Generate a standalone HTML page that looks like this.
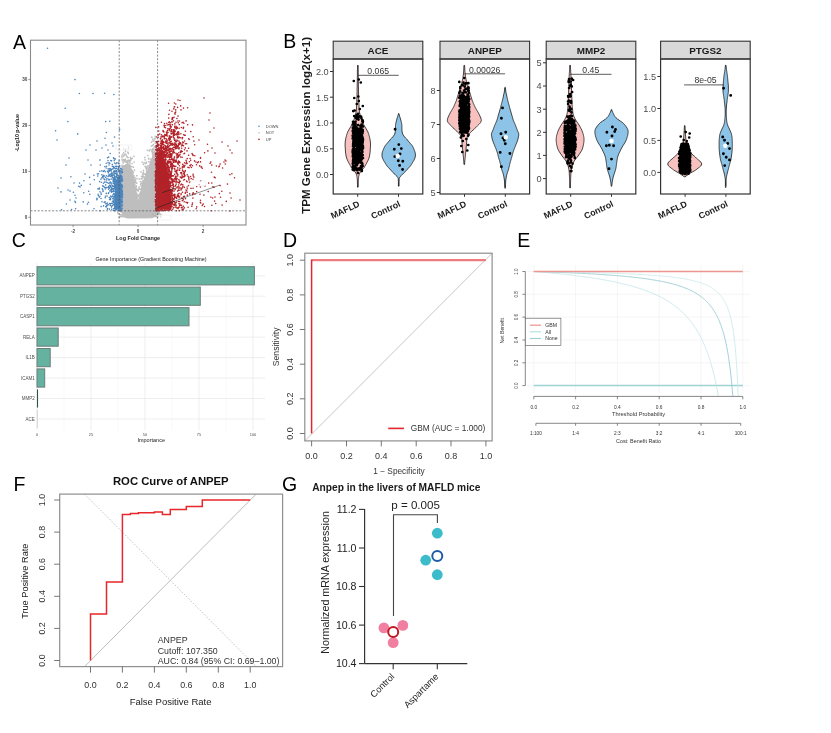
<!DOCTYPE html>
<html><head><meta charset="utf-8"><title>Figure</title>
<style>
html,body{margin:0;padding:0;background:#fff;width:831px;height:733px;overflow:hidden}
svg{display:block}
text{font-family:'Liberation Sans', Arial, sans-serif}
</style></head><body>
<svg width="831" height="733" viewBox="0 0 831 733">
<rect width="831" height="733" fill="#fff"/>
<text x="12.9" y="48.6" font-size="19.5">A</text>
<text x="283.2" y="48.2" font-size="19.5">B</text>
<text x="11.8" y="247" font-size="19.5">C</text>
<text x="283" y="246.5" font-size="19.5">D</text>
<text x="517.3" y="247" font-size="19.5">E</text>
<text x="13.5" y="490.6" font-size="19.5">F</text>
<text x="282" y="490.6" font-size="19.5">G</text>
<path d="M121.5 217.5 L121.5 166 L125 165 L128 165.5 L131 167.5 L133 172 L135 181 L136.5 191 L138 201 L139.5 196 L141 188 L143 181 L146 173 L149 165 L152 157 L155.5 149 L155.5 211 L160 211.8 L159 215.5 L152 218.3 L128 218.6 L120 216.5 L118.5 211.5 Z" fill="#bebebe"/>
<path d="M136.8 175.7h0M137.3 190.3h0M138.8 195h0M138.9 196.4h0M143 181.3h0M131.6 166.5h0M124.2 161.7h0M122.5 154.3h0M155.4 138h0M142.5 181.2h0M126.5 155.8h0M123.1 166h0M127.7 166.8h0M137.2 195.2h0M136.4 186h0M143.4 172.3h0M138.5 195.7h0M130.7 160.3h0M155.9 195.3h0M145.8 174.6h0M132 170.4h0M123.5 159.6h0M147.8 155.5h0M134.5 170.2h0M154.5 152.5h0M128.3 167h0M134.9 177.4h0M123.6 156.2h0M130.4 157.3h0M124.1 155.3h0M147.5 150.3h0M125.1 166.4h0M123.1 162.9h0M148.9 161.7h0M136.7 183.2h0M127.7 166.4h0M143.5 176.3h0M125.1 161h0M130.4 165.7h0M155 149.2h0M152 151.3h0M128.4 153.3h0M143.5 170.4h0M124.5 160.4h0M130 167.9h0M148 165.5h0M123.6 160.3h0M124.2 160.9h0M142 182.5h0M134 156.3h0M137.9 195.4h0M141.1 185.3h0M126.4 162.5h0M152.8 153.9h0M127.6 160.7h0M146.9 166.6h0M154.3 151.2h0M151.9 151.3h0M124.6 160.9h0M122.4 160.8h0M145.7 173.9h0M130 162.9h0M131.3 158.8h0M127.1 166.2h0M129 164.3h0M140.6 184.3h0M130.8 158.9h0M153.1 155.5h0M130.4 167h0M136.6 188h0M133.9 175.5h0M141 183.6h0M152.2 151.8h0M155.3 143.3h0M141.5 176.4h0M125.9 165h0M152.9 156.2h0M145.5 173.9h0M143.3 181.4h0M137.9 200.7h0M156 204.7h0M123.6 152.8h0M152.5 153.1h0M146.8 167.8h0M153 140.8h0M133.3 167.2h0M151.5 142.1h0M135.6 182h0M141 171.9h0M142.9 174.2h0M142.3 176.9h0M123.8 148.6h0M151.8 137.2h0M146.5 162h0M141.3 178.9h0M136.4 190h0M147.3 167.9h0M122 159.1h0M129.1 161.6h0M145.4 163.6h0M153.2 155.5h0M130 160.7h0M144.7 177.3h0M128.1 157.6h0M144.1 162.5h0M136.5 186.1h0M144.3 174h0M127.9 152.2h0M153 149.4h0M151.8 150.1h0M132.1 163.5h0M125.8 149.5h0M150.7 161.6h0M145.9 167.9h0M126.9 164.6h0M136.8 193.3h0M135.5 179.6h0M142.9 175h0M150.4 162.5h0M155.4 147.4h0M122.1 166.3h0M151.5 146h0M141 186h0M131.8 170.4h0M125.8 164.9h0M136.9 178.6h0M129.3 165.3h0M125.9 154.5h0M136.6 189.7h0M143 173.2h0M154.5 139.2h0M145 174.1h0M127.3 157.2h0M121.4 198.5h0M127.3 164.4h0M130.5 160.8h0M139.2 187h0M142.5 183.9h0M148.7 158.3h0M152.7 139h0M146.3 162.9h0M125.5 154.5h0M152.8 152.9h0M134.2 162h0M148.9 159h0M154 141.1h0M128.2 164.2h0M146.3 168.4h0M146.1 162.5h0M128.5 146.9h0M155.2 136.3h0M139.8 193.9h0M152.8 148.9h0M151 159.1h0M136.4 189h0M140.3 192.3h0M122 157h0M149.3 150.8h0M127.1 160.5h0M132.7 171.7h0M126.2 161.9h0M139.1 196.1h0M145.1 159.8h0M124 165.8h0M128.7 160.2h0M146.5 171.9h0M143.4 164.4h0M140.6 189.2h0M131.9 158.3h0M152.5 145.5h0M128.3 153.2h0M139.3 178.9h0M141.1 185.9h0M138.6 189.8h0M142.2 162h0M139.1 194.8h0M135 179h0M138.2 190.9h0M145.2 166.4h0M135.5 181.2h0M154.5 146.5h0M137.6 196.3h0M125.4 151.4h0M152.5 150.6h0M137.7 198h0M142.6 178.5h0M153.4 144.6h0M121.8 156h0M127.8 165h0M132.3 158.3h0M133.4 172.4h0M146.6 170.1h0M125.3 159.7h0M127.9 166.5h0M139.6 189.1h0M135.5 182.2h0M139.5 194.1h0M143.1 177.1h0M143.3 164.3h0M142.4 181.3h0M151 159.6h0M149.4 150.8h0M152.6 154h0M153.3 148.4h0M128.6 148.6h0M125.7 166.4h0M129.4 166.9h0M124.4 159.8h0M150.1 149.5h0M125.4 159.1h0M135.1 182.5h0M128 165.5h0M144.9 157.4h0M125 154h0M138.7 199.6h0M145 166.5h0M127.6 163.1h0M122.3 165.4h0M140.3 181.6h0M126.1 165.6h0M127.5 162h0M155.7 196h0M153.4 152.5h0M154.3 151.4h0M137.2 196.2h0M137.3 190.2h0M139 188h0M121.5 207.3h0M147.8 216.2h0M125 212.9h0M149.5 212.4h0M125.6 210.4h0M139.6 209.1h0M156.3 215.8h0M148 216.3h0M144.7 212.4h0M143.4 213.3h0M160.2 215.8h0M128.4 216.7h0M149.8 215.6h0M152.8 212.4h0M156.4 216.5h0M147.6 215.5h0M150.7 212.4h0M148.8 209.6h0M132 213h0M117.5 212h0M145.1 214.3h0M127.2 217h0M146.3 211.9h0M146 213.8h0M140.5 212.3h0M161 214.5h0M147.9 215.5h0M160.1 209.2h0M144.1 215.3h0M128.3 212.4h0M119.2 210.7h0M133.5 209.8h0M128 216.7h0M141.2 213.3h0M159.6 213.8h0M160.8 214.4h0M152.6 209.6h0M143.3 215.5h0M119 216.9h0M124 213h0M124.4 213.2h0M143.9 209.5h0M158.6 212.6h0M140.2 214.1h0M133.1 211.4h0M145.8 213.8h0M129.5 215.1h0M130 209.1h0M127.8 209.4h0M123.9 215.4h0M134.2 216.6h0M149.9 209.4h0M160.5 217h0M120.2 216.7h0M135.9 213.1h0M159.8 211.1h0M140 217h0M148.8 213h0M160.1 215.9h0M143.6 210h0M144.5 212.9h0M126 209.4h0M140.2 210.1h0M136.5 214.7h0M137 211.2h0M142.6 212.6h0M151.2 213.5h0M160.9 217.1h0M149.3 211h0M122 216.6h0M151.5 214.3h0M132.8 211.3h0M147.1 213.8h0M143 214.4h0M150.1 210.6h0M128 217.3h0M157.3 216.5h0M118.7 209.5h0M128.9 212.6h0M144.4 209.9h0M140.8 209.6h0M120.8 214.7h0M141.2 214.4h0M133.4 213.1h0M126.3 211.9h0M149.8 216.1h0M120.3 210h0M152.6 214.3h0M150.8 210.8h0M135.7 211.2h0M152.6 212.1h0M145.8 217.4h0M131.3 213.7h0M149.8 216.8h0M135.8 212.1h0M121.3 216.4h0M120.5 209.7h0M141.8 213.1h0M147.2 211.5h0M151.1 209.6h0M126.4 214.6h0M120.6 211.6h0M148.9 214.9h0M129.4 210.2h0M132.7 215.2h0M133.1 210h0M148.2 213.8h0M157.4 217h0M157.2 212.7h0M152.3 211.6h0M131 212.4h0M158.1 216.6h0M127.9 212.1h0M133.1 212.1h0M134.4 212.3h0M125.6 213.8h0M152.1 213.6h0M153.8 213.8h0M124.8 215.5h0M155.8 211.4h0M118 213.4h0" stroke="#bebebe" stroke-width="1.7" stroke-linecap="round" fill="none"/>
<path d="M121.5 209.5L121.5 174L118 178L115.5 186L114.5 196L114 209.5Z" fill="#4a84bb"/>
<path d="M111.4 169.4h0M113.1 204.8h0M107.4 209.2h0M109.8 163.2h0M111.6 197h0M122.3 208.2h0M119.8 177.1h0M121.8 201.7h0M109.4 188h0M108.6 179.4h0M114.6 177.5h0M113.8 186.2h0M113.1 180.9h0M115.6 185.3h0M119.6 198.1h0M113.6 157.7h0M118.7 197.6h0M115.9 166.6h0M115.4 202h0M113.3 210.5h0M113.4 179.8h0M120.5 205.9h0M120.1 195.2h0M120.1 208.2h0M119.7 197.2h0M122.2 193.1h0M118.4 204.8h0M107.4 203.1h0M101 193h0M122.1 172h0M119.8 193.7h0M115.4 168.7h0M119 207.9h0M114.1 173.5h0M119.8 210.8h0M118.2 193h0M115.2 187.6h0M115.5 185.9h0M113.6 200.9h0M115 186.3h0M116.4 176.3h0M114.2 183.2h0M111.1 173.7h0M117.4 179.9h0M119.2 177.9h0M119.7 179.9h0M113.3 183.2h0M121.3 194.3h0M108.6 189.3h0M121 195.9h0M99.8 171.2h0M121.8 194.8h0M121 191.2h0M121.3 171.8h0M120.7 188.9h0M120.4 181.4h0M120.2 187.4h0M119.1 205h0M121.7 179.3h0M109.3 197.5h0M120.8 206h0M111.4 171h0M118.7 169.8h0M119.3 201.1h0M120 189.6h0M104.4 182.1h0M109.6 175.1h0M118.8 200.8h0M121.2 192.4h0M114.7 194.1h0M116 204.5h0M118.6 177.3h0M115.7 182.6h0M118.6 195.9h0M114.2 160.6h0M114.6 188.6h0M113.7 158.4h0M108.4 172.7h0M115.5 166.3h0M121.4 196.7h0M110.3 198.4h0M114.9 191.2h0M105.3 189h0M113.3 188.8h0M116 173.5h0M106 182.1h0M110.6 185.6h0M117.3 187.9h0M119.8 190.5h0M120.6 201h0M101.4 182.2h0M117.8 169.7h0M113.7 167.8h0M116.6 188.3h0M117.1 179.7h0M117.6 190.4h0M115.2 183.8h0M109.6 199.5h0M110.8 189.5h0M111.9 172.7h0M121.8 200.3h0M105.4 171.8h0M114.5 179.9h0M113.5 190.2h0M104.8 187.4h0M109 165h0M121.2 188.6h0M118.5 198.4h0M115.6 181.7h0M120.3 180.5h0M116 196.2h0M117.4 203.7h0M102.7 189.6h0M116.3 180.9h0M120 175.8h0M119.2 179.4h0M114.6 163h0M115.9 195.6h0M121.1 173.2h0M119 200.1h0M120.2 209.9h0M116.4 190.9h0M99.9 196.3h0M120.6 168.8h0M117.9 177.9h0M116.4 195.4h0M101.1 206.6h0M118.6 177.4h0M118.5 178.8h0M115.1 158.7h0M121.5 185.5h0M113.6 208.8h0M121.3 176.3h0M120.7 195.6h0M114.5 202.7h0M112.8 195h0M121.6 169.1h0M119 187.7h0M100.9 179.3h0M111.7 209.3h0M116.6 201.2h0M121.3 200h0M122.4 202.6h0M117.1 173.9h0M120.3 190.4h0M122.6 180.8h0M116.9 185.4h0M117.4 186.7h0M120.4 196.2h0M114.9 194.7h0M117.3 178.3h0M116.3 190.5h0M108.2 168.9h0M120.9 194h0M120.5 180.7h0M110.8 174.5h0M106.2 206.9h0M121.6 188.5h0M113.7 193.7h0M121.6 177.3h0M112.4 177.8h0M122.2 193.2h0M115.1 180.4h0M115.6 184.4h0M108.4 193.5h0M122.4 179.1h0M114.9 204.3h0M115.3 195.7h0M120 189.5h0M120.7 200.2h0M108.3 204.7h0M121.5 190.4h0M116.7 187h0M120.5 170.6h0M121.4 209.9h0M122.4 191.6h0M102.3 188.7h0M109.4 163.1h0M113.7 178.5h0M114.9 176.7h0M114.7 178.6h0M113.9 171.1h0M111.1 190h0M119.3 183.3h0M119.5 196.3h0M115 187.8h0M109 170.9h0M120.1 200.7h0M119.5 203.3h0M116.9 197h0M106.6 166.3h0M121.6 197.2h0M114.8 178.7h0M119.3 198.6h0M118.7 200.3h0M116.7 181.1h0M119.6 193h0M122.4 201.5h0M120.7 197.2h0M112.6 198.6h0M120.7 185.6h0M120 203.7h0M119.9 182.4h0M109 188.4h0M120.4 194.5h0M120.7 183.9h0M107.6 171.4h0M118.6 163.5h0M119.7 172.9h0M105.2 201.9h0M120 193.6h0M120.1 191.9h0M117.6 190h0M117.6 183.2h0M115.9 189.5h0M115.7 186.8h0M115.7 171.7h0M109.4 209.1h0M116 202.8h0M120.1 187.8h0M113.9 198.1h0M122.6 194h0M113.6 202.5h0M119.8 193.5h0M105.8 203.8h0M103.5 183.2h0M113.9 197.3h0M116.4 171.9h0M116.2 176.2h0M117.9 186.8h0M119.5 165.7h0M119.1 196h0M119.8 206.9h0M113.9 199.8h0M109.6 183h0M114.4 179.8h0M114.6 194.4h0M116.7 183h0M118 180.4h0M120.2 187.7h0M111 190.9h0M119.3 176.7h0M122 191.4h0M117.9 196.7h0M119.5 204.2h0M121.4 194h0M121.2 209.7h0M110.5 203.8h0M122.3 171.7h0M111.5 189.7h0M120.9 200.9h0M121.6 189.7h0M114 181.2h0M110.4 182.7h0M116.4 176.1h0M121.9 206h0M104.2 176.1h0M113.4 181.7h0M116.5 175.9h0M119.8 181h0M120.7 196.1h0M119.2 197.2h0M121.6 186.5h0M113.9 194h0M117.2 208.8h0M112.9 169.1h0M113.7 179.3h0M107.1 205.8h0M120.7 170.9h0M122.5 197.5h0M121.8 185.9h0M114.8 188.8h0M121.1 187.1h0M122.4 205.2h0M116.6 209.8h0M118.3 163h0M117.2 175.5h0M108.6 183.2h0M112 176.1h0M117.4 175.1h0M103.5 205.9h0M115.3 210.7h0M117.2 203.5h0M115 173.8h0M118.6 202.8h0M117 193.6h0M106.4 175.8h0M121.8 184.9h0M115.4 178.7h0M104.8 179.8h0M120.7 179.1h0M110.9 196.6h0M116 176.8h0M119.4 189.1h0M118.2 168.8h0M120.9 192.9h0M122.3 185.2h0M109.6 203.6h0M118.7 192h0M121.5 188.8h0M116.1 182.3h0M116.8 174.4h0M116.1 194.2h0M113.1 168.3h0M120.9 175.2h0M119.4 177.3h0M115.1 202.7h0M105.7 184.9h0M116.8 186.9h0M119.7 165.9h0M114.8 194.3h0M118.6 177.1h0M119 188.8h0M114.8 195.2h0M113.1 191.1h0M110.2 185.8h0M112.5 174h0M116.8 162.7h0M122 186.4h0M113.5 172.1h0M103.5 171.4h0M120.9 171.6h0M107 178.5h0M94 208.7h0M112.9 205.4h0M119.1 193.8h0M118.7 200.4h0M120.4 188.8h0M120.2 206.3h0M117.1 189.9h0M104 178.9h0M117.6 199.9h0M114.5 170.8h0M120.3 204.4h0M109.2 171.3h0M119.8 172.6h0M119.2 165.9h0M121.8 187.4h0M121.2 194.8h0M117.5 188.3h0M111.5 207.1h0M113 179.7h0M119.5 170.3h0M116.1 204.4h0M108.8 175.9h0M117.6 187.1h0M114.9 182.1h0M118.7 196h0M101.2 194.3h0M120.7 190.5h0M118.6 183.8h0M114.3 196.9h0M114.4 179.7h0M114.7 210.7h0M116.2 187h0M115.4 180.9h0M119.4 196.3h0M109.7 185.3h0M115.4 171.4h0M115.5 192.6h0M107.1 196h0M116.9 174h0M118.6 178.8h0M120.7 184.6h0M114.2 186.8h0M117.2 174.4h0M98.4 173.7h0M109.2 170.7h0M113.1 191.8h0M113.7 178.3h0M117.2 179.9h0M119.2 189.9h0M122.4 205.1h0M115.1 185.1h0M122.2 170h0M121.9 193.7h0M104.9 166.6h0M121 195.7h0M111.8 206h0M120.7 194h0M114.3 196.8h0M113.4 190.8h0M121.4 197.1h0M116.7 187.8h0M113.3 175h0M108.7 192.8h0M111.8 191.6h0M108.9 176h0M121.5 202.5h0M116.5 189.2h0M116.5 202h0M116.7 166.3h0M111.7 203.3h0M119.5 196.8h0M107.2 182.6h0M109.5 168.8h0M111.6 188.9h0M115.2 199.4h0M122.1 199.2h0M113.4 188.9h0M113.7 204.3h0M121 190h0M113.9 200.8h0M115.6 191h0M116.1 177h0M121.4 192.7h0M121.6 186.1h0M114.3 184.2h0M117.4 179.4h0M116 190.5h0M107.6 208.5h0M116.9 194.3h0M119.9 182.2h0M116.6 177.2h0M100.3 165h0M118.9 171.5h0M119.5 205.5h0M122.4 187h0M103.1 186.1h0M101.8 174.8h0M121.8 181.2h0M110.8 160.5h0M119.5 179.5h0M108.6 186.4h0M113.5 201.3h0M116.4 196.4h0M109.9 169.2h0M118.4 205.3h0M114.4 167.9h0M117.1 193.3h0M105.8 206.5h0M115.5 207.7h0M114.6 176.9h0M113.2 182.1h0M110.7 196h0M122.3 190.2h0M120.1 196.8h0M115.5 178.8h0M113.6 166.6h0M115.1 180.5h0M114.6 179.5h0M121.9 176.4h0M116.4 209.3h0M118.6 185.8h0M111.2 179.1h0M103.1 190.7h0M116.1 177h0M116.4 170.6h0M109 180.1h0M114.9 204.2h0M108 176.5h0M109.7 191h0M119.1 176.7h0M111.5 173.8h0M106.1 187.6h0M108.1 162.7h0M118.1 166.8h0M122 204.9h0M115.9 197.1h0M122.5 186.9h0M121.6 192.8h0M104.3 202.4h0M111.4 192.2h0M108.5 187.2h0M111.8 188.2h0M122.4 172.4h0M112.3 188.3h0M114.3 175.4h0M112.6 186.2h0M118.8 168h0M106.1 168h0M105.2 197.7h0M118.4 171.6h0M116 194h0M120.9 210.9h0M99.4 189h0M112.9 195.2h0M112.9 196.3h0M114.3 187.7h0M118 181.5h0M119 188.7h0M100 191.7h0M117.6 190.3h0M116.3 184.6h0M103.1 177.2h0M120.9 190h0M111.1 186.9h0M106.7 205.6h0M100 210.8h0M108.7 157.1h0M120.3 176.8h0M118.5 192.5h0M121.8 199.8h0M108 160.6h0M118 200.5h0M121.7 178.8h0M121.7 180.1h0M115.7 180.1h0M120.8 189h0M118.6 185h0M98.1 194.3h0M117.8 177.4h0M117.9 172h0M116.9 190.1h0M101.9 177.9h0M121.3 187.4h0M118.1 205.1h0M115.2 182.2h0M83.9 180.7h0M97.7 176h0M116 180h0M108.2 171.2h0M112.3 164.5h0M114.9 206h0M83.2 201.9h0M70.9 176.7h0M115.9 163.8h0M76 198h0M120.3 174.7h0M74.9 201.2h0M115.1 206.2h0M121.4 187h0M115.8 209.2h0M120.5 184.2h0M110.2 182h0M75.6 208.8h0M118.6 210.4h0M81.3 185.4h0M119.8 200.2h0M97.4 174h0M112.7 177.2h0M119.2 178.3h0M61.6 209.7h0M121.7 209h0M119.6 179.6h0M118.6 175.9h0M111.5 183.9h0M122.4 196.1h0M121.9 203h0M112.4 185.5h0M116.5 186.6h0M114 191h0M112.7 188.9h0M78.7 186.2h0M88.4 202.3h0M117.2 202.7h0M102 201.8h0M75.5 202.4h0M121 186.9h0M111.6 161h0M111 182.5h0M117.6 184.9h0M106.6 180h0M112.1 175.5h0M66.4 204h0M96.9 198.4h0M94.3 179.7h0M111.4 173.3h0M109.6 175.6h0M117.1 174.2h0M111.4 191h0M93.9 175.3h0M61 191.9h0M102.7 185.9h0M96.7 199.8h0M118.1 177.7h0M122.2 195.1h0M107.5 157.7h0M79.5 183.1h0M120.7 168.3h0M89.8 194.3h0M99.9 160.1h0M107 203.5h0M90.2 184.2h0M98 188.9h0M106.3 193.4h0M114.8 188.9h0M97.2 199h0M105.6 177.4h0M116.5 204.6h0M119.3 189h0M116.2 186h0M83.8 192.7h0M70 191.1h0M116.1 204.4h0M122 177.7h0M110.3 187h0M119 190.3h0M118.2 193.1h0M115.6 185h0M75 195.3h0M118.3 185.7h0M71.5 209.5h0M99.6 181.6h0M106.2 163.3h0M110.1 168.5h0M110.6 199.6h0M120 189h0M117.5 180.3h0M99.3 188.1h0M103 191.4h0M112.3 166.2h0M87.5 204.1h0M103.6 186.6h0M120.4 201.2h0M114.3 185.7h0M104.3 170.5h0M120.4 204.7h0M112.3 203.2h0M112.5 201.2h0M73.4 192.3h0M116.5 168.4h0M120.6 194.3h0M111.2 175.3h0M114.5 172h0M102.9 176.3h0M115.3 195.3h0M107 187.6h0M116.8 184.4h0M88.7 191.3h0M115.1 159.2h0M114.4 181.5h0M101 198.5h0M105.5 196.3h0M113.5 178.2h0M110.2 153.5h0M115.9 171.8h0M99.3 197.1h0M107.4 205h0M119.1 161h0M121.6 181.1h0M114.7 195.1h0M102.7 176.4h0M118 188.9h0M109.4 179.6h0M98.3 195.6h0M101.9 170.9h0M110.6 176.5h0M119.7 176.5h0M117.1 182.2h0M113.9 208.6h0M110.5 170.6h0M109.1 174.3h0M121.3 188.4h0M103.8 175.2h0M117.5 199.3h0M110.3 205.4h0M120 189.5h0M89.6 177.4h0M120.6 202.1h0M47.5 48.2h0M75 79.6h0M79.4 93.5h0M93 93.5h0M104.6 93.2h0M113.9 94.6h0M65.2 108.2h0M67.9 121.6h0M105.7 121.6h0M109.8 121.2h0M55.6 130.7h0M77.7 133.9h0M106.4 132.5h0M105 138.2h0M114.6 137.1h0M119.6 129.4h0M57 140h0M69 158h0M66 165h0M61 178h0M58 188h0M68 190h0M70 200h0M74 183h0M80 187h0M85 174h0M91 165h0M96 150h0M100 160h0M106 145h0M112 143h0M90 145h0M86 150h0M102 148h0M108 150h0M97 141h0M113 146h0M88 160h0" stroke="#4a84bb" stroke-width="1.6" stroke-linecap="round" fill="none"/>
<path d="M156.5 209.5L156.5 153L159 152L162 155L165 161L167.5 170L169.5 182L171 196L171.5 209.5Z" fill="#b22228"/>
<path d="M161.3 207.7h0M176.1 205.8h0M166.5 207.9h0M161.3 201.8h0M162.1 181.8h0M161 145.9h0M172 133.5h0M156.9 163.6h0M175.7 146.3h0M168.6 138.5h0M172.8 203.8h0M168.3 175.4h0M175.6 207h0M161.7 155.6h0M175.2 197h0M164.5 179.1h0M158.7 184.4h0M173.5 135.2h0M161.1 207.1h0M158.1 197.4h0M165.7 200.2h0M166.2 164.5h0M163.2 183h0M158 201.9h0M162 177h0M175.1 147.2h0M166.9 143.2h0M155.8 182.4h0M160.9 192.9h0M167.6 162.3h0M171.7 144.6h0M162.8 208.4h0M156.4 158.2h0M163.4 201.6h0M172.7 168.3h0M163.3 194h0M169 129.1h0M185.4 143.7h0M164.4 137.8h0M170.9 185.9h0M165.8 148.5h0M193.3 192.9h0M163.3 155.8h0M168.6 124.8h0M176.3 144.8h0M162.5 180.2h0M171.7 201.3h0M171.3 173.4h0M172.1 204.1h0M159 180.4h0M175.8 166.4h0M172 204.6h0M162.2 161.3h0M159 198.9h0M178.9 190.1h0M156.3 196.5h0M188.8 178.6h0M156.8 178.8h0M167.6 150.6h0M172 169.7h0M159.9 170.3h0M161.5 134.8h0M156 145.9h0M157.6 200.5h0M156.2 149.7h0M166.8 190.3h0M164.5 166.1h0M160 176.7h0M167.7 195.6h0M193.2 175.8h0M159 166.1h0M162.6 178h0M178.3 157h0M155.9 158.5h0M179.1 193.3h0M160.9 143.5h0M171.6 159.3h0M156.1 162.2h0M160.1 202.7h0M182.5 170.1h0M158.9 154.6h0M179.5 196.7h0M163.7 189.2h0M162.2 161.1h0M159.3 169.1h0M160.8 167.4h0M168.7 170.7h0M173.4 186h0M156.2 154.3h0M166.8 173.6h0M162 184.7h0M158.7 174h0M158.6 192.1h0M161.3 140.7h0M164.9 201.9h0M176 122.2h0M183.9 123.3h0M163.8 174.3h0M183.2 166.9h0M193.9 177.1h0M174.4 196.4h0M169.6 188.1h0M156.2 173.8h0M157.5 162.4h0M160.6 143.4h0M165.8 181.9h0M158.3 162.6h0M160.8 173.5h0M155.9 210.8h0M160.4 138.9h0M158.5 166.9h0M157 153.2h0M174.9 196.1h0M160.9 178.2h0M156.1 178h0M168.9 114.4h0M160.7 184.3h0M168.9 190.6h0M157.4 180.1h0M159.9 203.7h0M169.9 138.3h0M162.2 164.7h0M159.9 164h0M164.9 206.6h0M157.9 172.3h0M168 132.5h0M159.1 162.1h0M159.1 194.5h0M178.7 161.8h0M166.3 153h0M165.5 202.5h0M165.7 162.9h0M171.4 205.3h0M167.8 143h0M179.2 183.1h0M170.7 137.4h0M179.3 144.5h0M167.7 171.6h0M159.5 182.9h0M173.1 184.8h0M163.7 157.2h0M156.6 201h0M174.4 166.5h0M183.4 165.3h0M160.2 148.3h0M155.3 171.5h0M158.6 159.9h0M185.3 171.1h0M169.8 181.7h0M174.4 160.7h0M174.7 204.1h0M172.9 161h0M164.8 169.1h0M158.6 155.1h0M173.1 185.5h0M160.1 180.4h0M170.8 192.6h0M187 150.9h0M155.4 176.7h0M166.2 135.4h0M162.6 152h0M157.4 209.1h0M162.1 150.5h0M174.7 174.3h0M161 141.8h0M160.9 166.5h0M170.5 155.4h0M176.8 141.5h0M171.6 164.6h0M166.2 154.3h0M162.9 143.8h0M161.5 169.1h0M169.9 174.7h0M157.8 155.5h0M165.4 185.2h0M160.8 163.2h0M159.7 194.9h0M155.9 163.2h0M164.5 183.8h0M158.9 180.5h0M155.7 172.3h0M159.2 205.2h0M159.3 156.3h0M157.2 181.5h0M164.9 208.6h0M166.4 132.3h0M174.7 106.7h0M161.6 158.5h0M169.8 191.8h0M166.9 189.8h0M173 132.1h0M177.2 156.4h0M178.4 143.9h0M164.4 167.1h0M176.5 148.4h0M176.9 145.6h0M161.6 203.5h0M173.5 149.8h0M169.3 156.9h0M159.6 169.6h0M169.1 191.9h0M161 153.4h0M165 150.1h0M172.1 183h0M164.3 176.5h0M156.2 187.9h0M161.1 168.2h0M156.2 150.3h0M162 207.2h0M172.3 195.4h0M156.2 170.9h0M157.1 193.8h0M158.7 131h0M162.3 183.6h0M156.4 150.6h0M157.7 190.6h0M168 169.8h0M163.7 201.7h0M162.2 209.3h0M165 200.6h0M167.8 130.6h0M157 191h0M163.2 192.4h0M177.1 187.8h0M158.1 205.3h0M156.2 171.9h0M156.7 201.2h0M164.5 138.8h0M160.1 174.7h0M178.9 179.6h0M166.6 188.5h0M186.1 202.3h0M164.3 153h0M163.6 171h0M166.1 208.4h0M177 178.9h0M165.8 183.5h0M183.5 142.6h0M157.5 196.8h0M156.7 203.6h0M159.3 180.9h0M168.4 167.2h0M155.9 166h0M163.4 171h0M155.9 187.2h0M157.3 203.7h0M158 154.7h0M164.6 161.3h0M161.5 156.7h0M170.1 184.6h0M155.4 172.8h0M170 173h0M162.2 183.3h0M169.8 149.8h0M158.1 164.8h0M168.9 148.8h0M169.9 172.2h0M163 172.1h0M169.2 151.2h0M156.4 164.1h0M164.9 156h0M172.2 200.4h0M173.8 132.9h0M184.6 153.3h0M170.4 176.3h0M177.6 107.4h0M165.7 179h0M158.4 191.8h0M168.2 165.9h0M181.7 148.3h0M176.5 202h0M155.8 158.6h0M165.1 145.6h0M156.3 202h0M160.8 138.3h0M164.9 188.6h0M161.9 208.9h0M183.5 108.1h0M158.5 173.5h0M157.1 203.6h0M174.9 181.6h0M160.2 152.3h0M157.6 143.6h0M184.5 149.8h0M169.8 181.4h0M174.9 123.9h0M157.4 208.5h0M157.2 166.1h0M170 153.7h0M165.9 196.6h0M158.5 156.3h0M159.3 197.2h0M159.4 154.8h0M161.5 209.9h0M163.4 187.7h0M157.8 155.5h0M172.6 202.7h0M167.8 164.7h0M164.8 190.8h0M173.3 195.5h0M167.8 181.6h0M174.6 140.6h0M171 206.9h0M173.9 149.7h0M167.4 192.8h0M180.7 152.6h0M173.3 136.1h0M161.1 210.1h0M166.1 205.1h0M161.1 136.7h0M163.8 155.1h0M164.7 174.2h0M168.2 162.5h0M159.2 157.2h0M160.9 181.6h0M166.7 141.4h0M159.3 163.7h0M157 193.4h0M161.8 148.2h0M157.9 187.1h0M170.1 200.9h0M170.6 122.8h0M178.6 195.6h0M172.5 163.4h0M178.9 133.7h0M159.8 154.8h0M173.5 175.7h0M157.6 162.7h0M163.8 131.9h0M183.6 134.7h0M155.8 185.6h0M160 204.9h0M162 162.9h0M156 161h0M181.4 127.5h0M170 207.4h0M156.5 178.9h0M173.4 207.8h0M159.1 203.1h0M157.7 195.7h0M166 188.3h0M164.9 160.8h0M161.2 205.7h0M177.2 127.3h0M159.4 200.4h0M173 147.7h0M166.2 193.6h0M156.7 203h0M169.4 177.3h0M166.5 150.6h0M161.5 209.2h0M176.6 198.4h0M158.2 173h0M166.1 206.7h0M170.2 209.1h0M175.4 179.8h0M156.4 153h0M158.7 182.6h0M159.4 159h0M158.6 178.7h0M169 139.5h0M157.3 174.9h0M174.1 194.7h0M171.1 153.8h0M175 194.7h0M160.2 179h0M160.8 165.2h0M159 199.9h0M179.4 142.2h0M185.3 170.6h0M160.1 202.3h0M162.3 203.6h0M161.4 190.6h0M169.9 184.7h0M167.4 146.6h0M163.2 202.9h0M157.8 172.6h0M182 145h0M160.9 161.8h0M168.2 166.4h0M157.9 197.2h0M156.7 160.9h0M158.8 144.6h0M177.6 134.8h0M164.8 168.6h0M174 117.2h0M162.9 169.9h0M169.1 196.9h0M176.9 128.6h0M164.3 187h0M177.7 147.8h0M161.6 174.6h0M161.6 202.1h0M161.8 151.8h0M176.2 176.3h0M161.1 147.4h0M172.1 163.8h0M163.9 175.8h0M173.4 184h0M155.5 171.5h0M181.5 172.6h0M156 206.8h0M165 202.5h0M172.9 184.3h0M177.7 162.4h0M158.8 176.5h0M155.9 164.2h0M167.7 204.7h0M172.4 190.5h0M162.3 208.9h0M173.3 181.6h0M174.2 181h0M155.6 194.1h0M178.4 145.5h0M173.5 129.8h0M168.1 194h0M168 177.4h0M172.2 167.9h0M155.8 183.7h0M179.2 147.8h0M173.6 161.1h0M162.8 183.4h0M155.9 176.5h0M180 204.1h0M169.9 177.7h0M165.7 184.2h0M156.8 188.2h0M157.2 172.3h0M164.4 151.6h0M166.2 172.5h0M159.6 154h0M160 154.5h0M173.7 162.3h0M156.6 193.6h0M175.3 134.2h0M168.6 103.3h0M199.7 165.9h0M159.6 206.4h0M173.4 166h0M158.3 173.3h0M170.5 173.7h0M163.9 206.6h0M164.9 193.4h0M170.5 197.2h0M168 196.3h0M161.7 166h0M163.1 130.5h0M178 194.9h0M184.5 175.1h0M165 206.6h0M164.3 138.7h0M168 160.8h0M177.9 162.3h0M170.2 128.7h0M157.6 143.4h0M174 158.3h0M157.2 188.6h0M168.4 155.7h0M157.7 165.2h0M162.2 210.8h0M172.1 181.1h0M155.9 166.2h0M159.5 162.1h0M157.8 160.9h0M169.7 155h0M171.8 133.9h0M155.6 154.5h0M159.7 156.9h0M155.8 195.7h0M181.3 207.6h0M156.4 205.2h0M161.5 134.9h0M171.1 179.5h0M172.4 198h0M166 191h0M169.1 198.8h0M179.7 181.9h0M160.3 195.3h0M161.4 151.9h0M158.2 156.7h0M155.5 201.4h0M170.2 166h0M157.8 164.9h0M158.2 202.6h0M163.9 191.8h0M156.9 210.7h0M174.1 194.6h0M171.1 143.4h0M167.8 207.4h0M156.5 205.8h0M163.9 169.5h0M162.2 153.9h0M168.3 200.1h0M157.1 195.2h0M169.4 121.8h0M159.8 183.2h0M163.6 146.9h0M170.8 164.2h0M168.5 171.3h0M163.7 162.2h0M173.9 160.6h0M158.9 206.8h0M165.6 185.8h0M169.9 152.9h0M165.9 186.2h0M156.6 203.7h0M184.4 196.2h0M177.2 146.5h0M177.4 196h0M157.8 144.2h0M156.9 148.3h0M168.4 203h0M163.2 169.4h0M167.6 167h0M173.2 179.3h0M164.4 159.3h0M180.5 143.4h0M161.6 204.6h0M171.2 174.7h0M168.3 170.8h0M164.3 183.1h0M164.5 208h0M161 169.6h0M170.6 161.5h0M163.2 160.2h0M169.2 151.3h0M165.2 157.6h0M170.6 182.8h0M166.2 172h0M162.3 151h0M178.8 186.8h0M182.9 200h0M164.8 134.5h0M166.7 206.5h0M161.3 183.4h0M180.2 181.3h0M159 197.1h0M171.9 151h0M158.5 161.5h0M158.3 168h0M160.1 165.2h0M182.6 170.7h0M186.4 162.1h0M161.6 149.7h0M165.7 201.2h0M170.2 175.7h0M162 194.4h0M157.6 174.3h0M156.4 164.6h0M170.7 196.1h0M165.3 154.6h0M156.5 142.6h0M164.8 180.7h0M165.2 176.3h0M160.5 177.7h0M175.3 161.3h0M158.7 159.4h0M170.6 153.5h0M182 188.5h0M159.6 187.2h0M164.2 196.2h0M155.4 186.5h0M181.1 150.5h0M167.3 175.4h0M165.6 148.5h0M165.5 182.5h0M167.4 192.4h0M174.9 130.5h0M165.9 150.5h0M176 146.8h0M158.9 195.8h0M158.1 184.5h0M157.6 174.4h0M155.7 209.5h0M156 204.5h0M166.6 149.5h0M171.7 176.1h0M180 168.4h0M158.3 185.6h0M162.9 206h0M184.6 141h0M176.4 160.1h0M163.5 163.3h0M174.4 198.3h0M157.1 157.5h0M166.3 149.7h0M166.4 179.9h0M160.1 207.6h0M182.2 168h0M171 157.1h0M166.7 154.3h0M171.8 167.2h0M160.5 182.6h0M170.1 197.8h0M156.3 183h0M198.3 161.9h0M157.6 167.2h0M165.6 146.2h0M170.3 182.8h0M175.8 140.1h0M176 202.7h0M172 182h0M171.4 171.5h0M159.2 152.9h0M159.1 170.1h0M164.8 210.2h0M163.5 175.3h0M163.2 188.3h0M158.5 201.8h0M167.5 203.2h0M168.8 175.3h0M172.8 175.8h0M155.7 205.8h0M175.1 131.6h0M160.7 163.8h0M166.2 143.1h0M158.8 188.4h0M156 209.5h0M177.9 136.7h0M156 154.4h0M166.8 208.4h0M155.3 199.8h0M169.7 177h0M167 134.3h0M155.9 153.6h0M184.3 166.8h0M174.4 138.2h0M166.5 188.2h0M170.2 172.9h0M170.8 176.8h0M165.3 148.2h0M164.3 206.6h0M170.4 141.4h0M175.5 148.7h0M165.1 161.4h0M157.6 178h0M156.9 201.2h0M177.6 132.1h0M167.5 198.8h0M158.2 178.8h0M159.4 206.2h0M159.4 207.4h0M169.7 174.6h0M171 156.3h0M158.5 192.3h0M168.1 161h0M160.3 176.9h0M156.5 179.8h0M173.6 151.4h0M184.5 135.3h0M158.7 200.9h0M160.3 201.2h0M171.5 163.3h0M176.9 172.1h0M161.7 198.4h0M176.3 161.6h0M193 179.2h0M157.6 161h0M168.7 149.8h0M185.1 175.8h0M157.7 208.3h0M175.7 112.1h0M169.6 209.6h0M158 172.3h0M166.9 207.2h0M158.8 177.8h0M163.4 179.6h0M155.7 208h0M163.7 170.8h0M167 187.5h0M168.5 163h0M175.4 204.1h0M166.5 135.1h0M161.8 182.7h0M171.5 201.7h0M165.7 158h0M159.4 175.3h0M156.6 161h0M163.2 186.1h0M159.5 155.2h0M157.8 194.9h0M188.5 185.6h0M162.7 152.9h0M161.2 163.1h0M155.5 164.4h0M171.9 154.4h0M158 162.8h0M169.4 175.3h0M156.3 197h0M172 195h0M179.7 201.6h0M173.8 207.6h0M164.8 178.7h0M164.5 205.6h0M170 184h0M180.3 177.1h0M159.3 170.5h0M157.5 172.5h0M160.2 176.1h0M171.5 171.9h0M179.9 154.5h0M173.5 159.6h0M156.5 168.7h0M171.7 172.1h0M186.7 190.7h0M161.2 176.3h0M159.6 197h0M160.1 168.9h0M161.8 209.4h0M168.8 188.2h0M169.2 170.7h0M171.3 126.9h0M165.3 159.4h0M167.4 153.2h0M163.7 188.9h0M168.1 205.7h0M183.5 145.8h0M179.7 143.7h0M184.8 165.6h0M172.3 197.4h0M165.5 127.7h0M161.2 168.2h0M157.5 189.1h0M156.5 193.7h0M156.3 175.8h0M158.7 162.3h0M158 181.2h0M168 167.7h0M156.4 158.2h0M158.7 203.2h0M187.3 203.1h0M172.1 118.2h0M160.5 173.1h0M159.5 179.7h0M163.8 165.2h0M156.2 208.2h0M160.8 176.6h0M157.8 165.2h0M173.6 134.4h0M168.3 166.4h0M165.7 176.5h0M184.3 207.9h0M160.6 170.5h0M158.7 170.5h0M183.5 196.6h0M157.2 194.2h0M158.3 204.3h0M160.4 177.9h0M164.4 171.1h0M174.2 133.2h0M161.7 186.1h0M156.3 205.1h0M160.3 145.4h0M178.2 155h0M164.3 183.5h0M156.2 184.7h0M155.5 179.7h0M161 194.2h0M156.1 190h0M165.7 160.2h0M161.1 182.7h0M180.8 137.8h0M156.9 210h0M162.7 200.4h0M159.5 149.8h0M158.2 189.3h0M159.1 184.6h0M157.2 141.6h0M160.2 202h0M189.9 165.6h0M155.9 172.2h0M182.1 122.7h0M159.4 154.7h0M158.2 197.5h0M178.6 148.8h0M156.8 154.2h0M162.2 154.5h0M171.8 129.9h0M162.2 161.8h0M161 178.6h0M168.4 206.9h0M179.7 170.2h0M165.1 150.1h0M156.9 177.8h0M161.5 186h0M176.2 179h0M165.7 154.6h0M181.6 146h0M166.8 123.2h0M174.4 103h0M170 130.8h0M167.5 188.7h0M164.8 161h0M171.3 141.3h0M155.9 153.3h0M159.4 203.1h0M178.2 190.3h0M158.9 194.9h0M173.5 137.4h0M160 179.6h0M177.9 121h0M177.6 137.6h0M157.6 201.9h0M168.4 192.4h0M165.9 196.8h0M169.9 171.9h0M173.4 176h0M157.6 163.6h0M167.3 178.5h0M180.2 188h0M158.1 170.9h0M162.4 178.3h0M155.7 179.1h0M158 172.6h0M166.9 187.8h0M162.4 154.7h0M158.9 173.8h0M162.4 200.9h0M162.4 207.7h0M172.2 124.7h0M157.7 168.7h0M161.5 189.9h0M187.1 163.4h0M163.8 210.4h0M160 161.6h0M166 156.6h0M164.5 202h0M175.7 141.9h0M157.9 192.4h0M158.7 171.2h0M171.3 202.9h0M180.2 142.8h0M164.5 123.5h0M160.4 179.7h0M163.6 182.3h0M158.3 188.5h0M167.2 125h0M159.2 177h0M159.7 197.5h0M158.7 202.2h0M164.3 167.4h0M156.4 197.8h0M192.5 154.6h0M161.2 146.7h0M162.9 163.9h0M185.3 147.9h0M164.3 127.1h0M184.3 166.9h0M160.1 196.8h0M183.2 173.7h0M169.8 135.9h0M159.2 162.2h0M155.7 173.3h0M156.4 153.5h0M179.1 197.7h0M160.2 186.5h0M168.5 176h0M160.9 192.4h0M174.8 127.7h0M182.7 164.4h0M156.9 194.8h0M166.7 168.2h0M157.1 163.3h0M158.8 162.1h0M155.6 205.4h0M165.6 210.6h0M163.2 156.6h0M161.8 164.2h0M183.8 180h0M163.7 146.5h0M168 182.2h0M157.3 165.6h0M166.6 167.2h0M159.5 154.2h0M179.6 205.5h0M160.4 150.3h0M158.1 184.4h0M175.1 114.1h0M156.7 170.1h0M157.3 202.1h0M169.2 168.1h0M174.7 178.9h0M180.4 151.7h0M157.9 186.4h0M168 144.6h0M175.7 179h0M155.8 163.7h0M174.5 147.4h0M161.1 176.1h0M173.7 131h0M158.8 182.9h0M170.5 173.8h0M178.3 137.8h0M162.3 183.3h0M167.1 167.3h0M192.4 165.7h0M159.6 160h0M169.1 169.4h0M172.4 145.2h0M170.4 182.3h0M168.4 155.9h0M177 157.5h0M161.9 160.7h0M159.6 161.8h0M157.8 154.6h0M158.1 179.8h0M163.1 151.4h0M182.2 187.5h0M170.7 145.1h0M158.9 171.5h0M170.3 126.9h0M170.5 176.7h0M166.5 196.8h0M179.2 148.8h0M179.4 162.3h0M167.1 147.7h0M159.5 158.1h0M160.9 169.4h0M173.6 152.7h0M176 153.3h0M168.6 150.4h0M158.3 180.5h0M158.9 183.8h0M158.4 183.5h0M180 162.8h0M169.1 193.7h0M172.9 180.8h0M155.9 178.2h0M182.8 176.9h0M168.1 167.9h0M163.2 157.8h0M171 159.8h0M159 180.5h0M162.4 176.4h0M159.5 176.8h0M159.5 156h0M159.1 167.2h0M163 192.3h0M163.8 192.1h0M175.7 143.8h0M164.2 148.2h0M171.7 190.4h0M167 140h0M179.2 197h0M158.8 155.3h0M165.5 179.4h0M168.3 185.9h0M170.3 190.5h0M172.9 159.8h0M156.2 206.5h0M161.6 190h0M167.4 185.6h0M162.6 178.5h0M160.8 183.7h0M166.6 142.7h0M174.8 196.6h0M174.6 168.5h0M170.1 143.1h0M167.5 149.9h0M163.6 161.3h0M156.2 175.9h0M161.9 150.6h0M171.2 210.3h0M155.9 180.7h0M160.5 171.8h0M169 152.2h0M161.3 202.7h0M156.2 173.6h0M178.3 122.8h0M156.1 168.6h0M174.4 205.4h0M170.2 185.8h0M167 209.6h0M163.1 153.4h0M156.1 165h0M160.4 165.2h0M178.7 185h0M170.9 161.6h0M163.6 172.8h0M157.5 188.5h0M159 153.2h0M159.6 168.5h0M158.9 210.2h0M177.7 175.9h0M169.1 162.9h0M170.8 155.6h0M182.6 137.6h0M166.7 185.8h0M174.4 205.4h0M169.4 161.3h0M161.4 154h0M160.3 159.7h0M171.5 175.4h0M171.5 168.5h0M165.1 179h0M165.2 200.7h0M157.4 166h0M179.5 161.8h0M157.6 177.8h0M157.2 161.5h0M159.7 152.5h0M159.3 175.4h0M165.6 177.2h0M174.2 139.2h0M156 161.1h0M166.2 155.2h0M167.6 182.2h0M172.7 165h0M158.5 189.5h0M161 190.4h0M176.8 133.6h0M158.5 188.7h0M164.6 138.2h0M176.9 118.5h0M160.9 155.6h0M157.2 177.8h0M165.3 147.9h0M168.8 208.6h0M178.7 161h0M187.1 187h0M168.7 181.2h0M162.9 153.8h0M164.7 135.9h0M161.8 162.2h0M169.2 159.5h0M167.3 207h0M169.3 202.8h0M165.8 169.1h0M186.1 120.9h0M158.2 172.3h0M170.3 186.8h0M170.4 136.8h0M155.7 200.1h0M166.2 163h0M176.7 170.4h0M159.4 204.7h0M155.8 180.7h0M175.6 185.2h0M161.3 155.4h0M161.7 161.9h0M156.8 199.6h0M164.6 156.3h0M155.7 170.6h0M166.2 178.4h0M164.1 182.7h0M167.7 153.7h0M167.5 155.7h0M162.9 151.4h0M177.3 128.1h0M159.1 173h0M174.6 126.2h0M173.9 133.9h0M178.4 164.3h0M167.3 141h0M163 142h0M182.1 175.2h0M168.9 146.9h0M157.1 176.8h0M189 179.9h0M162.1 164.3h0M159.3 151.2h0M171.6 171h0M171.8 198h0M169.3 157.5h0M172.7 200.1h0M171.4 163.1h0M158.5 145.3h0M164.7 193.1h0M174.2 107.1h0M180.7 157h0M179.2 170.1h0M156.2 204.9h0M161 158.6h0M163.7 162.7h0M165.8 182.4h0M158.9 168.3h0M160 178.2h0M159.2 155.2h0M172 196.3h0M159.7 170.9h0M175.7 177.5h0M165.6 195.2h0M170.5 165.7h0M176.9 178.3h0M176.3 144.4h0M184.6 176.6h0M169.2 137.6h0M162 159.2h0M180 142.9h0M164.1 155.3h0M160.8 147.7h0M176.9 157.9h0M165.6 178.8h0M166.5 174.4h0M159.7 198.6h0M171.7 193.1h0M167.5 166.9h0M165.2 125.5h0M179 162.6h0M171.3 153.7h0M158.9 176.8h0M163.6 199.6h0M157.2 179.2h0M160.3 185.7h0M171.2 148.9h0M160.1 207.7h0M161.4 194.3h0M157.5 151.4h0M165.1 142.4h0M162 195.7h0M186.1 160.4h0M161.5 161h0M174.5 144.7h0M183.9 153.8h0M162.9 170.3h0M158.4 150.5h0M157.8 162h0M162.5 141.4h0M164.7 169.2h0M158.9 182.7h0M164 210.3h0M159.2 198.4h0M156.7 188.6h0M168.8 183.1h0M179.4 137.4h0M158.8 191.9h0M170.1 184.2h0M158.6 157.5h0M161.8 194.6h0M158.1 160.5h0M160.5 163.6h0M159 182.8h0M159.5 152.8h0M157.9 186.6h0M161.7 159.9h0M171.8 158.1h0M170.3 126.1h0M170.7 191h0M165.9 181.9h0M160.2 155.6h0M161.4 155.8h0M157.8 159.1h0M167.2 191.3h0M159.2 195.3h0M164.4 162.2h0M173.3 133.1h0M178.1 156.6h0M163.2 152.4h0M165.7 147.5h0M176.9 187.9h0M167.4 174.6h0M196.5 164.8h0M157.4 169.3h0M164.9 177.6h0M161.1 208.5h0M162.1 154.1h0M161.9 204.2h0M162.4 187.8h0M175.8 197.5h0M162.3 162.5h0M164.2 153.7h0M187.9 167.3h0M169.2 177.5h0M156.3 162.8h0M161.3 200.4h0M172.4 148.8h0M156.1 141.5h0M161.9 179.5h0M164.5 152.6h0M162.3 180.5h0M163.2 180.9h0M159.3 173.4h0M166 179.7h0M169.8 183.4h0M160.7 190.5h0M163.6 168h0M155.8 158.6h0M158.5 148.7h0M172.1 206.5h0M167.1 195.2h0M161.3 157.4h0M172.7 152.9h0M164.1 125.4h0M156 211h0M159.7 134.1h0M170.3 139.2h0M183.9 176.4h0M172.2 143.4h0M158.6 172.1h0M170.2 124.9h0M166.8 150.6h0M165.5 198.1h0M215.7 203.5h0M172.8 118.8h0M164 206.4h0M162.1 176.2h0M158.6 126.9h0M164.1 160.9h0M163 163.6h0M164.7 174.2h0M162.8 183.6h0M161.4 153.8h0M165 163h0M156.7 201.3h0M156.7 162.9h0M168.4 180h0M162.3 185.4h0M183.2 209.7h0M156.2 201.1h0M157.1 161.6h0M162.6 166.1h0M177.4 195h0M174 162.2h0M166.3 183.5h0M166.9 210h0M177.2 207.7h0M173.7 152.2h0M165.5 188.3h0M163.8 161.6h0M177.2 186.9h0M172.3 195.7h0M162.8 189.9h0M179.5 210.6h0M172.6 167h0M179.8 143.9h0M178.8 138h0M162.9 190.9h0M159.6 166.1h0M155.8 194.7h0M182.2 157.3h0M162.1 142.9h0M178.9 203.7h0M159 168.2h0M160.3 176.7h0M165.6 184.1h0M169.3 198.4h0M158.6 203.8h0M176.2 184.1h0M161.3 162h0M160.3 173h0M156.7 190.8h0M168.9 157.2h0M165.9 181.3h0M166.9 169.6h0M168.5 197.6h0M171.7 129.5h0M175.2 189.4h0M162.6 180.7h0M158.8 155.8h0M156.2 202h0M166.1 183.6h0M178.2 155.9h0M184.3 187.4h0M169.2 140.4h0M163.6 191.6h0M163.5 147.8h0M167.2 167.6h0M170.7 149.8h0M158.5 209.1h0M187.2 174.8h0M159.1 202.9h0M158.7 141.4h0M173.8 108.9h0M158.5 147.1h0M178.8 132.3h0M156.1 155.1h0M167.7 162.6h0M187.2 158.6h0M175.7 178h0M162.3 139.9h0M171.7 192.6h0M161.3 182h0M187 181.5h0M158.3 134.9h0M156.3 174.7h0M160.8 170.8h0M155.6 153.2h0M172.6 149.1h0M156.7 172.9h0M172.2 193.1h0M162.9 194.3h0M161 150.1h0M158.9 185.5h0M155.6 204h0M164.1 173.2h0M164.2 186.5h0M172.5 191h0M167.8 128.7h0M182.3 151.5h0M166.9 165.3h0M164.8 161.1h0M163.1 131.4h0M173.9 165.6h0M155.9 156.4h0M169.3 172h0M159.2 194.6h0M170.6 189.6h0M172.5 179.2h0M160.7 160.8h0M157.4 207.9h0M166 181h0M165.9 208.1h0M169.6 176.1h0M164 170h0M178.5 201.5h0M174 199.3h0M183 209h0M157.4 170.6h0M174.1 159h0M169.7 156.7h0M168 146.2h0M170.2 143.5h0M168.1 173h0M155.3 201.6h0M169.2 195.1h0M177.7 163.7h0M164.2 181.7h0M156 168.1h0M160.7 185.3h0M160.4 198.8h0M157.4 146.3h0M170 201.8h0M155.9 127.4h0M190.7 160.3h0M157 178.6h0M157.4 207.9h0M164.6 202.7h0M157.5 176.2h0M161.8 145h0M156.9 157.6h0M170.7 164.1h0M160.9 189.5h0M167.6 191.9h0M173.9 195.2h0M165.5 135.1h0M161.6 148.5h0M164.1 169.8h0M156.4 199h0M157.9 193.9h0M172 176.3h0M158.6 173.9h0M171.5 166.4h0M163.1 184.1h0M170.8 182.3h0M163.1 196.8h0M166.4 179.1h0M156.4 167.3h0M169.3 162.1h0M171.1 157.1h0M160.3 157.1h0M159.1 162.7h0M188.1 176.2h0M183.5 127.4h0M157.2 192.5h0M157.8 201.3h0M160.4 185.6h0M157.8 184.7h0M158.4 195.1h0M162.5 144.4h0M157.6 162.7h0M155.7 179.6h0M158 161.2h0M160.9 187.9h0M192.1 153.6h0M159.7 158.9h0M159.3 158.2h0M167 166.7h0M162.2 151.8h0M161.1 149h0M161.9 190.2h0M170.1 197.7h0M161 190h0M171.8 202.9h0M156 187.1h0M169 210.7h0M174.6 135.3h0M174.5 197.2h0M164.1 151.7h0M160.8 208h0M174.6 157h0M163.8 174.1h0M162.9 154.9h0M156.2 164.3h0M186.7 143.7h0M155.7 200.6h0M169.8 148.8h0M173.9 198.8h0M155.5 183.1h0M160.7 187.7h0M157.6 177.4h0M170.5 162.4h0M167.7 145.8h0M177.5 157.8h0M157.3 181.9h0M179.1 128.2h0M155.9 155.2h0M167.4 163.7h0M165.3 154.8h0M165.7 204.9h0M170.1 128.5h0M185.3 135.3h0M178.1 194h0M174.3 201.6h0M173.5 187h0M168.5 199.5h0M156.3 146.2h0M178.9 141.1h0M155.8 185.6h0M157.5 149.4h0M166.7 139.7h0M166.3 184.1h0M164 154.2h0M163 176.1h0M171.8 166.4h0M167.5 205.9h0M187.6 107.8h0M173.2 185.8h0M159.1 179.5h0M156.2 187.9h0M157.5 198.7h0M159.9 147.7h0M155.9 196.4h0M158.6 210.8h0M175.8 104h0M172.7 198.8h0M173.8 199.4h0M159.6 182.7h0M159.3 179.7h0M165.3 210.3h0M173.3 151.8h0M175.1 186.3h0M160.5 150.6h0M157 182.3h0M156.3 145.5h0M159.6 181h0M159.4 173.1h0M158.6 170.8h0M162.8 181.3h0M157.8 198.7h0M174.4 152.6h0M163.7 183.1h0M164.9 176.1h0M171.3 126.9h0M177.6 146.7h0M171.9 121.5h0M161.8 157.2h0M170.5 165.9h0M168.4 173.2h0M166.5 177.8h0M167.6 174.7h0M164.3 171.8h0M181 189.9h0M174 159.3h0M155.3 180.4h0M176 128.8h0M158.9 193h0M165.7 201h0M176.4 210.8h0M164.3 207.8h0M174.9 178.4h0M164.5 209.2h0M160.2 209h0M166.7 172.9h0M173.1 201.3h0M183.5 171.6h0M160.1 192.1h0M155.8 202.7h0M194.7 144.7h0M157.5 176.4h0M162.3 136.8h0M166.5 193.7h0M158.6 161h0M155.9 200.2h0M175.7 146h0M166.3 173.8h0M156.9 182.8h0M178.1 131.7h0M160.2 206.6h0M163.2 188h0M156.2 191.6h0M174.7 144.5h0M163.3 184.8h0M170.1 204.8h0M176.1 148.4h0M176 182.2h0M187.3 195.1h0M183.5 199.7h0M160.3 148.3h0M172 163.8h0M168.3 173.9h0M166.8 133.4h0M164.9 208.5h0M157.9 181.4h0M158.5 184.9h0M157.6 191.1h0M155.5 187.4h0M163.2 203.2h0M157.2 195.3h0M163.8 144.8h0M169.7 159.3h0M161.8 149.1h0M163.3 157.4h0M159.1 149h0M161.9 152h0M157.9 168.8h0M170.9 174.8h0M157.2 189h0M168.1 210.3h0M164.6 178.9h0M187.2 192.2h0M169.1 192.2h0M159.3 169.5h0M162.7 199.9h0M159.1 178.2h0M157 202.2h0M165.3 166.4h0M162.2 176h0M162.9 157.1h0M174 191.1h0M160.2 205.2h0M166.9 209.6h0M159.4 188.2h0M158.5 210.1h0M169.6 145.5h0M172.5 117.6h0M171.6 151.1h0M173.2 188.5h0M166.4 184.5h0M175.5 162h0M160.9 160.4h0M165.4 159.7h0M192.5 124.9h0M159.8 168.7h0M173.1 144.3h0M166.9 132.8h0M164.4 185.6h0M160.6 198.2h0M161.8 144.2h0M162.7 185.9h0M197.5 162.8h0M160.6 197.2h0M163.6 152.6h0M166.6 202.5h0M158.5 180.5h0M181 194.7h0M180.5 205.3h0M163 191.4h0M157.5 163.6h0M157.3 193.4h0M160.1 205.4h0M169.1 167.9h0M157.8 205h0M164.2 135.9h0M155.6 190.4h0M162.8 207.7h0M159.4 199.6h0M191.2 178.6h0M171 132h0M181 109.9h0M158.3 137.3h0M169.3 129.4h0M158.2 187.6h0M160.4 153.5h0M169.2 136h0M163.4 142.6h0M157.2 196h0M168 177.8h0M176.1 205.1h0M156.9 171.5h0M163.8 169.2h0M177.1 173.9h0M163.9 155.8h0M174.3 166.2h0M160.5 175.1h0M157.1 172.8h0M155.4 159.9h0M164.5 189.6h0M156.4 175.1h0M178.8 207.4h0M184.2 172.5h0M159.7 210.7h0M165.6 167.5h0M155.9 173.1h0M163.9 192.2h0M181.2 193.8h0M160.3 177.3h0M180.8 184.9h0M166.4 151.2h0M166.1 159.7h0M172.7 164.7h0M164.1 200.3h0M156.2 204.3h0M161.7 176.9h0M171.6 136.9h0M171.2 155.1h0M160.8 178.8h0M155.9 175.8h0M161.4 208.1h0M157.5 150.6h0M161.4 175.4h0M161.9 144.2h0M179.4 181.1h0M171.1 199.3h0M183 122.3h0M159.5 174.7h0M159.3 150.6h0M157.2 161.8h0M160.4 207h0M168.5 175h0M162.7 186.2h0M155.9 190h0M166.5 175.2h0M160.7 177h0M165.5 202.3h0M155.8 184.8h0M168.7 118.1h0M156.9 200.7h0M169.6 178.7h0M157.2 175.1h0M167.8 174.6h0M164.2 169.9h0M179.3 144h0M157.1 183.9h0M158.9 184.6h0M171.9 191.7h0M158.7 195.8h0M157.3 145h0M182.3 138.8h0M171.7 168.9h0M171.4 173.7h0M163.3 141.6h0M184.5 162.7h0M160.2 185.6h0M169.7 193.9h0M167.9 150.3h0M173 160.7h0M175 169.8h0M161.3 179.9h0M162.7 136.7h0M167.4 152.6h0M182.3 200.6h0M163.2 178h0M158.1 210.4h0M177.1 196.7h0M163.8 193.4h0M160.5 207.8h0M169.1 148.8h0M166.8 197.9h0M176.3 207.8h0M175.6 148.3h0M172 187.8h0M162.6 171.5h0M172.7 159.2h0M174.7 147.1h0M155.9 164.8h0M169.4 171.9h0M157.4 185.4h0M164.3 183.9h0M160.9 165.2h0M157.2 210.3h0M169.5 175.4h0M170.5 173.4h0M181.3 178.1h0M164.4 186.1h0M162.3 183.5h0M157.9 169.6h0M177.7 133h0M182.1 209.8h0M172.1 193.7h0M157.1 196.2h0M181.5 205.3h0M161.7 152.2h0M163.1 170.7h0M172.1 119.4h0M168.2 147.3h0M159.7 204.6h0M164.9 166.8h0M169.5 170.3h0M172 111.3h0M174.4 157h0M156 183.5h0M182.2 144h0M162.4 178.4h0M155.6 185.9h0M167.6 189.6h0M177.8 167.9h0M171.1 193.8h0M161.9 169.7h0M161 207.3h0M160.8 151.2h0M160.1 185.9h0M156.5 208.6h0M177.6 170h0M163.8 194.9h0M174.1 129.8h0M156 175.5h0M160.1 175.5h0M156.1 147.1h0M156.9 205.2h0M174.3 143.1h0M160.8 146.7h0M176.2 127.3h0M162 167.5h0M170.5 164.3h0M180.3 143.9h0M163.3 210.6h0M169.4 152.2h0M165.3 193.1h0M155.4 175.2h0M160.4 191h0M161.1 181.7h0M161.4 176h0M178.8 182.8h0M162.6 191.4h0M170.8 192.1h0M163.5 201.2h0M167.8 201.8h0M178.8 152.8h0M211.8 183h0M210.1 163.2h0M157.8 158.5h0M178.3 146.3h0M167.4 168.1h0M196.7 206.9h0M159.9 176h0M155.3 174.7h0M166.9 203.4h0M155.9 188.9h0M171.7 178.8h0M156.7 158.7h0M185.9 163.8h0M158.8 184.3h0M180.6 172.7h0M220.5 197.3h0M166.1 138.8h0M168.5 146.9h0M170 196.3h0M155.4 197.1h0M204.6 152.8h0M164.7 151.8h0M156.5 192.5h0M180.7 105.9h0M229.9 174.6h0M160.4 182.5h0M162.2 147.4h0M178.3 156.6h0M187.7 202.5h0M167.5 182.9h0M165 184.3h0M171.8 203.2h0M181.8 207.8h0M188.8 138.7h0M185.4 192.2h0M157.1 182.6h0M169.7 205.9h0M158.6 169.2h0M167.9 207.6h0M173.8 181.4h0M183.2 145.5h0M186.6 181.1h0M187.7 124.7h0M167.5 180.3h0M157.3 191.6h0M189.1 139.4h0M187 181.8h0M155.6 183.8h0M201.5 166.9h0M161.7 204.3h0M167.7 175.5h0M222.6 168h0M167.3 201.2h0M176.5 181.8h0M176.7 141.5h0M173.7 147.2h0M202.2 168.2h0M189.4 161.8h0M158.1 173.3h0M188.6 148.2h0M156.5 168.6h0M186 190h0M183 186.3h0M160.7 147.7h0M215.2 177.7h0M166.6 193.4h0M189.1 167.8h0M161.2 203.5h0M158.1 174.1h0M165.3 182.3h0M160.8 190.1h0M167.3 157.2h0M195 194.1h0M220.1 185.6h0M214 187.2h0M192.9 193.4h0M162.8 136.1h0M166.3 184.4h0M219.5 166h0M173.1 195.3h0M219.4 193.6h0M170 157.6h0M158.3 183.8h0M210.8 162h0M168 189h0M168.7 198.2h0M158.8 204.3h0M162.1 209.4h0M157.3 198.8h0M165.4 203.9h0M181.8 188.6h0M212.9 186.8h0M168.2 166.4h0M171.4 131.1h0M200.5 161.9h0M163.1 198.6h0M171.1 178.1h0M166.1 182.8h0M163.7 179.6h0M164.9 148.7h0M194.8 155.8h0M160.9 181.8h0M200.4 187h0M193.1 188.3h0M218.8 166.7h0M176.5 155h0M163 159.2h0M160.9 155h0M172.2 185.2h0M158.5 166.7h0M167.3 161.5h0M183.2 128.5h0M159.2 207.9h0M190.1 181.8h0M165 204.7h0M162.1 184.3h0M162.6 150.8h0M178.3 196.2h0M192.9 154.7h0M157 152.4h0M156.2 183.9h0M168.4 181.7h0M169 139.8h0M170.3 166.9h0M176.1 162.1h0M211.2 210.8h0M192.2 204.6h0M208.2 191.6h0M171 164h0M191 188.4h0M164 169.9h0M196.7 186.6h0M176 126.3h0M159.4 207.5h0M166.8 146.2h0M163 142.1h0M200.5 157.5h0M159.4 161.6h0M160.5 192.7h0M168.9 204.8h0M211.8 165.1h0M169.7 175.8h0M157.4 205h0M195.9 162h0M179.6 155.7h0M179.4 165.8h0M169.1 210h0M160.7 172.7h0M190.5 176.5h0M222.1 205.1h0M191 164.6h0M166.4 208.4h0M220.1 164.1h0M188.1 207.3h0M166 171.4h0M212.7 198h0M170.7 149.7h0M181.2 151.7h0M160.3 197.6h0M173.8 204.9h0M161.4 174.8h0M162.3 181.6h0M163 151.9h0M166.2 199.9h0M189.5 182.5h0M199.2 184.7h0M178 208.6h0M156.7 170.8h0M156.7 174.5h0M190.8 131.6h0M177.3 145.9h0M203.9 195.1h0M165.8 189.2h0M184.4 172.4h0M163.8 172.2h0M156.7 137h0M161.6 161.1h0M172.3 195.2h0M188.8 177.5h0M174.7 145.2h0M182.8 184.8h0M185.5 198.6h0M162.9 188.1h0M166.4 199h0M184.2 201.7h0M165.2 187.7h0M171.1 195.5h0M161.2 196.3h0M165.6 192.7h0M175.1 189.7h0M174.8 194.2h0M196.7 191.6h0M158.8 172h0M171 133.8h0M174.8 113h0M202.3 205.4h0M159.7 165.1h0M193.1 174.3h0M192.9 198.1h0M161.2 172.9h0M162 142.7h0M157.5 209h0M172.8 209.2h0M208.7 183.1h0M159.3 161.1h0M226.3 201.4h0M157.3 153h0M174.2 132h0M207.9 150.9h0M182.6 142.1h0M193.1 155.4h0M211.5 172.3h0M200.8 203h0M155.4 181.6h0M200.5 158.3h0M157.9 174.4h0M214.6 201.1h0M168.7 193h0M182.8 198.3h0M156.8 187.5h0M194.5 160.9h0M171.1 179.6h0M177.2 140.4h0M193.9 141.1h0M181.3 173.8h0M183.5 206.3h0M159.4 154.5h0M176.5 134.7h0M179.5 121h0M157.3 159h0M161.5 141.7h0M187.3 195.2h0M171.1 203.4h0M167.5 208.8h0M176.3 172.9h0M170.2 138.2h0M156.2 204.5h0M160.3 202.5h0M172.3 182.5h0M169.7 171.2h0M162.1 153.3h0M170.4 184.1h0M229.9 211h0M171.4 178.7h0M169.5 124.2h0M157 160.5h0M163.1 201.7h0M165.5 141.1h0M216.4 166h0M157.3 176.1h0M161.8 146.1h0M182.1 207.4h0M174.1 144.8h0M160.1 162.2h0M176.2 161.4h0M200.3 202.3h0M161.4 148.3h0M163.4 148.4h0M175.5 176.2h0M189.7 193.9h0M168.1 208.2h0M171.9 131.4h0M185.4 131.2h0M167.1 148.6h0M203.2 204.1h0M156 177.6h0M172.1 122.1h0M188.6 155.2h0M171.3 195.8h0M182.7 177.5h0M159.2 176.2h0M168.8 203.2h0M161.8 163.9h0M166.9 188.8h0M162.6 163h0M157.7 192.4h0M191.8 206.2h0M161.7 196h0M163.4 187.8h0M159.3 166.8h0M156.2 178.5h0M166.9 174.1h0M190.1 158.5h0M196.2 208.7h0M169.2 206.9h0M158.5 203.3h0M176.7 145.6h0M164.4 161.9h0M204.5 206.5h0M166.1 197.4h0M168.5 204.2h0M200.5 200.2h0M160.5 199.3h0M200 194.3h0M177.7 182.1h0M200.6 181.1h0M169.7 209h0M157 187.1h0M157.1 200h0M177.4 153.9h0M187.3 188.8h0M180.9 133.8h0M159.6 163.2h0M156.4 184.3h0M171 155.7h0M191.4 167.5h0M161.5 208.7h0M201.1 167h0M171.9 165.2h0M182.4 166.7h0M173.5 120.7h0M221.8 191.3h0M176.4 180.1h0M158.6 207.3h0M164.7 168.3h0M173 188.9h0M168.8 122.4h0M162.1 160h0M160.5 202h0M167.3 130.9h0M160.6 164.4h0M170.2 192.1h0M166 188.5h0M160.4 197.3h0M177.7 191.1h0M179.3 124.6h0M174.9 202.5h0M165.4 208.4h0M156.2 158.4h0M181.4 198h0M165.7 210.5h0M156 170.3h0M160.6 164.1h0M164.7 164.9h0M155.6 181.5h0M169.8 142.7h0M156.6 203h0M210.9 197.3h0M175.3 160.2h0M170.2 151.6h0M165.6 152h0M170.6 148.3h0M159.3 186.3h0M165.2 176.4h0M177.9 174.5h0M155.5 181.6h0M184.5 179.5h0M156.9 205.1h0M231.1 198h0M155.4 197h0M164.1 136.8h0M155.8 164.7h0M169.5 110.3h0M181.7 177.1h0M175 171.3h0M179 187.8h0M172.9 151.3h0M166.4 163.2h0M175.7 171.5h0M157.4 185.7h0M171.9 155.9h0M225.3 164h0M160.5 156.2h0M190.3 166h0M214.3 177.1h0M181.5 184h0M178.9 188.3h0M182.4 192.3h0M166.1 134.8h0M231.9 173.8h0M173.7 181h0M192.7 194.8h0M165 168.9h0M178 116.1h0M192.4 203.1h0M193.2 136.7h0M157.1 201.1h0M179.1 207.1h0M180.7 157h0M161.6 178.6h0M172.4 124.7h0M171.9 180.2h0M155.4 189.9h0M171 192.6h0M168.1 179.6h0M207.5 144.3h0M184.3 173.9h0M163.7 149.4h0M169 142.8h0M177.7 136.6h0M170 173.7h0M158.5 149.3h0M168.8 154.5h0M161.4 122.2h0M156.8 170.9h0M175.7 109.9h0M172.7 144.9h0M179.2 190.2h0M162.8 191.4h0M155.9 167.9h0M167.3 136h0M178.9 134.4h0M227.5 184.1h0M168.9 197.8h0M185.3 193.2h0M155.7 149.8h0M155.3 187.4h0M155.8 205.5h0M167 207.7h0M156.5 157.1h0M160.5 150.7h0M211.9 205.3h0M234.5 177.7h0M155.4 187.2h0M156.6 187.3h0M156.7 193.7h0M156.6 195.2h0M157.3 165.1h0M178 100h0M180 100.5h0M204 98h0M210 113h0M210 132h0M212 148h0M215 153h0M225 160h0M230 150h0M232 153h0M224 162h0M226 161h0M230 193h0M215 197h0M222 142h0M228 146h0M237 141h0M240 200h0M205 186h0M199 140h0M209 120h0M214 128h0" stroke="#b22228" stroke-width="1.6" stroke-linecap="round" fill="none"/>
<line x1="155" y1="208.5" x2="186" y2="197" stroke="#222" stroke-width="0.6"/>
<line x1="186" y1="197" x2="220" y2="185" stroke="#222" stroke-width="0.5"/>
<line x1="162" y1="192.7" x2="176" y2="188" stroke="#222" stroke-width="0.6"/>
<rect x="190" y="181" width="16" height="5" fill="#fff" stroke="#ddd" stroke-width="0.4" fill-opacity="0.6" rx="1"/>
<rect x="116" y="145" width="16" height="5" fill="#fff" stroke="#ddd" stroke-width="0.4" fill-opacity="0.6" rx="1"/>
<rect x="157" y="215" width="14" height="5" fill="#fff" stroke="#ddd" stroke-width="0.4" fill-opacity="0.6" rx="1"/>
<line x1="152" y1="214" x2="158" y2="218" stroke="#999" stroke-width="0.4"/>
<line x1="119.2" y1="40.2" x2="119.2" y2="225" stroke="#555" stroke-width="0.7" stroke-dasharray="2 1.6"/>
<line x1="157.6" y1="40.2" x2="157.6" y2="225" stroke="#555" stroke-width="0.7" stroke-dasharray="2 1.6"/>
<line x1="30.5" y1="210.8" x2="246" y2="210.8" stroke="#555" stroke-width="0.7" stroke-dasharray="2 1.6"/>
<rect x="30.5" y="40.2" width="215.5" height="184.8" fill="none" stroke="#8a8a8a" stroke-width="1.1"/>
<line x1="28.3" y1="217.3" x2="30.5" y2="217.3" stroke="#555" stroke-width="0.6"/>
<text x="27.4" y="219" font-size="4.6" text-anchor="end" font-weight="bold" fill="#444">0</text>
<line x1="28.3" y1="171.4" x2="30.5" y2="171.4" stroke="#555" stroke-width="0.6"/>
<text x="27.4" y="173.1" font-size="4.6" text-anchor="end" font-weight="bold" fill="#444">10</text>
<line x1="28.3" y1="125.5" x2="30.5" y2="125.5" stroke="#555" stroke-width="0.6"/>
<text x="27.4" y="127.2" font-size="4.6" text-anchor="end" font-weight="bold" fill="#444">20</text>
<line x1="28.3" y1="79.6" x2="30.5" y2="79.6" stroke="#555" stroke-width="0.6"/>
<text x="27.4" y="81.3" font-size="4.6" text-anchor="end" font-weight="bold" fill="#444">30</text>
<line x1="73.1" y1="225" x2="73.1" y2="227.2" stroke="#555" stroke-width="0.6"/>
<text x="73.1" y="232.6" font-size="4.6" text-anchor="middle" font-weight="bold" fill="#444">-2</text>
<line x1="138.1" y1="225" x2="138.1" y2="227.2" stroke="#555" stroke-width="0.6"/>
<text x="138.1" y="232.6" font-size="4.6" text-anchor="middle" font-weight="bold" fill="#444">0</text>
<line x1="203.1" y1="225" x2="203.1" y2="227.2" stroke="#555" stroke-width="0.6"/>
<text x="203.1" y="232.6" font-size="4.6" text-anchor="middle" font-weight="bold" fill="#444">2</text>
<text x="138.1" y="240" font-size="5.4" text-anchor="middle" font-weight="bold" fill="#222">Log Fold Change</text>
<text x="18.8" y="132.8" font-size="5.3" text-anchor="middle" font-weight="bold" fill="#222" transform="rotate(-90 18.8 132.8)">-Log10 p-value</text>
<path d="M259 126.3h0" stroke="#4a84bb" stroke-width="1.6" stroke-linecap="round" fill="none"/>
<path d="M259 132.8h0" stroke="#bebebe" stroke-width="1.6" stroke-linecap="round" fill="none"/>
<path d="M259 139.4h0" stroke="#b22228" stroke-width="1.6" stroke-linecap="round" fill="none"/>
<text x="265.8" y="127.8" font-size="4" fill="#444">DOWN</text>
<text x="265.8" y="134.3" font-size="4" fill="#444">NOT</text>
<text x="265.8" y="140.9" font-size="4" fill="#444">UP</text>
<rect x="333.2" y="41.2" width="89.6" height="17.8" fill="#d9d9d9" stroke="#333" stroke-width="1.1"/>
<text x="378" y="53.8" font-size="9.9" text-anchor="middle" font-weight="bold" fill="#1a1a1a">ACE</text>
<rect x="440" y="41.2" width="89.6" height="17.8" fill="#d9d9d9" stroke="#333" stroke-width="1.1"/>
<text x="484.8" y="53.8" font-size="9.9" text-anchor="middle" font-weight="bold" fill="#1a1a1a">ANPEP</text>
<rect x="546.2" y="41.2" width="89.6" height="17.8" fill="#d9d9d9" stroke="#333" stroke-width="1.1"/>
<text x="591" y="53.8" font-size="9.9" text-anchor="middle" font-weight="bold" fill="#1a1a1a">MMP2</text>
<rect x="660.6" y="41.2" width="89.6" height="17.8" fill="#d9d9d9" stroke="#333" stroke-width="1.1"/>
<text x="705.4" y="53.8" font-size="9.9" text-anchor="middle" font-weight="bold" fill="#1a1a1a">PTGS2</text>
<line x1="357.8" y1="65.4" x2="357.8" y2="187.5" stroke="#1a1a1a" stroke-width="0.8"/>
<line x1="398.7" y1="113.7" x2="398.7" y2="186.5" stroke="#1a1a1a" stroke-width="0.8"/>
<path d="M358.1 65.4 L358.1 66.4 L358.1 67.4 L358.1 68.5 L358.1 69.5 L358.2 70.5 L358.2 71.5 L358.2 72.5 L358.2 73.6 L358.2 74.6 L358.2 75.6 L358.2 76.6 L358.3 77.6 L358.3 78.7 L358.3 79.7 L358.3 80.7 L358.3 81.7 L358.4 82.8 L358.4 83.8 L358.4 84.8 L358.4 85.8 L358.4 86.8 L358.5 87.9 L358.5 88.9 L358.5 89.9 L358.5 90.9 L358.5 91.9 L358.6 93 L358.6 94 L358.6 95 L358.6 96 L358.7 97 L358.7 98 L358.7 99 L358.8 100 L358.8 101 L358.8 102 L358.9 103 L358.9 104 L359 105 L359 106 L359.1 107 L359.1 108 L359.2 109 L359.2 110 L359.3 111 L359.5 112 L359.7 113 L359.9 114 L360.2 115 L360.5 116 L360.8 117 L361.1 118.1 L361.5 119.2 L361.9 120.3 L362.4 121.5 L362.8 122.6 L363.3 123.7 L363.8 124.8 L364.4 125.9 L365 126.9 L365.6 128 L366.3 129 L366.9 130.1 L367.5 131.1 L368 132.2 L368.4 133.3 L368.8 134.4 L369.1 135.5 L369.4 136.7 L369.7 137.8 L369.9 138.9 L370.1 140 L370.3 141 L370.4 142 L370.4 143 L370.5 144 L370.5 145 L370.5 146 L370.4 147 L370.3 148 L370.3 149 L370.2 150 L370.2 151 L370.1 152 L370 153 L369.8 154 L369.7 155 L369.5 156 L369.3 157 L369 158 L368.6 159.1 L368.2 160.1 L367.7 161.2 L367.1 162.2 L366.6 163.3 L366 164.3 L365.4 165.4 L364.8 166.4 L364.3 167.5 L363.3 168.6 L362.3 169.7 L361.4 170.8 L360.5 171.9 L359.8 173 L359.3 174.1 L359 175.2 L358.7 176.4 L358.6 177.5 L358.4 178.6 L358.3 179.7 L358.2 180.7 L358.2 181.8 L358.2 182.8 L358.1 183.8 L358.1 184.9 L358.1 185.9 L358.1 187 L357.5 187 L357.5 185.9 L357.5 184.9 L357.5 183.8 L357.4 182.8 L357.4 181.8 L357.4 180.7 L357.3 179.7 L357.2 178.6 L357 177.5 L356.9 176.4 L356.6 175.2 L356.3 174.1 L355.8 173 L355.1 171.9 L354.2 170.8 L353.3 169.7 L352.3 168.6 L351.3 167.5 L350.8 166.4 L350.2 165.4 L349.6 164.3 L349 163.3 L348.5 162.2 L347.9 161.2 L347.4 160.1 L347 159.1 L346.6 158 L346.3 157 L346.1 156 L345.9 155 L345.8 154 L345.6 153 L345.5 152 L345.4 151 L345.4 150 L345.3 149 L345.3 148 L345.2 147 L345.1 146 L345.1 145 L345.1 144 L345.2 143 L345.2 142 L345.3 141 L345.5 140 L345.7 138.9 L345.9 137.8 L346.2 136.7 L346.5 135.5 L346.8 134.4 L347.2 133.3 L347.6 132.2 L348.1 131.1 L348.7 130.1 L349.3 129 L350 128 L350.6 126.9 L351.2 125.9 L351.8 124.8 L352.3 123.7 L352.8 122.6 L353.2 121.5 L353.7 120.3 L354.1 119.2 L354.5 118.1 L354.8 117 L355.1 116 L355.4 115 L355.7 114 L355.9 113 L356.1 112 L356.3 111 L356.4 110 L356.4 109 L356.5 108 L356.5 107 L356.6 106 L356.6 105 L356.7 104 L356.7 103 L356.8 102 L356.8 101 L356.8 100 L356.9 99 L356.9 98 L356.9 97 L357 96 L357 95 L357 94 L357 93 L357.1 91.9 L357.1 90.9 L357.1 89.9 L357.1 88.9 L357.1 87.9 L357.2 86.8 L357.2 85.8 L357.2 84.8 L357.2 83.8 L357.2 82.8 L357.3 81.7 L357.3 80.7 L357.3 79.7 L357.3 78.7 L357.3 77.6 L357.4 76.6 L357.4 75.6 L357.4 74.6 L357.4 73.6 L357.4 72.5 L357.4 71.5 L357.4 70.5 L357.5 69.5 L357.5 68.5 L357.5 67.4 L357.5 66.4 L357.5 65.4 Z" fill="#f7c1c0" stroke="#1a1a1a" stroke-width="0.8"/>
<path d="M399 113.7 L399.2 114.8 L399.5 115.8 L399.8 116.9 L400.2 117.9 L400.5 119 L400.8 120.1 L401.1 121.2 L401.4 122.3 L401.6 123.4 L401.8 124.5 L401.9 125.6 L401.9 126.7 L401.9 127.8 L401.9 128.8 L401.9 129.9 L402 131 L402.2 132 L402.4 133 L402.7 134 L403.2 135 L403.9 136 L404.6 137 L405.6 138 L406.7 139 L407.5 140.1 L408.3 141.1 L409.3 142.2 L410.2 143.3 L411.2 144.4 L412 145.4 L412.7 146.5 L413.2 147.6 L413.7 148.6 L414.1 149.7 L414.5 150.7 L414.9 151.8 L415.2 152.8 L415.4 153.9 L415.4 154.9 L415.4 156 L415.2 157.1 L414.9 158.1 L414.4 159.2 L413.9 160.3 L413.3 161.3 L412.6 162.4 L412 163.5 L411.3 164.5 L410.7 165.6 L409.8 166.7 L408.7 167.8 L407.7 168.9 L406.6 170.1 L405.6 171.2 L404.7 172.3 L403.5 173.4 L402.3 174.4 L401.3 175.4 L400.5 176.5 L399.6 177.5 L399.2 178.5 L399.1 179.6 L399.1 180.6 L399 181.7 L399 182.8 L399 183.9 L399 184.9 L399 186 L398.4 186 L398.4 184.9 L398.4 183.9 L398.4 182.8 L398.4 181.7 L398.3 180.6 L398.3 179.6 L398.2 178.5 L397.8 177.5 L396.9 176.5 L396.1 175.4 L395.1 174.4 L393.9 173.4 L392.7 172.3 L391.8 171.2 L390.8 170.1 L389.7 168.9 L388.7 167.8 L387.6 166.7 L386.7 165.6 L386.1 164.5 L385.4 163.5 L384.8 162.4 L384.1 161.3 L383.5 160.3 L383 159.2 L382.5 158.1 L382.2 157.1 L382 156 L382 154.9 L382 153.9 L382.2 152.8 L382.5 151.8 L382.9 150.7 L383.3 149.7 L383.7 148.6 L384.2 147.6 L384.7 146.5 L385.4 145.4 L386.2 144.4 L387.2 143.3 L388.1 142.2 L389.1 141.1 L389.9 140.1 L390.7 139 L391.8 138 L392.8 137 L393.5 136 L394.2 135 L394.7 134 L395 133 L395.2 132 L395.4 131 L395.5 129.9 L395.5 128.8 L395.5 127.8 L395.5 126.7 L395.5 125.6 L395.6 124.5 L395.8 123.4 L396 122.3 L396.3 121.2 L396.6 120.1 L396.9 119 L397.2 117.9 L397.6 116.9 L397.9 115.8 L398.2 114.8 L398.4 113.7 Z" fill="#8cc3e6" stroke="#1a1a1a" stroke-width="0.8"/>
<path d="M353.1 133h0M358.6 159h0M362 147.4h0M359.8 157h0M358 135.9h0M362.5 120.2h0M362.9 138.5h0M356.4 144.1h0M362.3 136.5h0M359 146.2h0M362.1 137.1h0M360.1 130.7h0M357.7 132.6h0M358.4 146.8h0M358.2 138.4h0M357.4 161.3h0M354.8 158.6h0M353.5 140.5h0M359.4 157h0M362.2 133.7h0M356.2 139.7h0M359.7 137.7h0M359 156.4h0M353.4 158.1h0M353.7 133.1h0M360.3 136.8h0M359.3 144h0M356.4 152.9h0M354 147.1h0M360.5 145h0M360.1 138.2h0M354.4 150h0M357.6 139.8h0M363 126.4h0M356.8 114.8h0M355.6 169.5h0M361.7 146.1h0M362 152.6h0M361.1 161.8h0M362.3 163.6h0M360.7 139h0M361.8 159.2h0M362.4 151.9h0M362.1 142.6h0M361.8 142.3h0M356 157.2h0M361 145.9h0M360.7 138.8h0M358.4 130.4h0M355.1 153.2h0M356.3 161.3h0M353 128.7h0M352.9 138.5h0M354.9 124.4h0M353.7 127.8h0M356.5 132.3h0M359.4 152.7h0M355.2 137.7h0M355.3 128.5h0M353.2 111.1h0M354.7 128.8h0M355.8 141.8h0M362 155.9h0M357.1 153.4h0M363 140.1h0M361.2 127.1h0M363 147.6h0M357.5 140.4h0M355.7 130.1h0M362 139.3h0M359.5 149.2h0M358.9 144.3h0M361.8 171.1h0M354.2 122.5h0M361.6 138.5h0M361.2 145.1h0M353 156.4h0M358.7 129h0M354 169.6h0M360.4 136.3h0M360.5 147.7h0M353.4 141.7h0M360 156.3h0M352.7 166.9h0M358 131.1h0M355.4 140.7h0M357 168.6h0M360.9 155.2h0M355.1 156.8h0M355.4 146.2h0M355 161.8h0M354 141.7h0M358.9 138.4h0M360.3 147.6h0M361.8 143h0M356.1 145.6h0M355.1 132.6h0M356.1 126.9h0M354.9 156.5h0M357.9 138.5h0M358.7 162.6h0M354.2 116.1h0M362.4 147.1h0M353.5 148.8h0M355.9 154.9h0M358.9 148.2h0M359.5 116.3h0M359.4 160.3h0M362.3 137.6h0M355.3 139.3h0M359.3 145.5h0M356.7 146.5h0M362.8 131.2h0M362.2 137.1h0M360 133.7h0M359 131.8h0M360.6 159.9h0M359.9 150.6h0M357.4 138.6h0M353 121.8h0M361.9 170.2h0M353.1 150.5h0M354.3 142h0M357.2 153.3h0M361.5 124.6h0M352.7 169.6h0M353 160.3h0M362.9 145.9h0M356.9 149.4h0M353.5 141h0M354.4 142.8h0M360.1 159.1h0M355.5 149.7h0M355.8 133.4h0M354 131.5h0M359.6 168.4h0M361.7 169.4h0M357.3 140h0M360.6 148.2h0M361.7 142.2h0M357.4 146h0M355.3 133.4h0M355.6 142.4h0M358.9 140.2h0M355.3 158.7h0M356.7 133h0M354.7 156.3h0M357.3 153.7h0M361.1 129.8h0M361.8 154h0M359.6 128.8h0M357 130h0M355.3 133.1h0M358.5 147.8h0M361.7 140.2h0M357.4 150.3h0M354.7 128.4h0M353.6 127.2h0M353.1 145.9h0M359.9 143.6h0M358.4 159h0M362.7 142.1h0M352.7 135.6h0M357 162.8h0M355.2 141h0M361.1 133.3h0M355.1 167.4h0M361.7 139.6h0M362.1 156.6h0M359.2 146.1h0M356.3 154.7h0M360.1 148.1h0M359.6 135.2h0M362.5 143.5h0M361.8 166.9h0M360.9 156.6h0M353.8 158.7h0M353.1 161.9h0M355.7 140.8h0M361.4 133.3h0M362.4 121.4h0M358.5 157.5h0M361.6 134.1h0M352.8 163.8h0M356.5 116.8h0M357.4 129.4h0M357.5 169.2h0M361.9 129.5h0M362.7 129.9h0M358.9 148.9h0M353.5 145.3h0M352.9 149.4h0M358.8 138.8h0M353.5 159.1h0M361 166.1h0M359.5 128.6h0M353.2 143.3h0M357.3 128.6h0M357.3 131.9h0M356.8 156.3h0M359.8 140.8h0M353.8 142.2h0M352.7 135.6h0M357.1 162.6h0M356.2 128.9h0M354.1 140.9h0M354.1 125.4h0M354.1 134.3h0M358.5 131.2h0M358.1 138h0M358.5 134.8h0M353.1 131.1h0M356.7 139.3h0M357.2 145.5h0M357.4 161.6h0M353.8 170.2h0M358.9 157.7h0M354.6 144.7h0M356.9 170.1h0M356.5 158.2h0M356.1 158.3h0M354.9 163.1h0M354.9 161.5h0M360.6 146.7h0M362 129.5h0M357.3 141.4h0M352.8 150.4h0M358.2 113.8h0M353.3 154.7h0M354.7 110.5h0M355.4 165.3h0M355.1 133.3h0M357 134.4h0M353 167.4h0M358.1 125h0M355.7 149.5h0M362.5 133.2h0M360.3 162.3h0M354.8 138.8h0M358.4 150.3h0M360.8 159.9h0M358.3 154.4h0M360.1 138.8h0M359.9 139.4h0M357.9 172.9h0M353.6 156.5h0M356.5 161.6h0M359.6 140.6h0M354.7 143.9h0M362.2 158.6h0M355.4 131.1h0M353.8 124.4h0M355.9 117.9h0M357.9 148.4h0M361.3 160h0M355 136.5h0M362.8 142h0M355.5 154.9h0M362.7 155.1h0M361.9 162.9h0M355.8 127.8h0M354.8 135.4h0M358.1 144.8h0M353.7 168.2h0M362.6 131.9h0M363 158h0M354.5 123.2h0M356.1 157.3h0M358.8 162.1h0M358.5 156.3h0M356.9 139.7h0M361.7 166.9h0M357.7 153.5h0M359.3 169.7h0M359.4 150.1h0M362.5 145.9h0M362.5 142.1h0M352.7 138.5h0M357.7 128.8h0M358.5 119.6h0M355.7 151.5h0M362 143.5h0M362 156.8h0M358.3 117.7h0M362.8 122.2h0M361.6 140.6h0M356.5 133.7h0M355 138.1h0M353.2 166h0M355.4 131.6h0M352.9 136.5h0M361.4 149.9h0M358.9 159.1h0M362.4 165.3h0M354.4 146.6h0M352.8 156.5h0M361.4 131.4h0M358.8 132.1h0M358.6 148.9h0M355.6 165.8h0M356 168.4h0M353.1 144.3h0M357.7 163.6h0M360.9 144.3h0M357.3 149.5h0M361.9 138.8h0M356.7 133.8h0M360.6 154.2h0M359.4 154.7h0M353.9 141.5h0M352.9 127.6h0M358.8 128.9h0M353.9 143.6h0M355.6 121.6h0M361.6 147.8h0M360.8 144.7h0M362.2 146.1h0M356.2 126.8h0M356.4 138.4h0M361.5 155.5h0M353.2 159.8h0M353 149.5h0M360.8 143.9h0M360.8 157.3h0M361.5 118.3h0M361.3 139.5h0M358.4 161.7h0M357.7 139.1h0M354.6 160.4h0M353.8 149.7h0M361.9 152.9h0M357.5 163.6h0M352.7 131h0M353 146.3h0M362.7 165.9h0M362.2 138.6h0M362.2 145h0M359.5 168.1h0M356.8 128h0M359.4 156.2h0M355.8 159h0M360.3 125.8h0M362.9 121.2h0M360 141.5h0M361 134.2h0M357.9 152.8h0M361.2 153.2h0M359.2 143.4h0M358.7 149.5h0M353.2 146.5h0M356.6 161.2h0M356.7 131.9h0M354 145.2h0M353.3 135.4h0M362 149.3h0M362.1 150.7h0M354.4 149.3h0M352.9 124.4h0M361.7 147h0M352.8 151h0M353 162.2h0M353.2 150.4h0M352.6 152.1h0M357.5 136.3h0M359.8 144.8h0M356.6 158.6h0M356.5 135.6h0M354.3 153.9h0M356.7 155.8h0M354.1 156.9h0M358.3 142.6h0M361.1 116.7h0M361.9 148.9h0M355.4 129.8h0M353 154.9h0M353.8 139.6h0M356.1 143.4h0M357.8 150h0M354 158.7h0M355.6 135.4h0M358.9 135.2h0M354.5 141.1h0M361.2 139.7h0M353.9 137.6h0M359.7 147.8h0M358.1 142.1h0M361.5 163h0M359.7 133.4h0M356.8 119h0M353.8 132.5h0M360 142.7h0M358.1 153.3h0M356.9 150.4h0M356.9 165.2h0M357.2 160.8h0M352.9 154.1h0M357.2 142.3h0M360.4 139.7h0M355.5 123.9h0M360.9 145.3h0M354.1 155.7h0M355.6 161.2h0M361.3 142.9h0M360.4 155.9h0M354.6 156.8h0M360.2 146.6h0M361.8 140.9h0M361.8 135.2h0M358.6 116.4h0M355.4 125.1h0M353.5 141.4h0M357.6 141.4h0M362.9 148.5h0M353.8 151.4h0M360.7 130.9h0M361.8 125.2h0M359.1 140.9h0M357.1 148.7h0M354.8 129.5h0M357.6 160.1h0M353.8 81h0M360.8 82.5h0M358.8 79.5h0M354.3 98h0M358.3 96.5h0M362.8 106h0M358.8 101h0M356.8 104h0M359.8 109h0" stroke="#000" stroke-width="2.7" stroke-linecap="round" fill="none"/>
<path d="M395.1 129.3h0M398.8 144.6h0M401.3 148.6h0M394.3 149.3h0M400 153.9h0M394.8 156.6h0M398.3 160.7h0M402.8 161.3h0M399.6 165.4h0M402.6 169.5h0" stroke="#000" stroke-width="2.9" stroke-linecap="round" fill="none"/>
<path d="M397.7 156h0" stroke="#fff" stroke-width="4.4" stroke-linecap="round" fill="none"/>
<line x1="330" y1="174.5" x2="333.2" y2="174.5" stroke="#333" stroke-width="1"/>
<text x="328.7" y="177.8" font-size="9.2" text-anchor="end" fill="#4d4d4d">0.0</text>
<line x1="330" y1="148.8" x2="333.2" y2="148.8" stroke="#333" stroke-width="1"/>
<text x="328.7" y="152.1" font-size="9.2" text-anchor="end" fill="#4d4d4d">0.5</text>
<line x1="330" y1="123" x2="333.2" y2="123" stroke="#333" stroke-width="1"/>
<text x="328.7" y="126.3" font-size="9.2" text-anchor="end" fill="#4d4d4d">1.0</text>
<line x1="330" y1="97.2" x2="333.2" y2="97.2" stroke="#333" stroke-width="1"/>
<text x="328.7" y="100.5" font-size="9.2" text-anchor="end" fill="#4d4d4d">1.5</text>
<line x1="330" y1="71.5" x2="333.2" y2="71.5" stroke="#333" stroke-width="1"/>
<text x="328.7" y="74.8" font-size="9.2" text-anchor="end" fill="#4d4d4d">2.0</text>
<line x1="357.8" y1="75.3" x2="398.7" y2="75.3" stroke="#333" stroke-width="0.8"/>
<text x="378.2" y="73.6" font-size="8.7" text-anchor="middle" fill="#333">0.065</text>
<line x1="464.3" y1="65.4" x2="464.3" y2="164.7" stroke="#1a1a1a" stroke-width="0.8"/>
<line x1="505.1" y1="86.8" x2="505.1" y2="187" stroke="#1a1a1a" stroke-width="0.8"/>
<path d="M464.6 65.4 L464.7 66.5 L464.7 67.6 L464.8 68.6 L464.8 69.7 L464.9 70.8 L465 71.8 L465.1 72.9 L465.2 74 L465.3 75.1 L465.5 76.2 L465.6 77.2 L465.8 78.3 L466 79.3 L466.2 80.3 L466.5 81.3 L466.8 82.3 L467.1 83.3 L467.4 84.3 L467.7 85.3 L468 86.3 L468.3 87.3 L468.6 88.3 L468.9 89.3 L469.2 90.4 L469.5 91.5 L469.9 92.6 L470.2 93.7 L470.5 94.8 L470.8 95.8 L471.1 96.9 L471.5 98 L471.8 99.1 L472.1 100.2 L472.5 101.3 L473 102.3 L473.4 103.4 L473.9 104.4 L474.3 105.5 L474.8 106.5 L475.3 107.6 L475.9 108.6 L476.5 109.7 L477.1 110.7 L477.8 111.8 L478.4 112.8 L478.9 113.9 L479.4 114.9 L479.9 116 L480.4 117 L480.8 118.1 L481.1 119.2 L481.3 120.2 L481.1 121.3 L480.6 122.4 L479.8 123.4 L478.8 124.5 L477.7 125.6 L476.7 126.6 L475.7 127.7 L474.4 128.8 L473.1 130 L471.8 131.2 L470.7 132.3 L469.7 133.4 L468.8 134.6 L467.9 135.7 L467.3 136.8 L467.1 137.8 L466.9 138.8 L466.8 139.9 L466.7 140.9 L466.7 141.9 L466.6 142.9 L466.5 144 L466.4 145 L466.3 146 L466.2 147 L466.1 148 L466 149.1 L465.9 150.1 L465.8 151.1 L465.7 152.1 L465.6 153.1 L465.5 154.1 L465.4 155.2 L465.3 156.2 L465.2 157.2 L465.1 158.2 L465 159.2 L464.9 160.2 L464.8 161.2 L464.7 162.3 L464.7 163.3 L464.6 164.3 L464 164.3 L463.9 163.3 L463.9 162.3 L463.8 161.2 L463.7 160.2 L463.6 159.2 L463.5 158.2 L463.4 157.2 L463.3 156.2 L463.2 155.2 L463.1 154.1 L463 153.1 L462.9 152.1 L462.8 151.1 L462.7 150.1 L462.6 149.1 L462.5 148 L462.4 147 L462.3 146 L462.2 145 L462.1 144 L462 142.9 L461.9 141.9 L461.9 140.9 L461.8 139.9 L461.7 138.8 L461.5 137.8 L461.3 136.8 L460.7 135.7 L459.9 134.6 L458.9 133.4 L457.9 132.3 L456.8 131.2 L455.5 130 L454.2 128.8 L452.9 127.7 L451.9 126.6 L450.9 125.6 L449.8 124.5 L448.8 123.4 L448 122.4 L447.5 121.3 L447.3 120.2 L447.5 119.2 L447.8 118.1 L448.2 117 L448.7 116 L449.2 114.9 L449.7 113.9 L450.2 112.8 L450.8 111.8 L451.5 110.7 L452.1 109.7 L452.7 108.6 L453.3 107.6 L453.8 106.5 L454.3 105.5 L454.7 104.4 L455.2 103.4 L455.6 102.3 L456.1 101.3 L456.5 100.2 L456.8 99.1 L457.1 98 L457.5 96.9 L457.8 95.8 L458.1 94.8 L458.4 93.7 L458.7 92.6 L459.1 91.5 L459.4 90.4 L459.7 89.3 L460 88.3 L460.3 87.3 L460.6 86.3 L460.9 85.3 L461.2 84.3 L461.5 83.3 L461.8 82.3 L462.1 81.3 L462.4 80.3 L462.6 79.3 L462.8 78.3 L463 77.2 L463.1 76.2 L463.3 75.1 L463.4 74 L463.5 72.9 L463.6 71.8 L463.7 70.8 L463.8 69.7 L463.8 68.6 L463.9 67.6 L463.9 66.5 L464 65.4 Z" fill="#f7c1c0" stroke="#1a1a1a" stroke-width="0.8"/>
<path d="M505.4 87.9 L505.5 88.9 L505.6 89.9 L505.8 90.9 L505.9 92 L506.1 93 L506.3 94 L506.6 95 L506.8 96.1 L507 97.1 L507.2 98.2 L507.5 99.3 L507.7 100.3 L508 101.4 L508.3 102.5 L508.6 103.6 L508.9 104.6 L509.2 105.7 L509.4 106.7 L509.7 107.8 L510 108.8 L510.3 109.9 L510.6 110.9 L510.9 112 L511.2 113 L511.5 114 L511.8 115.1 L512.1 116.1 L512.4 117.2 L512.7 118.2 L513 119.3 L513.3 120.3 L513.7 121.3 L514.2 122.3 L514.6 123.4 L515.1 124.4 L515.5 125.4 L515.9 126.4 L516.3 127.5 L516.7 128.5 L517 129.5 L517.5 130.6 L517.9 131.6 L518.4 132.7 L518.7 133.8 L518.8 134.8 L518.6 135.9 L518.4 136.9 L518.2 138 L518 139 L517.7 140.1 L517.3 141.1 L517 142.1 L516.6 143.2 L516.1 144.2 L515.7 145.3 L515.3 146.3 L514.9 147.3 L514.4 148.4 L514 149.4 L513.7 150.5 L513.3 151.5 L513 152.5 L512.7 153.5 L512.4 154.5 L512.2 155.5 L511.9 156.6 L511.6 157.6 L511.3 158.6 L511 159.6 L510.7 160.6 L510.4 161.6 L510.2 162.6 L509.9 163.6 L509.6 164.6 L509.4 165.7 L509.2 166.7 L508.9 167.7 L508.7 168.7 L508.5 169.7 L508.1 170.7 L507.7 171.8 L507.3 172.8 L507 173.8 L506.8 174.9 L506.5 175.9 L506.3 177 L506.1 178 L506 179 L505.8 180 L505.7 181.1 L505.7 182.1 L505.6 183.1 L505.5 184.1 L505.5 185.1 L505.5 186.2 L505.4 187.2 L505.4 188.2 L504.8 188.2 L504.8 187.2 L504.7 186.2 L504.7 185.1 L504.7 184.1 L504.6 183.1 L504.5 182.1 L504.5 181.1 L504.4 180 L504.2 179 L504.1 178 L503.9 177 L503.7 175.9 L503.4 174.9 L503.2 173.8 L502.9 172.8 L502.5 171.8 L502.1 170.7 L501.7 169.7 L501.5 168.7 L501.3 167.7 L501 166.7 L500.8 165.7 L500.6 164.6 L500.3 163.6 L500 162.6 L499.8 161.6 L499.5 160.6 L499.2 159.6 L498.9 158.6 L498.6 157.6 L498.3 156.6 L498 155.5 L497.8 154.5 L497.5 153.5 L497.2 152.5 L496.9 151.5 L496.5 150.5 L496.2 149.4 L495.8 148.4 L495.3 147.3 L494.9 146.3 L494.5 145.3 L494.1 144.2 L493.6 143.2 L493.2 142.1 L492.9 141.1 L492.5 140.1 L492.2 139 L492 138 L491.8 136.9 L491.6 135.9 L491.4 134.8 L491.5 133.8 L491.8 132.7 L492.3 131.6 L492.7 130.6 L493.2 129.5 L493.5 128.5 L493.9 127.5 L494.3 126.4 L494.7 125.4 L495.1 124.4 L495.6 123.4 L496 122.3 L496.5 121.3 L496.9 120.3 L497.2 119.3 L497.5 118.2 L497.8 117.2 L498.1 116.1 L498.4 115.1 L498.7 114 L499 113 L499.3 112 L499.6 110.9 L499.9 109.9 L500.2 108.8 L500.5 107.8 L500.8 106.7 L501 105.7 L501.3 104.6 L501.6 103.6 L501.9 102.5 L502.2 101.4 L502.5 100.3 L502.7 99.3 L503 98.2 L503.2 97.1 L503.4 96.1 L503.6 95 L503.9 94 L504.1 93 L504.3 92 L504.4 90.9 L504.6 89.9 L504.7 88.9 L504.8 87.9 Z" fill="#8cc3e6" stroke="#1a1a1a" stroke-width="0.8"/>
<path d="M463.6 112.1h0M460.1 101.1h0M468.9 109.4h0M459.5 115.2h0M465.5 110h0M468 131h0M464.4 102.4h0M468.7 115.3h0M462.3 118.5h0M462.5 111.2h0M462.2 133h0M459.5 119.5h0M461.1 104h0M460.5 116.8h0M469 119.9h0M468.5 126h0M462 128.1h0M459.3 81.9h0M466.4 111.7h0M463.4 112.4h0M459.6 120.3h0M461 114.1h0M467.7 112.1h0M461.6 108.2h0M460.7 123.7h0M464.2 110.6h0M463.2 110.3h0M459.3 117.5h0M461.4 123.3h0M461.4 122.9h0M466.8 114.7h0M460.3 88.3h0M460.3 87h0M469.3 99h0M461.7 133.2h0M466.7 112.5h0M463.6 115h0M460.9 105.1h0M459.6 112.8h0M466.2 113.6h0M459.9 128.8h0M463.5 118.2h0M461.7 118.4h0M460 112h0M462.1 121h0M463.4 124.8h0M465.4 122h0M467.9 118.5h0M461 116.8h0M462 129.6h0M468.6 117.7h0M463.8 121.7h0M467.6 119.7h0M465.9 125.6h0M463.3 105.3h0M461.1 122.8h0M460.7 130.2h0M459.6 123.2h0M468.3 112.4h0M460.1 104.2h0M461.6 116h0M460.9 121.7h0M463.5 107.3h0M464.8 113.7h0M460.5 127.8h0M464.3 116h0M462.6 107.5h0M463.7 118.6h0M460.7 111.3h0M465.7 107.7h0M469.1 113.1h0M464.5 112.1h0M464.2 106.2h0M465.9 120.1h0M463 120.8h0M460.6 119.5h0M468.8 120.1h0M467.3 117.5h0M462 116.9h0M469.2 107.2h0M460.7 124.7h0M465.5 130h0M459.7 105.9h0M468.8 112.7h0M463.6 118.2h0M468 119.8h0M463.8 127.7h0M467.3 117.1h0M461.4 123.3h0M466.8 128.5h0M461.8 116.8h0M464.7 101.3h0M460.5 97h0M461.7 130.4h0M460.7 120.2h0M466.4 119.6h0M467.1 130.1h0M460.7 98.7h0M461.1 122.8h0M466.1 115.3h0M467.1 113.3h0M464.5 91.6h0M467.2 118.2h0M468.3 123h0M461.5 115.2h0M469.3 111.7h0M462.4 130.2h0M467.4 113.6h0M463.4 119.4h0M462.1 85.2h0M462.8 112.6h0M462.7 125.1h0M465.9 116.8h0M466.3 122.2h0M467.4 109.6h0M464.3 98.1h0M465.9 122.1h0M468.1 117.4h0M462.1 124.5h0M462.5 124.4h0M460.7 111.1h0M467 125.7h0M459.7 119.5h0M462.2 116.2h0M463.6 127.3h0M467.3 102.5h0M463.9 102.7h0M466.7 125.6h0M463.2 109.6h0M466.8 128.6h0M467.8 121.7h0M468.9 117.6h0M462.7 126.8h0M468.6 88.4h0M462.2 104.1h0M468.8 127h0M465 120.3h0M468 117h0M464 100.5h0M461.3 123.8h0M459.4 92.9h0M463.3 117.7h0M466.8 120.6h0M465.7 113.2h0M459.5 123.6h0M464.6 125.6h0M463.8 122.8h0M463 117.1h0M461.3 98.4h0M466.8 96.5h0M465.2 115.1h0M459.3 120.5h0M463.2 108.4h0M462.5 93h0M465.3 118.8h0M460.2 119.8h0M460.8 114.1h0M464.6 115.5h0M464.4 129.7h0M460.5 113.4h0M465.2 119h0M461.1 107.4h0M468.4 122.8h0M469 109.3h0M466.7 131h0M466.1 120.7h0M459.5 92.5h0M460.4 124.8h0M462.8 115.2h0M464.6 116.6h0M468.1 87.7h0M461.4 115.4h0M463.7 135.8h0M466.8 130.4h0M467.9 107.2h0M463 117.1h0M467 118.9h0M463.5 119.5h0M459.6 119h0M461.3 108.5h0M459.8 114.8h0M465.4 84.3h0M462.5 96.6h0M468.4 114.5h0M466.1 105.8h0M463.8 124.6h0M468 116.7h0M463.8 95.9h0M464.8 124.4h0M469.3 121.1h0M466 124.2h0M468.6 106.2h0M461.7 125.3h0M463.9 132.4h0M465 118.9h0M462.2 131h0M466.4 119.4h0M467.8 119.2h0M460.7 125.2h0M462.1 104.9h0M461.5 125.3h0M467.2 109.2h0M463.4 118.9h0M465.7 119.6h0M465.4 116.6h0M462.3 125.9h0M468.6 96.6h0M465.9 121.8h0M466.1 107.7h0M461.8 117.5h0M463 113.2h0M462 114.1h0M468.1 122.5h0M468.8 120h0M462.9 115.5h0M459.8 126.3h0M466.2 117.2h0M468.6 97.1h0M461.2 111.2h0M467.2 110.6h0M468.2 117.8h0M464.7 86.6h0M468.4 122.4h0M467.4 133h0M462.3 117.6h0M461.6 98.7h0M463.3 93.4h0M464.5 114h0M463.8 127.3h0M460.2 132.1h0M464.5 117.1h0M465.8 104.8h0M467.1 118.8h0M462.5 121.7h0M466 98.3h0M462.3 106.7h0M465.2 103.8h0M459.6 119.9h0M468.6 123.5h0M461.1 110.1h0M466.2 114.1h0M465.8 103.4h0M468.2 99.4h0M459.6 110.4h0M467.1 117.8h0M464.1 112h0M460.9 119h0M461.6 104.4h0M466.6 126h0M465 119.8h0M463.3 96.6h0M459.9 126.7h0M465.5 116.1h0M468.7 129.3h0M467.7 96.3h0M466.7 128.4h0M460.5 110.1h0M464 116h0M464.2 132h0M459.8 125.8h0M467.9 124.2h0M462.8 127.6h0M467.9 102.6h0M463 121.7h0M464.8 97.2h0M464.5 112h0M461 117.3h0M460.5 120.9h0M463.7 109.8h0M467.2 119.9h0M462.5 119.2h0M460.3 111.2h0M462 135.5h0M460.4 123.3h0M462.9 112.6h0M459.6 111.8h0M468.7 90.8h0M462.4 112.6h0M467.6 94.6h0M464.1 129.7h0M463.5 102.4h0M467.2 115.1h0M468.7 92.9h0M461.4 122.6h0M465.2 129h0M462.1 105.6h0M465.9 128.1h0M465.8 121.7h0M461.5 103.6h0M468.9 124.3h0M468.4 124.8h0M467.8 106.9h0M467.3 125.9h0M468.9 123.4h0M467 113.1h0M468.3 103h0M466.9 120h0M463.9 116.2h0M460.4 128h0M459.9 123.5h0M463.7 111.1h0M460.4 102.3h0M459.3 97.8h0M466.9 115.2h0M469.3 121.6h0M465.9 110.8h0M463.4 105.7h0M469 104.3h0M466.5 113h0M468.7 108.3h0M468.4 83.2h0M464.5 116.2h0M467.2 117.7h0M469 107.8h0M459.8 96.1h0M467.4 100.3h0M467.7 119.9h0M468.9 106.5h0M462.2 112.5h0M462.4 106.9h0M466.8 88.8h0M461.4 118.1h0M469.3 121.7h0M463 107.8h0M460.4 115.7h0M459.3 123.2h0M460.4 105.3h0M463.3 117.9h0M461 118.5h0M464.6 110.6h0M466.5 117.6h0M463.9 98.5h0M464.4 111.7h0M462.3 116h0M464.1 117.3h0M463.4 123.7h0M462.7 118.4h0M463.5 123.8h0M465.8 92.3h0M466.2 126.8h0M467.1 119.1h0M467.9 125h0M463 119.3h0M469 120.4h0M464.4 113.7h0M466.3 115.6h0M466.7 114h0M468.2 95.2h0M466 127.5h0M460.5 121.9h0M468.7 129.2h0M465.2 119.1h0M460.8 129.8h0M466.3 126.2h0M467.7 111.1h0M464.9 99h0M464 90.7h0M460.9 111.6h0M467.8 127.1h0M460.3 98.4h0M465.8 112h0M465 100.9h0M462.5 127.7h0M464.9 107.8h0M465 118.1h0M463.2 122.2h0M466 117h0M464.2 112.8h0M463.3 135.3h0M459.4 123.7h0M459.5 117.2h0M468 124.3h0M465.6 131.2h0M461.5 119.4h0M467.9 125.5h0M468 121.2h0M459.6 114.8h0M465.3 100.8h0M469.3 121.9h0M464.2 117.7h0M468.8 112.6h0M468.5 134.9h0M459.7 119.9h0M467.4 99.2h0M463.6 121h0M465.5 89.1h0M462.7 99.8h0M464 120.8h0M460.4 110.3h0M463.6 120.1h0M462.4 122.1h0M467.5 109.1h0M466.3 114.5h0M466.4 119.6h0M462.3 115.5h0M467 107.7h0M463.4 128.4h0M466.8 119.4h0M468 103h0M459.6 112.9h0M466.3 124.3h0M462.2 95h0M469.2 104.3h0M459.9 117.6h0M463.2 123.4h0M469 128.2h0M468.2 90.2h0M468 122.1h0M467 129.3h0M468.3 91h0M466.7 112.7h0M463.3 117.9h0M460.7 113.3h0M468 114.9h0M463.8 120.5h0M469 109.4h0M459.8 101.6h0M468.9 106.3h0M469.1 121.3h0M465 98.3h0M463.2 116.8h0M466 98.6h0M463.9 126.3h0M461.4 119.4h0M469 111.7h0M467.1 102.6h0M463.3 107.7h0M460.2 95.7h0M460.1 120.5h0M465.3 113.2h0M465.2 126.2h0M467 130.9h0M463.5 110h0M464.5 116.2h0M461 126.6h0M463.1 112.9h0M459.8 118.7h0M461.2 124.5h0M460.1 117.6h0M462.2 113.7h0M462.4 94.7h0M467 121.7h0M460.8 98h0M459.8 110.9h0M462.7 99.6h0M461.8 130.7h0M461.4 101.5h0M466.8 99.5h0M468.9 115.1h0M461 121.7h0M468.3 120.8h0M465.8 132.5h0M465.8 105.9h0M461.1 137.3h0M466.8 113.4h0M460.2 91.4h0M460.6 118.9h0M466.1 111.4h0M459.9 105.8h0M468.7 101.2h0M464.6 129.6h0M463.3 121.3h0M465.6 129.5h0M468.6 87.7h0M462.2 125.5h0M463.3 116h0M461.1 112.1h0M463.6 108.4h0M463.5 114h0M461.8 131.3h0M468.1 135.8h0M463.7 107.4h0M468.5 119h0M466.2 104.4h0M463.5 129.2h0M461.8 123.6h0M463.5 82.7h0M469.1 116.8h0M464.7 126.3h0M463.4 97.9h0M461.8 127.1h0M463.4 101h0M462.7 85.2h0M462.8 116.1h0M465 112.4h0M464.1 103.1h0M464.6 120.2h0M461 118.9h0M463.3 121.4h0M463.4 120.9h0M466.1 83.2h0M459.7 116.2h0M463.7 118.2h0M465.3 118.9h0M459.9 123h0M468.2 108.6h0M463 119.5h0M467.2 121.8h0M461.5 101.1h0M460.9 125.8h0M466.7 118.3h0M468 125.9h0M465.5 118.3h0M467.3 103.2h0M462.7 110.5h0M459.7 124.4h0M466.8 119.3h0M460.4 118.7h0M468 116.5h0M466.9 117.8h0M459.6 119.7h0M466.9 122.8h0M460.9 109.3h0M462.9 115.3h0M460.7 118.8h0M462.3 114.8h0M461.6 119.9h0M463 112h0M465 101.7h0M459.3 111.6h0M462.3 152h0M467.3 150.5h0M461.3 146h0M468.3 145h0M462.8 141h0M466.3 139h0M460.8 137.5h0M464.3 78h0" stroke="#000" stroke-width="2.7" stroke-linecap="round" fill="none"/>
<path d="M502.5 107.9h0M501.4 118.3h0M501 133.7h0M505.7 132.3h0M503 138h0M504.3 140.2h0M505.3 143.8h0M500.2 152.4h0M509.9 153.5h0M501.4 166.7h0" stroke="#000" stroke-width="2.9" stroke-linecap="round" fill="none"/>
<path d="M505.8 137.3h0" stroke="#fff" stroke-width="4.4" stroke-linecap="round" fill="none"/>
<line x1="436.8" y1="192.5" x2="440" y2="192.5" stroke="#333" stroke-width="1"/>
<text x="435.5" y="195.8" font-size="9.2" text-anchor="end" fill="#4d4d4d">5</text>
<line x1="436.8" y1="158.5" x2="440" y2="158.5" stroke="#333" stroke-width="1"/>
<text x="435.5" y="161.8" font-size="9.2" text-anchor="end" fill="#4d4d4d">6</text>
<line x1="436.8" y1="124.5" x2="440" y2="124.5" stroke="#333" stroke-width="1"/>
<text x="435.5" y="127.8" font-size="9.2" text-anchor="end" fill="#4d4d4d">7</text>
<line x1="436.8" y1="90.5" x2="440" y2="90.5" stroke="#333" stroke-width="1"/>
<text x="435.5" y="93.8" font-size="9.2" text-anchor="end" fill="#4d4d4d">8</text>
<line x1="464.3" y1="73.8" x2="505.1" y2="73.8" stroke="#333" stroke-width="0.8"/>
<text x="484.7" y="72.9" font-size="8.7" text-anchor="middle" fill="#333">0.00026</text>
<line x1="570.1" y1="65.4" x2="570.1" y2="187.9" stroke="#1a1a1a" stroke-width="0.8"/>
<line x1="611.5" y1="110" x2="611.5" y2="184.5" stroke="#1a1a1a" stroke-width="0.8"/>
<path d="M570.4 65.4 L570.4 66.4 L570.5 67.4 L570.5 68.5 L570.6 69.5 L570.7 70.5 L570.7 71.5 L570.8 72.5 L570.9 73.5 L570.9 74.6 L571 75.6 L571.1 76.6 L571.1 77.6 L571.2 78.7 L571.2 79.7 L571.2 80.7 L571.3 81.7 L571.3 82.8 L571.3 83.8 L571.4 84.8 L571.4 85.9 L571.4 86.9 L571.5 87.9 L571.5 89 L571.6 90 L571.6 91 L571.6 92 L571.7 93.1 L571.7 94.1 L571.8 95.1 L571.8 96.2 L571.8 97.2 L571.9 98.2 L571.9 99.3 L571.9 100.3 L572 101.3 L572 102.3 L572.1 103.4 L572.1 104.4 L572.2 105.4 L572.3 106.5 L572.4 107.5 L572.5 108.5 L572.6 109.6 L572.7 110.6 L572.8 111.6 L572.9 112.7 L573.1 113.7 L573.4 114.8 L573.7 115.8 L574.1 116.9 L574.6 117.9 L575.1 119 L575.7 120 L576.3 121 L577 122 L577.7 123 L578.4 124 L579.1 125 L579.6 126 L580.2 127.1 L580.7 128.1 L581.3 129.1 L581.8 130.1 L582.2 131.2 L582.6 132.2 L582.9 133.3 L583.2 134.3 L583.5 135.4 L583.7 136.4 L583.9 137.5 L584 138.5 L584 139.6 L584 140.6 L583.9 141.7 L583.8 142.7 L583.6 143.7 L583.5 144.8 L583.2 145.8 L583 146.8 L582.7 147.9 L582.4 148.9 L581.9 149.9 L581.4 150.9 L580.8 151.9 L580.1 153 L579.4 154 L578.7 155 L578.1 156 L577.3 157 L576.5 158 L575.7 159 L574.9 160 L574.2 161 L573.6 162 L573.1 163 L572.7 164 L572.4 165 L572.1 166 L571.8 167 L571.6 168 L571.4 169 L571.2 170 L571.1 171 L571 172 L570.9 173 L570.9 174.1 L570.8 175.1 L570.8 176.2 L570.7 177.3 L570.7 178.3 L570.6 179.4 L570.6 180.4 L570.6 181.5 L570.5 182.6 L570.5 183.6 L570.5 184.7 L570.4 185.8 L570.4 186.8 L570.4 187.9 L569.8 187.9 L569.8 186.8 L569.8 185.8 L569.7 184.7 L569.7 183.6 L569.7 182.6 L569.6 181.5 L569.6 180.4 L569.6 179.4 L569.5 178.3 L569.5 177.3 L569.4 176.2 L569.4 175.1 L569.3 174.1 L569.3 173 L569.2 172 L569.1 171 L569 170 L568.8 169 L568.6 168 L568.4 167 L568.1 166 L567.8 165 L567.5 164 L567.1 163 L566.6 162 L566 161 L565.3 160 L564.5 159 L563.7 158 L562.9 157 L562.1 156 L561.5 155 L560.8 154 L560.1 153 L559.4 151.9 L558.8 150.9 L558.3 149.9 L557.8 148.9 L557.5 147.9 L557.2 146.8 L557 145.8 L556.7 144.8 L556.6 143.7 L556.4 142.7 L556.3 141.7 L556.2 140.6 L556.2 139.6 L556.2 138.5 L556.3 137.5 L556.5 136.4 L556.7 135.4 L557 134.3 L557.3 133.3 L557.6 132.2 L558 131.2 L558.4 130.1 L558.9 129.1 L559.5 128.1 L560 127.1 L560.6 126 L561.1 125 L561.8 124 L562.5 123 L563.2 122 L563.9 121 L564.5 120 L565.1 119 L565.6 117.9 L566.1 116.9 L566.5 115.8 L566.8 114.8 L567.1 113.7 L567.3 112.7 L567.4 111.6 L567.5 110.6 L567.6 109.6 L567.7 108.5 L567.8 107.5 L567.9 106.5 L568 105.4 L568.1 104.4 L568.1 103.4 L568.2 102.3 L568.2 101.3 L568.3 100.3 L568.3 99.3 L568.3 98.2 L568.4 97.2 L568.4 96.2 L568.4 95.1 L568.5 94.1 L568.5 93.1 L568.6 92 L568.6 91 L568.6 90 L568.7 89 L568.7 87.9 L568.8 86.9 L568.8 85.9 L568.8 84.8 L568.9 83.8 L568.9 82.8 L568.9 81.7 L569 80.7 L569 79.7 L569 78.7 L569.1 77.6 L569.1 76.6 L569.2 75.6 L569.3 74.6 L569.3 73.5 L569.4 72.5 L569.5 71.5 L569.5 70.5 L569.6 69.5 L569.7 68.5 L569.7 67.4 L569.8 66.4 L569.8 65.4 Z" fill="#f7c1c0" stroke="#1a1a1a" stroke-width="0.8"/>
<path d="M611.8 109.6 L612.1 110.9 L612.6 112.2 L613.3 113.5 L613.8 114.6 L614.3 115.7 L615 116.7 L616.1 117.8 L617.4 119 L619 120.1 L620.7 121.3 L622.3 122.4 L623.7 123.6 L624.7 124.8 L625.6 125.9 L626.4 127 L627.1 128.2 L627.7 129.3 L628 130.5 L628.1 131.5 L628.1 132.6 L628 133.6 L627.8 134.6 L627.6 135.7 L627.3 136.7 L627 137.7 L626.7 138.8 L626.3 139.8 L625.9 140.8 L625.3 141.8 L624.8 142.9 L624.1 143.9 L623.5 144.9 L622.8 145.9 L622.2 147 L621.6 148 L621.1 149 L620.6 150 L620.1 151.1 L619.6 152.1 L619.1 153.1 L618.7 154.1 L618.3 155.1 L617.9 156.2 L617.6 157.2 L617.4 158.3 L617.2 159.3 L617 160.4 L616.9 161.4 L616.7 162.5 L616.6 163.5 L616.5 164.6 L616.3 165.6 L616.2 166.7 L616 167.7 L615.8 168.8 L615.5 169.8 L615.2 170.8 L614.9 171.9 L614.5 172.9 L614.2 173.9 L613.9 174.9 L613.5 176 L613.2 177 L613 178 L612.8 179 L612.6 180.1 L612.4 181.1 L612.2 182.1 L612.1 183.1 L612 184.1 L611.9 185.2 L611.8 186.2 L611.2 186.2 L611.1 185.2 L611 184.1 L610.9 183.1 L610.8 182.1 L610.6 181.1 L610.4 180.1 L610.2 179 L610 178 L609.8 177 L609.5 176 L609.1 174.9 L608.8 173.9 L608.5 172.9 L608.1 171.9 L607.8 170.8 L607.5 169.8 L607.2 168.8 L607 167.7 L606.8 166.7 L606.7 165.6 L606.5 164.6 L606.4 163.5 L606.3 162.5 L606.1 161.4 L606 160.4 L605.8 159.3 L605.6 158.3 L605.4 157.2 L605.1 156.2 L604.7 155.1 L604.3 154.1 L603.9 153.1 L603.4 152.1 L602.9 151.1 L602.4 150 L601.9 149 L601.4 148 L600.8 147 L600.2 145.9 L599.5 144.9 L598.9 143.9 L598.2 142.9 L597.7 141.8 L597.1 140.8 L596.7 139.8 L596.3 138.8 L596 137.7 L595.7 136.7 L595.4 135.7 L595.2 134.6 L595 133.6 L594.9 132.6 L594.9 131.5 L595 130.5 L595.3 129.3 L595.9 128.2 L596.6 127 L597.4 125.9 L598.3 124.8 L599.3 123.6 L600.7 122.4 L602.3 121.3 L604 120.1 L605.6 119 L606.9 117.8 L608 116.7 L608.7 115.7 L609.2 114.6 L609.7 113.5 L610.4 112.2 L610.9 110.9 L611.2 109.6 Z" fill="#8cc3e6" stroke="#1a1a1a" stroke-width="0.8"/>
<path d="M573.3 141.2h0M572.7 144.6h0M572 132.2h0M570.8 127h0M568 148.4h0M569.6 145.4h0M570.3 137.3h0M571.4 131.9h0M574.9 136.8h0M568.6 151.7h0M567.1 130h0M575.6 129.7h0M573.6 145.5h0M571.9 137.6h0M573.2 149.5h0M569.4 134.9h0M572.3 146.7h0M571.4 121.2h0M568.4 96.9h0M572.3 152h0M573.9 120.7h0M570.5 95.8h0M571.6 139.6h0M570.9 148.8h0M574.3 124.4h0M567.3 116.6h0M571 139.2h0M564.6 135h0M565.8 127.1h0M570.2 134.2h0M571 160.4h0M571 161.6h0M575.1 149.4h0M567.2 145.2h0M566.3 126.2h0M566.2 141.5h0M566.2 128.5h0M567.4 120.9h0M574.9 139.8h0M567.4 144.6h0M570.7 137.3h0M573.2 137.9h0M574.5 143.2h0M574.6 131.5h0M565.1 148.3h0M566.6 156.2h0M571.1 147.2h0M571 157.2h0M573.8 151.4h0M567.3 140.8h0M568.7 126.7h0M573.5 149.1h0M574.3 131h0M573.7 123.4h0M575.1 133.6h0M566 141.9h0M571.6 156.5h0M567.2 148.1h0M567.5 142.4h0M566.9 148.2h0M569.7 149h0M571.1 135.5h0M574.1 124.4h0M574 143.8h0M569 141.9h0M575.1 125.4h0M565.5 147.1h0M568.1 148.2h0M570.1 132.8h0M569.9 156.3h0M566.3 156.1h0M571.4 135.7h0M572.1 126.8h0M566.9 139.3h0M573.3 124.4h0M565.3 150.1h0M571.2 119.2h0M569.3 151.2h0M565 143.2h0M570.1 142.7h0M566.1 143.6h0M569.9 147.3h0M570.7 152.3h0M568.7 151.8h0M566.1 138.5h0M567.1 122.1h0M569.1 139.4h0M564.9 134.7h0M566.2 122.5h0M574.9 142.6h0M575 126.9h0M570.9 138.4h0M569.3 158.3h0M568.3 151.4h0M569.1 133.7h0M571.9 118.8h0M565.7 128.1h0M565.3 137.6h0M569.4 141.4h0M569.5 144.3h0M570.4 141.1h0M574.2 153.3h0M567.6 139.2h0M569.5 120.6h0M573.1 146h0M564.9 127.7h0M572.8 139.4h0M567.4 147.7h0M574.4 140h0M572 147h0M568 101.5h0M569.3 95.9h0M567 148.1h0M570.3 159.5h0M571.7 149.5h0M564.8 131.2h0M569.3 146.9h0M568.7 125.7h0M567.3 135.2h0M572 137.3h0M566.1 134.9h0M570 85.8h0M572.7 132.3h0M574.7 137.6h0M568.8 80.5h0M571.2 141h0M575 147.8h0M566.1 145.1h0M566.9 128.3h0M575.4 145.9h0M568.3 138.6h0M565.6 152.6h0M568.2 157.5h0M567.1 125.9h0M569.4 137.6h0M572.3 141.5h0M569.3 135.1h0M575.7 139.8h0M566.4 134.4h0M570 148.1h0M569 129.8h0M569.3 130.5h0M570.5 155.3h0M568.7 121.2h0M570.6 171.1h0M565.8 137.1h0M564.5 136.1h0M572.2 150.9h0M569.5 163.2h0M568.7 133.1h0M568.5 119.6h0M566.2 133.6h0M564.7 151.7h0M567 141.4h0M566.4 141.4h0M574.3 149.2h0M569.7 131.1h0M570.1 131h0M568.9 123h0M567.4 162.9h0M574.5 141.8h0M568.1 143.4h0M570.7 131.4h0M572.9 136.7h0M566.6 135h0M566.9 134.1h0M569.9 108.6h0M575 141.1h0M572.5 135.2h0M571.2 131.9h0M572.9 128.1h0M569.1 130.7h0M565.5 122.2h0M574.4 121.2h0M568 143.3h0M568.4 132.4h0M565.2 151h0M573.4 134h0M568.4 117.1h0M565 152.6h0M566 144.4h0M573.5 150.3h0M568.7 150.2h0M574.2 152.7h0M568.6 153.4h0M568.6 157h0M573.9 127.1h0M564.6 143.4h0M566 157.2h0M564.8 149.2h0M571.9 125.4h0M566.4 153.7h0M568.7 146h0M572 135.2h0M571.5 155.5h0M567.6 161.7h0M573.6 127.3h0M570.7 84.5h0M573.5 131.3h0M571.4 167.7h0M567.1 130.2h0M564.8 122.9h0M568.5 143h0M569.7 144.3h0M568.5 152h0M574.2 131.3h0M568.6 135.8h0M570.7 81.5h0M567.6 142.9h0M574.1 155.1h0M564.8 146.5h0M572.2 139.4h0M574.1 143.1h0M566.6 150h0M568.8 100.6h0M571.6 137.3h0M571.6 149.3h0M567.7 145.4h0M571.2 119.2h0M569 158h0M573.1 143.1h0M564.6 139.3h0M575.3 137.8h0M565 136h0M572.8 149.2h0M572.4 133.4h0M574.9 145.9h0M570.6 147.8h0M574.8 158.1h0M565.3 121.9h0M571.5 112.4h0M573.1 120.6h0M575.4 138.4h0M573.6 133h0M571.9 148.9h0M565 134.2h0M571.1 151.5h0M566.8 147.3h0M575.6 144.3h0M566.6 148.2h0M566.2 152h0M565.5 130.3h0M575.6 128.5h0M574 145.2h0M568.1 129.2h0M569.4 127.5h0M567.7 150.4h0M570.2 116h0M567 136h0M571.7 78.7h0M566.3 121.7h0M574.4 142.2h0M571.2 102.8h0M570.4 139.4h0M569.5 110.9h0M573.2 137.6h0M574.7 157.3h0M570 148.2h0M573.2 126.3h0M572 116h0M568.9 156.1h0M565.3 141.5h0M570 137.5h0M566.7 147.6h0M565 138.5h0M571.4 171.1h0M567.9 157h0M568.3 116.6h0M574.6 136.5h0M570.1 150h0M572.4 153.4h0M567.2 142.4h0M568.3 153.1h0M565 146.5h0M570.2 140h0M567.9 160.7h0M575.5 131.1h0M573.1 139.3h0M566.4 154.4h0M571.5 147.2h0M571.8 86.4h0M570.3 94.1h0M564.7 127.9h0M567.1 139.9h0M568.9 130.7h0M574.2 147.7h0M568.6 81.9h0M574.2 123.3h0M575.6 146.8h0M569.7 128h0M569.8 166h0M571.1 146.4h0M569.3 157.4h0M569.6 138.5h0M564.6 129.9h0M569 126.2h0M571.1 115.6h0M570 81.6h0M564.7 133.2h0M565.4 146.7h0M564.9 144h0M571 143.5h0M572.6 149h0M570.4 122.4h0M570.8 131h0M569.8 127.6h0M569.9 156.7h0M573.7 140h0M565 130.8h0M571.3 109.2h0M574.4 142.5h0M575 140.4h0M567 153.2h0M572.5 131.8h0M564.7 141.6h0M568.5 135.3h0M569.4 149.8h0M567.8 126.6h0M571.9 146.2h0M569.3 145h0M566.9 149.1h0M569 142.9h0M572.3 129.5h0M570.7 142.2h0M574.1 141.9h0M572 148.7h0M567.5 145.9h0M574.3 137.4h0M575.4 125.7h0M573.9 128.1h0M572.1 128.5h0M571.8 141h0M571 144.5h0M572.6 130.4h0M572.8 135.3h0M568.7 136.3h0M565.8 149.3h0M566.7 141.5h0M572.7 129.6h0M567.6 163.6h0M565.1 140.1h0M566.4 129.3h0M564.5 133h0M567.3 136.5h0M575.3 139.6h0M574.1 135.7h0M570.2 101.8h0M570.4 131.2h0M565.5 133.5h0M568.9 134.5h0M569.8 133.5h0M565.4 141.7h0M564.9 125.9h0M570.3 132.3h0M565 135.1h0M568.2 132.8h0M565 142.7h0M565.1 144.1h0M570.1 118.6h0M567.8 124.1h0M574.9 147.8h0M571.4 131.5h0M564.8 133.6h0M572.7 144.3h0M565.8 121.7h0M570.2 150.9h0M567.8 140.9h0M568.5 130.6h0M573.1 130.2h0M572 123.8h0M567.2 126.6h0M570.4 122.8h0M569.6 106.6h0M564.8 151.5h0M573.2 137.9h0M572.5 163.7h0M571.1 108.8h0M573.5 126.6h0M574.8 144.9h0M574.8 129.7h0M573.6 127.8h0M570.7 135h0M575 142.4h0M572.2 121.6h0M568.9 110.6h0M567.2 142.3h0M570.4 156.2h0M569.6 145.5h0M570.3 144.4h0M571.5 124.8h0M571.4 166.5h0M568.9 109.9h0M572.6 146.5h0M571 127.4h0M570.6 96.3h0M573 149.1h0M567.6 130.5h0M564.9 129.5h0M570 109.9h0M570.5 140.7h0M569.1 79h0M573.1 80h0M569.1 88h0M572.1 92h0M568.1 96h0M571.1 101h0M568.1 104h0" stroke="#000" stroke-width="2.7" stroke-linecap="round" fill="none"/>
<path d="M612.4 127h0M615.5 129.4h0M606.9 132.3h0M614.7 131.6h0M612 136h0M606.4 145.8h0M609.3 145.2h0M613.6 145.8h0M611.5 159.1h0M609 168.8h0" stroke="#000" stroke-width="2.9" stroke-linecap="round" fill="none"/>
<path d="M611.5 141h0" stroke="#fff" stroke-width="4.6" stroke-linecap="round" fill="none"/>
<line x1="543" y1="178.6" x2="546.2" y2="178.6" stroke="#333" stroke-width="1"/>
<text x="541.7" y="181.9" font-size="9.2" text-anchor="end" fill="#4d4d4d">0</text>
<line x1="543" y1="155.4" x2="546.2" y2="155.4" stroke="#333" stroke-width="1"/>
<text x="541.7" y="158.8" font-size="9.2" text-anchor="end" fill="#4d4d4d">1</text>
<line x1="543" y1="132.3" x2="546.2" y2="132.3" stroke="#333" stroke-width="1"/>
<text x="541.7" y="135.6" font-size="9.2" text-anchor="end" fill="#4d4d4d">2</text>
<line x1="543" y1="109.2" x2="546.2" y2="109.2" stroke="#333" stroke-width="1"/>
<text x="541.7" y="112.5" font-size="9.2" text-anchor="end" fill="#4d4d4d">3</text>
<line x1="543" y1="86" x2="546.2" y2="86" stroke="#333" stroke-width="1"/>
<text x="541.7" y="89.3" font-size="9.2" text-anchor="end" fill="#4d4d4d">4</text>
<line x1="543" y1="62.8" x2="546.2" y2="62.8" stroke="#333" stroke-width="1"/>
<text x="541.7" y="66.1" font-size="9.2" text-anchor="end" fill="#4d4d4d">5</text>
<line x1="570.1" y1="74.3" x2="611.5" y2="74.3" stroke="#333" stroke-width="0.8"/>
<text x="590.8" y="72.6" font-size="8.7" text-anchor="middle" fill="#333">0.45</text>
<line x1="684.7" y1="125.7" x2="684.7" y2="177" stroke="#1a1a1a" stroke-width="0.8"/>
<line x1="725.7" y1="65.4" x2="725.7" y2="186" stroke="#1a1a1a" stroke-width="0.8"/>
<path d="M685 125.7 L685 126.7 L685.1 127.7 L685.1 128.8 L685.2 129.8 L685.2 130.8 L685.3 131.8 L685.4 132.8 L685.4 133.9 L685.5 134.9 L685.6 135.9 L685.7 136.9 L685.7 138 L685.8 139 L685.9 140 L686.1 141 L686.3 142 L686.5 143 L686.7 144 L686.9 145 L687.2 146 L687.5 147 L687.8 148 L688.1 149 L688.5 150 L689.2 151 L690 152 L690.9 153 L691.9 154 L693 155 L694.1 156 L695.2 157 L696.2 158 L697.4 159 L698.6 160 L699.8 161 L700.7 162 L701.4 163 L701.7 164 L701.4 165 L700.7 166 L699.6 167 L698.3 168 L697 169 L695.7 170 L694.1 171 L692.4 172 L690.6 173 L689 174 L687.7 175 L685.9 176 L685.1 177 L684.3 177 L683.5 176 L681.7 175 L680.4 174 L678.8 173 L677 172 L675.3 171 L673.7 170 L672.4 169 L671.1 168 L669.8 167 L668.7 166 L668 165 L667.7 164 L668 163 L668.7 162 L669.6 161 L670.8 160 L672 159 L673.2 158 L674.2 157 L675.3 156 L676.4 155 L677.5 154 L678.5 153 L679.4 152 L680.2 151 L680.9 150 L681.3 149 L681.6 148 L681.9 147 L682.2 146 L682.5 145 L682.7 144 L682.9 143 L683.1 142 L683.3 141 L683.5 140 L683.6 139 L683.7 138 L683.7 136.9 L683.8 135.9 L683.9 134.9 L684 133.9 L684 132.8 L684.1 131.8 L684.2 130.8 L684.2 129.8 L684.3 128.8 L684.3 127.7 L684.4 126.7 L684.4 125.7 Z" fill="#f7c1c0" stroke="#1a1a1a" stroke-width="0.8"/>
<path d="M726 65.3 L726.1 66.3 L726.2 67.4 L726.3 68.4 L726.4 69.4 L726.6 70.5 L726.8 71.5 L726.9 72.5 L727.1 73.6 L727.2 74.6 L727.4 75.6 L727.5 76.7 L727.6 77.7 L727.7 78.7 L727.8 79.8 L727.9 80.8 L728 81.8 L728.1 82.9 L728.2 83.9 L728.3 84.9 L728.3 86 L728.4 87 L728.4 88 L728.4 89.1 L728.4 90.1 L728.4 91.2 L728.3 92.2 L728.2 93.3 L728 94.3 L727.9 95.4 L727.7 96.5 L727.5 97.5 L727.4 98.6 L727.2 99.6 L727.1 100.7 L727 101.8 L726.9 102.8 L726.7 103.9 L726.6 104.9 L726.5 106 L726.4 107.1 L726.3 108.1 L726.3 109.2 L726.2 110.2 L726.2 111.3 L726.2 112.3 L726.2 113.4 L726.2 114.4 L726.3 115.4 L726.3 116.5 L726.4 117.5 L726.5 118.5 L726.6 119.6 L726.7 120.6 L726.8 121.6 L727 122.7 L727.2 123.7 L727.5 124.8 L727.9 125.8 L728.4 126.9 L728.9 127.9 L729.4 129 L729.9 130.1 L730.4 131.1 L730.8 132.2 L731.2 133.2 L731.5 134.3 L731.7 135.3 L731.9 136.4 L732 137.4 L732.1 138.4 L732.2 139.5 L732.2 140.5 L732.3 141.5 L732.3 142.6 L732.3 143.6 L732.3 144.6 L732.3 145.7 L732.3 146.7 L732.3 147.7 L732.2 148.8 L732.2 149.8 L732.1 150.8 L732 151.9 L731.9 152.9 L731.8 153.9 L731.6 155 L731.5 156 L731.3 157 L731.2 158.1 L731 159.1 L730.8 160.2 L730.5 161.2 L730.2 162.3 L729.9 163.3 L729.6 164.4 L729.3 165.5 L729 166.5 L728.7 167.6 L728.5 168.6 L728.2 169.7 L727.9 170.8 L727.6 171.9 L727.3 173 L727 174.1 L726.8 175.3 L726.6 176.4 L726.4 177.5 L726.2 178.6 L726.1 179.7 L726 180.8 L726 181.9 L726 183 L726 184.1 L726 185.2 L726 186.3 L726 187.4 L725.4 187.4 L725.4 186.3 L725.4 185.2 L725.4 184.1 L725.4 183 L725.4 181.9 L725.4 180.8 L725.3 179.7 L725.2 178.6 L725 177.5 L724.8 176.4 L724.6 175.3 L724.4 174.1 L724.1 173 L723.8 171.9 L723.5 170.8 L723.2 169.7 L722.9 168.6 L722.7 167.6 L722.4 166.5 L722.1 165.5 L721.8 164.4 L721.5 163.3 L721.2 162.3 L720.9 161.2 L720.6 160.2 L720.4 159.1 L720.2 158.1 L720.1 157 L719.9 156 L719.8 155 L719.6 153.9 L719.5 152.9 L719.4 151.9 L719.3 150.8 L719.2 149.8 L719.2 148.8 L719.1 147.7 L719.1 146.7 L719.1 145.7 L719.1 144.6 L719.1 143.6 L719.1 142.6 L719.1 141.5 L719.2 140.5 L719.2 139.5 L719.3 138.4 L719.4 137.4 L719.5 136.4 L719.7 135.3 L719.9 134.3 L720.2 133.2 L720.6 132.2 L721 131.1 L721.5 130.1 L722 129 L722.5 127.9 L723 126.9 L723.5 125.8 L723.9 124.8 L724.2 123.7 L724.4 122.7 L724.6 121.6 L724.7 120.6 L724.8 119.6 L724.9 118.5 L725 117.5 L725.1 116.5 L725.1 115.4 L725.2 114.4 L725.2 113.4 L725.2 112.3 L725.2 111.3 L725.2 110.2 L725.1 109.2 L725.1 108.1 L725 107.1 L724.9 106 L724.8 104.9 L724.7 103.9 L724.5 102.8 L724.4 101.8 L724.3 100.7 L724.2 99.6 L724 98.6 L723.9 97.5 L723.7 96.5 L723.5 95.4 L723.4 94.3 L723.2 93.3 L723.1 92.2 L723 91.2 L723 90.1 L723 89.1 L723 88 L723 87 L723.1 86 L723.1 84.9 L723.2 83.9 L723.3 82.9 L723.4 81.8 L723.5 80.8 L723.6 79.8 L723.7 78.7 L723.8 77.7 L723.9 76.7 L724 75.6 L724.2 74.6 L724.3 73.6 L724.5 72.5 L724.7 71.5 L724.8 70.5 L725 69.4 L725.1 68.4 L725.2 67.4 L725.3 66.3 L725.4 65.3 Z" fill="#8cc3e6" stroke="#1a1a1a" stroke-width="0.8"/>
<path d="M685.5 150.4h0M681.6 168h0M681.2 148.8h0M681.4 159.5h0M689.1 149h0M682.6 169.4h0M684.4 171h0M681.6 159.8h0M690.3 153.2h0M681.9 144.4h0M685.8 169.1h0M690 157.8h0M682.6 173.6h0M682.2 156.5h0M685.9 153.2h0M682 151.4h0M688.5 160.8h0M682.5 156.3h0M684.4 161.8h0M685.5 160h0M688.9 161.7h0M683.1 148h0M687.6 146.5h0M685.9 145.5h0M684.2 163h0M685.3 147.9h0M685.9 154.6h0M680.9 149.7h0M689.4 164.3h0M685.8 159.8h0M682.6 172.5h0M687.8 170.3h0M686.4 144.4h0M681.6 162h0M686 170.1h0M685 158.7h0M681.9 172.6h0M684.6 152.2h0M679.4 151.6h0M688.3 147.2h0M685.7 162.8h0M685.4 156.4h0M681.7 172h0M681.8 165.4h0M683.7 149.8h0M686.7 160.8h0M683.3 145.2h0M679.6 161.3h0M690.1 160.8h0M680 162h0M682.4 160.3h0M684.7 166.2h0M679.1 154h0M679.9 151.4h0M688.5 149.4h0M690.2 155.2h0M682 150.3h0M680.1 154.7h0M679.9 159.3h0M687.3 144.6h0M687 154.5h0M684.1 165.4h0M687 156.1h0M681.7 150.9h0M688.9 162.2h0M681.1 152.5h0M685.8 152.7h0M683.7 165.7h0M683.1 147.7h0M681.9 146.3h0M686.7 157.1h0M686.9 165.4h0M679.2 166.1h0M683 155.2h0M685 163.5h0M685.4 144.7h0M686.4 147.4h0M686 150h0M688.7 159.3h0M689.4 171.2h0M688.4 160h0M682.6 162.9h0M681.1 164.3h0M679.7 171.3h0M682 172.4h0M680.3 155.7h0M684.3 159.9h0M681.3 170.3h0M683.4 172.5h0M679.6 152.2h0M681.5 144.4h0M688.3 158.7h0M690.2 170.9h0M682.1 162.5h0M683.5 168.4h0M680.4 163.1h0M686.6 158.8h0M685.1 144h0M679.4 164.4h0M687.3 164.8h0M681.7 151.2h0M690 162.5h0M687.4 150.6h0M685.7 144.7h0M689.1 153.6h0M682.3 166.4h0M687.5 154.5h0M683.1 151.3h0M684.6 156.7h0M685.3 154.3h0M688.5 156h0M683.1 160.4h0M688.5 154.5h0M679.1 158h0M682.5 161.3h0M679.2 164.3h0M679.8 154.5h0M684.9 146.2h0M681.1 145.9h0M684.9 155.2h0M686 160.9h0M689.6 169.3h0M679.8 157.8h0M683.8 149.4h0M689.7 150.7h0M683.4 162.4h0M683.2 156.6h0M685.6 145.2h0M681.5 152.1h0M686.7 148.8h0M687.4 158.2h0M684.7 144.6h0M685.9 156.1h0M680.7 156.2h0M688.4 173.1h0M681.9 153.9h0M682.8 156.1h0M683.8 156.6h0M690.1 155h0M684.4 144.3h0M686.8 144.4h0M682.1 166.6h0M680.8 168.3h0M690.1 165.1h0M681.7 148.3h0M685.9 168.9h0M687.7 166.3h0M683.2 171.4h0M685.2 162.6h0M684.1 155.3h0M686.7 163.1h0M688.6 169.3h0M679.7 158.5h0M682.7 153.1h0M680.5 156.7h0M687.6 151.8h0M685.8 149.5h0M683 169.5h0M679.6 153.6h0M687.4 165.4h0M680.4 167h0M680.3 170.4h0M684.4 168.3h0M684.3 159.5h0M683.1 170h0M684.9 163.4h0M689.9 157.5h0M687.9 164.9h0M681.8 145.3h0M687.4 145.1h0M684.2 145.4h0M686.7 144.2h0M683.1 145.1h0M686.8 164.4h0M685.6 146h0M688.1 171.8h0M690 157.4h0M689.7 159.4h0M685.7 161.8h0M689.1 160.7h0M686.8 158.8h0M682.4 157.7h0M690.1 154.4h0M686.2 144.7h0M686.6 149.1h0M683.7 158.6h0M690.2 169.6h0M682.6 146.5h0M681.7 153.6h0M681.1 169.7h0M681.1 171.9h0M684.4 145.7h0M689.1 152.7h0M680.5 154.7h0M684.9 152.2h0M684 162.6h0M687.3 167.9h0M681.7 152h0M689.4 170.5h0M687.5 160.8h0M683.8 148.5h0M685.8 153h0M682.2 155.6h0M688 151.9h0M687.2 146.9h0M687.5 164.8h0M681.3 163h0M683.6 162.5h0M681.2 154.5h0M686.6 147h0M689.9 169.5h0M689.2 149.8h0M685.7 146.7h0M683.6 173.5h0M680.7 164h0M680.6 160.8h0M687.8 153.1h0M684.8 148.3h0M686.6 144.4h0M685 171.2h0M683 148.7h0M686.2 155.9h0M680.2 167.3h0M685.6 144.1h0M683.1 151.3h0M686.6 164.5h0M686 147.9h0M681 156.1h0M680.4 150.1h0M684.5 144.4h0M684.8 147.7h0M680.5 153.9h0M679.8 159.8h0M686.8 171.6h0M682.9 173.4h0M680.4 156.4h0M687.4 164.7h0M685.7 146.6h0M685.3 164.7h0M688.9 153.5h0M684.2 161.7h0M690.1 170.2h0M686.4 162.1h0M689.2 165.1h0M685.5 167.1h0M686.1 157.4h0M683.8 156.4h0M688.4 153.2h0M684.9 157.4h0M688.2 154.3h0M688.4 159.5h0M679.9 168.7h0M680.3 164.9h0M681 155.8h0M687.2 144.8h0M681.9 169.9h0M682.6 158h0M688.3 152.9h0M687.3 151h0M685.2 151.8h0M689.6 154.4h0M685.2 157.6h0M679.2 161.2h0M684.9 170.2h0M687.2 168.1h0M687.6 156.2h0M687.7 171.1h0M681.7 171.9h0M686.6 144.7h0M687.7 173.2h0M688.2 172.7h0M687.3 145.5h0M688.3 155.5h0M683.8 149.8h0M682.9 160.6h0M689.1 154.2h0M689.6 166.4h0M683.6 144.8h0M688.6 173.6h0M681.4 171.4h0M690.2 157.1h0M683.2 153.7h0M689.4 166.6h0M683.5 151.5h0M686.2 147.3h0M685.4 164.5h0M684.4 168.4h0M685.9 173.6h0M683.7 145.8h0M684.3 145.9h0M682.1 145.9h0M687.9 164.2h0M689.1 155.6h0M682.4 155.7h0M688.6 159.6h0M688.7 147.1h0M683.2 145.5h0M688.9 149.5h0M684.7 158.3h0M690.2 165.7h0M684.6 150.4h0M684.7 164.1h0M686.7 172.3h0M680.3 164.3h0M679.7 154.2h0M684.4 145.8h0M689.4 171.8h0M680.5 172.4h0M690 171.2h0M684 151.2h0M681.9 158h0M681.5 149.4h0M684.4 167.6h0M689.9 168.1h0M685.1 162.2h0M679.5 153.4h0M688.3 145.5h0M680.2 151.1h0M686.5 145.5h0M688.7 166.1h0M689.3 157.4h0M684.9 173.9h0M687.8 144.2h0M685.5 156.5h0M687.8 154.4h0M680.3 162.7h0M687 151.1h0M688.8 155h0M687.4 146h0M684.2 150.9h0M682.7 163.6h0M688.7 169.9h0M681.2 170.2h0M679.7 157.7h0M686.7 152.8h0M685.5 163.5h0M685.9 158.3h0M681.7 144h0M684.2 167.2h0M683.9 149.1h0M686.7 159.4h0M679.5 166.8h0M683.5 161.8h0M688.9 153.8h0M687.4 162h0M687.1 158h0M685 155.8h0M680.9 149.7h0M683.4 143.7h0M680.1 157h0M685.8 170.7h0M687.9 151.8h0M686.1 149.7h0M688.3 168.4h0M685.7 165h0M680.7 173h0M683.3 145.4h0M685.5 152.5h0M689.2 163.1h0M684.4 145.8h0M684.5 169.7h0M684 147.3h0M680.5 147.8h0M680.7 152.6h0M688.9 154.9h0M686 162.7h0M685.3 174h0M687.4 158h0M681.7 155.3h0M685 158.9h0M688.1 152.2h0M686.8 154.7h0M684.3 145.6h0M681.3 153.2h0M686.1 154.1h0M689.5 155.3h0M681.3 163.3h0M687.8 150.3h0M689 151.2h0M680.3 152h0M685.9 158.6h0M680.7 165.7h0M686.6 160.4h0M683 148.9h0M690.1 170h0M687.6 145.9h0M685.9 151.2h0M687.4 167.4h0M687.1 168.8h0M686.6 169h0M688.8 156.1h0M682.2 163.1h0M686.7 143.7h0M686.8 173.4h0M689 166.2h0M685.8 172.5h0M685 171.3h0M688.7 157.8h0M689.9 168.6h0M688.1 154.7h0M687.1 173h0M682.2 149.1h0M685 168.2h0M688.2 148.4h0M680.8 147.6h0M682.6 155h0M682.8 170.9h0M689.4 162.1h0M682.4 145.2h0M689.3 165.6h0M689.6 154.6h0M686.2 162.5h0M687 147.9h0M680.8 156.9h0M682.4 147.6h0M680.3 158.3h0M687.3 149.4h0M688.4 167.5h0M686 162.4h0M687.3 148.8h0M685.7 168.3h0M679.8 159.9h0M683.7 144.7h0M683 171.5h0M689.5 171.2h0M684.3 151.6h0M686.3 169.4h0M682 161.1h0M685.2 147.4h0M687.1 159.5h0M680.7 136.5h0M689.2 137.5h0M689.7 133.5h0M685.7 132h0M683.7 140h0M686.7 141h0" stroke="#000" stroke-width="2.7" stroke-linecap="round" fill="none"/>
<path d="M723.6 88.3h0M730.7 95.4h0M722.7 137h0M724.5 140.2h0M727.7 143.5h0M729.5 148.6h0M723.4 153.8h0M726.2 157.2h0M729.5 159.9h0M724.7 165.6h0" stroke="#000" stroke-width="2.9" stroke-linecap="round" fill="none"/>
<path d="M725.3 145.8h0" stroke="#fff" stroke-width="4.4" stroke-linecap="round" fill="none"/>
<line x1="657.4" y1="172.4" x2="660.6" y2="172.4" stroke="#333" stroke-width="1"/>
<text x="656.1" y="175.7" font-size="9.2" text-anchor="end" fill="#4d4d4d">0.0</text>
<line x1="657.4" y1="140.4" x2="660.6" y2="140.4" stroke="#333" stroke-width="1"/>
<text x="656.1" y="143.7" font-size="9.2" text-anchor="end" fill="#4d4d4d">0.5</text>
<line x1="657.4" y1="108.5" x2="660.6" y2="108.5" stroke="#333" stroke-width="1"/>
<text x="656.1" y="111.8" font-size="9.2" text-anchor="end" fill="#4d4d4d">1.0</text>
<line x1="657.4" y1="76.5" x2="660.6" y2="76.5" stroke="#333" stroke-width="1"/>
<text x="656.1" y="79.8" font-size="9.2" text-anchor="end" fill="#4d4d4d">1.5</text>
<line x1="684.1" y1="84.9" x2="724" y2="84.9" stroke="#333" stroke-width="0.8"/>
<text x="705.5" y="83.1" font-size="8.7" text-anchor="middle" fill="#333">8e-05</text>
<rect x="333.2" y="59" width="89.6" height="135" fill="none" stroke="#333" stroke-width="1.2"/>
<line x1="357.7" y1="194" x2="357.7" y2="196.8" stroke="#333" stroke-width="1"/>
<text x="360.3" y="206" font-size="8.8" text-anchor="end" font-weight="bold" fill="#1a1a1a" transform="rotate(-25 360.3 206)">MAFLD</text>
<line x1="398.5" y1="194" x2="398.5" y2="196.8" stroke="#333" stroke-width="1"/>
<text x="401.1" y="206" font-size="8.8" text-anchor="end" font-weight="bold" fill="#1a1a1a" transform="rotate(-25 401.1 206)">Control</text>
<rect x="440" y="59" width="89.6" height="135" fill="none" stroke="#333" stroke-width="1.2"/>
<line x1="464.5" y1="194" x2="464.5" y2="196.8" stroke="#333" stroke-width="1"/>
<text x="467.1" y="206" font-size="8.8" text-anchor="end" font-weight="bold" fill="#1a1a1a" transform="rotate(-25 467.1 206)">MAFLD</text>
<line x1="505.3" y1="194" x2="505.3" y2="196.8" stroke="#333" stroke-width="1"/>
<text x="507.9" y="206" font-size="8.8" text-anchor="end" font-weight="bold" fill="#1a1a1a" transform="rotate(-25 507.9 206)">Control</text>
<rect x="546.2" y="59" width="89.6" height="135" fill="none" stroke="#333" stroke-width="1.2"/>
<line x1="570.7" y1="194" x2="570.7" y2="196.8" stroke="#333" stroke-width="1"/>
<text x="573.3" y="206" font-size="8.8" text-anchor="end" font-weight="bold" fill="#1a1a1a" transform="rotate(-25 573.3 206)">MAFLD</text>
<line x1="611.5" y1="194" x2="611.5" y2="196.8" stroke="#333" stroke-width="1"/>
<text x="614.1" y="206" font-size="8.8" text-anchor="end" font-weight="bold" fill="#1a1a1a" transform="rotate(-25 614.1 206)">Control</text>
<rect x="660.6" y="59" width="89.6" height="135" fill="none" stroke="#333" stroke-width="1.2"/>
<line x1="685.1" y1="194" x2="685.1" y2="196.8" stroke="#333" stroke-width="1"/>
<text x="687.7" y="206" font-size="8.8" text-anchor="end" font-weight="bold" fill="#1a1a1a" transform="rotate(-25 687.7 206)">MAFLD</text>
<line x1="725.9" y1="194" x2="725.9" y2="196.8" stroke="#333" stroke-width="1"/>
<text x="728.5" y="206" font-size="8.8" text-anchor="end" font-weight="bold" fill="#1a1a1a" transform="rotate(-25 728.5 206)">Control</text>
<text x="310.2" y="125.4" font-size="11.6" text-anchor="middle" font-weight="bold" fill="#1a1a1a" transform="rotate(-90 310.2 125.4)">TPM Gene Expression log2(x+1)</text>
<line x1="64" y1="263" x2="64" y2="430" stroke="#f2f2f2" stroke-width="0.5"/>
<line x1="118" y1="263" x2="118" y2="430" stroke="#f2f2f2" stroke-width="0.5"/>
<line x1="172" y1="263" x2="172" y2="430" stroke="#f2f2f2" stroke-width="0.5"/>
<line x1="226" y1="263" x2="226" y2="430" stroke="#f2f2f2" stroke-width="0.5"/>
<line x1="37" y1="263" x2="37" y2="430" stroke="#e6e6e6" stroke-width="0.7"/>
<line x1="91" y1="263" x2="91" y2="430" stroke="#e6e6e6" stroke-width="0.7"/>
<line x1="145" y1="263" x2="145" y2="430" stroke="#e6e6e6" stroke-width="0.7"/>
<line x1="199" y1="263" x2="199" y2="430" stroke="#e6e6e6" stroke-width="0.7"/>
<line x1="253" y1="263" x2="253" y2="430" stroke="#e6e6e6" stroke-width="0.7"/>
<line x1="37" y1="275.8" x2="265" y2="275.8" stroke="#e6e6e6" stroke-width="0.7"/>
<line x1="37" y1="296.2" x2="265" y2="296.2" stroke="#e6e6e6" stroke-width="0.7"/>
<line x1="37" y1="316.7" x2="265" y2="316.7" stroke="#e6e6e6" stroke-width="0.7"/>
<line x1="37" y1="337.1" x2="265" y2="337.1" stroke="#e6e6e6" stroke-width="0.7"/>
<line x1="37" y1="357.6" x2="265" y2="357.6" stroke="#e6e6e6" stroke-width="0.7"/>
<line x1="37" y1="378.1" x2="265" y2="378.1" stroke="#e6e6e6" stroke-width="0.7"/>
<line x1="37" y1="398.5" x2="265" y2="398.5" stroke="#e6e6e6" stroke-width="0.7"/>
<line x1="37" y1="419" x2="265" y2="419" stroke="#e6e6e6" stroke-width="0.7"/>
<rect x="37" y="266.7" width="217.4" height="18.2" fill="#66b2a0" stroke="#6a7d78" stroke-width="1.0"/>
<text x="34.8" y="277.4" font-size="4.5" text-anchor="end" fill="#4d4d4d">ANPEP</text>
<rect x="37" y="287.1" width="163.3" height="18.2" fill="#66b2a0" stroke="#6a7d78" stroke-width="1.0"/>
<text x="34.8" y="297.9" font-size="4.5" text-anchor="end" fill="#4d4d4d">PTGS2</text>
<rect x="37" y="307.6" width="152" height="18.2" fill="#66b2a0" stroke="#6a7d78" stroke-width="1.0"/>
<text x="34.8" y="318.3" font-size="4.5" text-anchor="end" fill="#4d4d4d">CASP1</text>
<rect x="37" y="328" width="21.2" height="18.2" fill="#66b2a0" stroke="#6a7d78" stroke-width="1.0"/>
<text x="34.8" y="338.8" font-size="4.5" text-anchor="end" fill="#4d4d4d">RELA</text>
<rect x="37" y="348.5" width="13.2" height="18.2" fill="#66b2a0" stroke="#6a7d78" stroke-width="1.0"/>
<text x="34.8" y="359.2" font-size="4.5" text-anchor="end" fill="#4d4d4d">IL1B</text>
<rect x="37" y="368.9" width="7.7" height="18.2" fill="#66b2a0" stroke="#6a7d78" stroke-width="1.0"/>
<text x="34.8" y="379.7" font-size="4.5" text-anchor="end" fill="#4d4d4d">ICAM1</text>
<line x1="37.5" y1="389.4" x2="37.5" y2="407.6" stroke="#2f4f47" stroke-width="1.1"/>
<text x="34.8" y="400.1" font-size="4.5" text-anchor="end" fill="#4d4d4d">MMP2</text>
<line x1="37.3" y1="409.9" x2="37.3" y2="428.1" stroke="#c9c9c9" stroke-width="0.8"/>
<text x="34.8" y="420.6" font-size="4.5" text-anchor="end" fill="#4d4d4d">ACE</text>
<text x="151" y="260.6" font-size="5.36" text-anchor="middle" fill="#1a1a1a">Gene Importance (Gradient Boosting Machine)</text>
<text x="37" y="435.8" font-size="3.9" text-anchor="middle" fill="#4d4d4d">0</text>
<text x="91" y="435.8" font-size="3.9" text-anchor="middle" fill="#4d4d4d">25</text>
<text x="145" y="435.8" font-size="3.9" text-anchor="middle" fill="#4d4d4d">50</text>
<text x="199" y="435.8" font-size="3.9" text-anchor="middle" fill="#4d4d4d">75</text>
<text x="253" y="435.8" font-size="3.9" text-anchor="middle" fill="#4d4d4d">100</text>
<text x="151.2" y="441.5" font-size="5.5" text-anchor="middle" fill="#1a1a1a">Importance</text>
<line x1="304.8" y1="440.9" x2="492.1" y2="253.2" stroke="#c2c2c2" stroke-width="0.9"/>
<line x1="311.6" y1="260.2" x2="485.9" y2="260.2" stroke="#ef7b7e" stroke-width="2.2"/>
<line x1="311.6" y1="433.5" x2="311.6" y2="259.5" stroke="#e4262c" stroke-width="1.5"/>
<rect x="304.8" y="253.2" width="187.3" height="187.7" fill="none" stroke="#8f8f8f" stroke-width="1.2"/>
<line x1="299.8" y1="433.5" x2="304.8" y2="433.5" stroke="#666" stroke-width="0.9"/>
<text x="292.9" y="433.5" font-size="9" text-anchor="middle" fill="#333" transform="rotate(-90 292.9 433.5)">0.0</text>
<line x1="311.6" y1="440.9" x2="311.6" y2="446.3" stroke="#666" stroke-width="0.9"/>
<text x="311.6" y="458.8" font-size="9" text-anchor="middle" fill="#333">0.0</text>
<line x1="299.8" y1="398.8" x2="304.8" y2="398.8" stroke="#666" stroke-width="0.9"/>
<text x="292.9" y="398.8" font-size="9" text-anchor="middle" fill="#333" transform="rotate(-90 292.9 398.8)">0.2</text>
<line x1="346.5" y1="440.9" x2="346.5" y2="446.3" stroke="#666" stroke-width="0.9"/>
<text x="346.5" y="458.8" font-size="9" text-anchor="middle" fill="#333">0.2</text>
<line x1="299.8" y1="364.2" x2="304.8" y2="364.2" stroke="#666" stroke-width="0.9"/>
<text x="292.9" y="364.2" font-size="9" text-anchor="middle" fill="#333" transform="rotate(-90 292.9 364.2)">0.4</text>
<line x1="381.3" y1="440.9" x2="381.3" y2="446.3" stroke="#666" stroke-width="0.9"/>
<text x="381.3" y="458.8" font-size="9" text-anchor="middle" fill="#333">0.4</text>
<line x1="299.8" y1="329.5" x2="304.8" y2="329.5" stroke="#666" stroke-width="0.9"/>
<text x="292.9" y="329.5" font-size="9" text-anchor="middle" fill="#333" transform="rotate(-90 292.9 329.5)">0.6</text>
<line x1="416.2" y1="440.9" x2="416.2" y2="446.3" stroke="#666" stroke-width="0.9"/>
<text x="416.2" y="458.8" font-size="9" text-anchor="middle" fill="#333">0.6</text>
<line x1="299.8" y1="294.9" x2="304.8" y2="294.9" stroke="#666" stroke-width="0.9"/>
<text x="292.9" y="294.9" font-size="9" text-anchor="middle" fill="#333" transform="rotate(-90 292.9 294.9)">0.8</text>
<line x1="451" y1="440.9" x2="451" y2="446.3" stroke="#666" stroke-width="0.9"/>
<text x="451" y="458.8" font-size="9" text-anchor="middle" fill="#333">0.8</text>
<line x1="299.8" y1="260.2" x2="304.8" y2="260.2" stroke="#666" stroke-width="0.9"/>
<text x="292.9" y="260.2" font-size="9" text-anchor="middle" fill="#333" transform="rotate(-90 292.9 260.2)">1.0</text>
<line x1="485.9" y1="440.9" x2="485.9" y2="446.3" stroke="#666" stroke-width="0.9"/>
<text x="485.9" y="458.8" font-size="9" text-anchor="middle" fill="#333">1.0</text>
<text x="399" y="473.8" font-size="8.3" text-anchor="middle" fill="#333">1 − Specificity</text>
<text x="278.6" y="346.8" font-size="8.6" text-anchor="middle" fill="#333" transform="rotate(-90 278.6 346.8)">Sensitivity</text>
<line x1="388.2" y1="428.4" x2="403.9" y2="428.4" stroke="#e4262c" stroke-width="1.6"/>
<text x="410.8" y="431.4" font-size="8.3" fill="#333">GBM (AUC = 1.000)</text>
<line x1="533.8" y1="265" x2="533.8" y2="393" stroke="#eeeeee" stroke-width="0.6"/>
<line x1="527" y1="385.6" x2="750" y2="385.6" stroke="#eeeeee" stroke-width="0.6"/>
<line x1="575.6" y1="265" x2="575.6" y2="393" stroke="#eeeeee" stroke-width="0.6"/>
<line x1="527" y1="362.8" x2="750" y2="362.8" stroke="#eeeeee" stroke-width="0.6"/>
<line x1="617.4" y1="265" x2="617.4" y2="393" stroke="#eeeeee" stroke-width="0.6"/>
<line x1="527" y1="340" x2="750" y2="340" stroke="#eeeeee" stroke-width="0.6"/>
<line x1="659.2" y1="265" x2="659.2" y2="393" stroke="#eeeeee" stroke-width="0.6"/>
<line x1="527" y1="317.1" x2="750" y2="317.1" stroke="#eeeeee" stroke-width="0.6"/>
<line x1="701" y1="265" x2="701" y2="393" stroke="#eeeeee" stroke-width="0.6"/>
<line x1="527" y1="294.3" x2="750" y2="294.3" stroke="#eeeeee" stroke-width="0.6"/>
<line x1="742.8" y1="265" x2="742.8" y2="393" stroke="#eeeeee" stroke-width="0.6"/>
<line x1="527" y1="271.5" x2="750" y2="271.5" stroke="#eeeeee" stroke-width="0.6"/>
<line x1="533.8" y1="385.6" x2="742.8" y2="385.6" stroke="#9fd3d3" stroke-width="1.5"/>
<path d="M533.8 271.5 L534.6 271.6 L535.5 271.6 L536.3 271.7 L537.1 271.8 L538 271.8 L538.8 271.9 L539.7 272 L540.5 272 L541.3 272.1 L542.2 272.2 L543 272.3 L543.8 272.3 L544.7 272.4 L545.5 272.5 L546.3 272.6 L547.2 272.6 L548 272.7 L548.8 272.8 L549.7 272.9 L550.5 272.9 L551.4 273 L552.2 273.1 L553 273.2 L553.9 273.3 L554.7 273.3 L555.5 273.4 L556.4 273.5 L557.2 273.6 L558 273.7 L558.9 273.8 L559.7 273.8 L560.6 273.9 L561.4 274 L562.2 274.1 L563.1 274.2 L563.9 274.3 L564.7 274.4 L565.6 274.5 L566.4 274.6 L567.2 274.7 L568.1 274.7 L568.9 274.8 L569.7 274.9 L570.6 275 L571.4 275.1 L572.3 275.2 L573.1 275.3 L573.9 275.4 L574.8 275.5 L575.6 275.6 L576.4 275.7 L577.3 275.8 L578.1 276 L578.9 276.1 L579.8 276.2 L580.6 276.3 L581.5 276.4 L582.3 276.5 L583.1 276.6 L584 276.7 L584.8 276.8 L585.6 277 L586.5 277.1 L587.3 277.2 L588.1 277.3 L589 277.4 L589.8 277.6 L590.6 277.7 L591.5 277.8 L592.3 277.9 L593.2 278.1 L594 278.2 L594.8 278.3 L595.7 278.5 L596.5 278.6 L597.3 278.7 L598.2 278.9 L599 279 L599.8 279.1 L600.7 279.3 L601.5 279.4 L602.4 279.6 L603.2 279.7 L604 279.9 L604.9 280 L605.7 280.2 L606.5 280.3 L607.4 280.5 L608.2 280.6 L609 280.8 L609.9 281 L610.7 281.1 L611.5 281.3 L612.4 281.5 L613.2 281.6 L614.1 281.8 L614.9 282 L615.7 282.2 L616.6 282.3 L617.4 282.5 L618.2 282.7 L619.1 282.9 L619.9 283.1 L620.7 283.3 L621.6 283.5 L622.4 283.7 L623.3 283.9 L624.1 284.1 L624.9 284.3 L625.8 284.5 L626.6 284.7 L627.4 284.9 L628.3 285.1 L629.1 285.4 L629.9 285.6 L630.8 285.8 L631.6 286.1 L632.4 286.3 L633.3 286.5 L634.1 286.8 L635 287 L635.8 287.3 L636.6 287.5 L637.5 287.8 L638.3 288 L639.1 288.3 L640 288.6 L640.8 288.9 L641.6 289.1 L642.5 289.4 L643.3 289.7 L644.2 290 L645 290.3 L645.8 290.6 L646.7 290.9 L647.5 291.2 L648.3 291.6 L649.2 291.9 L650 292.2 L650.8 292.6 L651.7 292.9 L652.5 293.3 L653.3 293.6 L654.2 294 L655 294.3 L655.9 294.7 L656.7 295.1 L657.5 295.5 L658.4 295.9 L659.2 296.3 L660 296.7 L660.9 297.2 L661.7 297.6 L662.5 298 L663.4 298.5 L664.2 299 L665.1 299.4 L665.9 299.9 L666.7 300.4 L667.6 300.9 L668.4 301.4 L669.2 302 L670.1 302.5 L670.9 303 L671.7 303.6 L672.6 304.2 L673.4 304.8 L674.2 305.4 L675.1 306 L675.9 306.7 L676.8 307.3 L677.6 308 L678.4 308.7 L679.3 309.4 L680.1 310.1 L680.9 310.8 L681.8 311.6 L682.6 312.4 L683.4 313.2 L684.3 314 L685.1 314.9 L686 315.8 L686.8 316.7 L687.6 317.6 L688.5 318.6 L689.3 319.6 L690.1 320.6 L691 321.7 L691.8 322.8 L692.6 323.9 L693.5 325.1 L694.3 326.3 L695.1 327.5 L696 328.8 L696.8 330.2 L697.7 331.6 L698.5 333 L699.3 334.5 L700.2 336.1 L701 337.7 L701.3 338.3 L701.6 338.9 L701.9 339.6 L702.3 340.2 L702.6 340.9 L702.9 341.6 L703.2 342.3 L703.5 343 L703.8 343.7 L704.1 344.4 L704.4 345.1 L704.8 345.9 L705.1 346.6 L705.4 347.4 L705.7 348.2 L706 349 L706.3 349.8 L706.6 350.6 L707 351.4 L707.3 352.3 L707.6 353.1 L707.9 354 L708.2 354.9 L708.5 355.8 L708.8 356.8 L709.2 357.7 L709.5 358.7 L709.8 359.7 L710.1 360.7 L710.4 361.7 L710.7 362.7 L711 363.8 L711.3 364.9 L711.7 366 L712 367.1 L712.3 368.3 L712.6 369.5 L712.9 370.7 L713.2 371.9 L713.5 373.1 L713.9 374.4 L714.2 375.7 L714.5 377.1 L714.8 378.4 L715.1 379.8 L715.4 381.2 L715.7 382.7 L716 384.2 L716.4 385.7 L716.7 387.3 L717 388.9 L717.3 390.6 L717.6 392.3 L717.9 394 L718.2 395.8 L718.6 396" fill="none" stroke="#c0e4e7" stroke-width="0.8"/>
<path d="M533.8 271.5 L534.6 271.5 L535.5 271.6 L536.3 271.6 L537.1 271.6 L538 271.6 L538.8 271.7 L539.7 271.7 L540.5 271.7 L541.3 271.7 L542.2 271.8 L543 271.8 L543.8 271.8 L544.7 271.8 L545.5 271.9 L546.3 271.9 L547.2 271.9 L548 272 L548.8 272 L549.7 272 L550.5 272 L551.4 272.1 L552.2 272.1 L553 272.1 L553.9 272.2 L554.7 272.2 L555.5 272.2 L556.4 272.3 L557.2 272.3 L558 272.3 L558.9 272.4 L559.7 272.4 L560.6 272.4 L561.4 272.5 L562.2 272.5 L563.1 272.5 L563.9 272.6 L564.7 272.6 L565.6 272.6 L566.4 272.7 L567.2 272.7 L568.1 272.7 L568.9 272.8 L569.7 272.8 L570.6 272.8 L571.4 272.9 L572.3 272.9 L573.1 273 L573.9 273 L574.8 273 L575.6 273.1 L576.4 273.1 L577.3 273.1 L578.1 273.2 L578.9 273.2 L579.8 273.3 L580.6 273.3 L581.5 273.4 L582.3 273.4 L583.1 273.4 L584 273.5 L584.8 273.5 L585.6 273.6 L586.5 273.6 L587.3 273.7 L588.1 273.7 L589 273.8 L589.8 273.8 L590.6 273.8 L591.5 273.9 L592.3 273.9 L593.2 274 L594 274 L594.8 274.1 L595.7 274.1 L596.5 274.2 L597.3 274.2 L598.2 274.3 L599 274.3 L599.8 274.4 L600.7 274.5 L601.5 274.5 L602.4 274.6 L603.2 274.6 L604 274.7 L604.9 274.7 L605.7 274.8 L606.5 274.8 L607.4 274.9 L608.2 275 L609 275 L609.9 275.1 L610.7 275.2 L611.5 275.2 L612.4 275.3 L613.2 275.3 L614.1 275.4 L614.9 275.5 L615.7 275.5 L616.6 275.6 L617.4 275.7 L618.2 275.8 L619.1 275.8 L619.9 275.9 L620.7 276 L621.6 276 L622.4 276.1 L623.3 276.2 L624.1 276.3 L624.9 276.4 L625.8 276.4 L626.6 276.5 L627.4 276.6 L628.3 276.7 L629.1 276.8 L629.9 276.8 L630.8 276.9 L631.6 277 L632.4 277.1 L633.3 277.2 L634.1 277.3 L635 277.4 L635.8 277.5 L636.6 277.6 L637.5 277.7 L638.3 277.8 L639.1 277.9 L640 278 L640.8 278.1 L641.6 278.2 L642.5 278.3 L643.3 278.4 L644.2 278.5 L645 278.6 L645.8 278.7 L646.7 278.9 L647.5 279 L648.3 279.1 L649.2 279.2 L650 279.4 L650.8 279.5 L651.7 279.6 L652.5 279.8 L653.3 279.9 L654.2 280 L655 280.2 L655.9 280.3 L656.7 280.5 L657.5 280.6 L658.4 280.8 L659.2 280.9 L660 281.1 L660.9 281.2 L661.7 281.4 L662.5 281.6 L663.4 281.7 L664.2 281.9 L665.1 282.1 L665.9 282.3 L666.7 282.5 L667.6 282.7 L668.4 282.9 L669.2 283.1 L670.1 283.3 L670.9 283.5 L671.7 283.7 L672.6 283.9 L673.4 284.1 L674.2 284.4 L675.1 284.6 L675.9 284.8 L676.8 285.1 L677.6 285.3 L678.4 285.6 L679.3 285.9 L680.1 286.1 L680.9 286.4 L681.8 286.7 L682.6 287 L683.4 287.3 L684.3 287.6 L685.1 288 L686 288.3 L686.8 288.6 L687.6 289 L688.5 289.4 L689.3 289.7 L690.1 290.1 L691 290.5 L691.8 290.9 L692.6 291.4 L693.5 291.8 L694.3 292.3 L695.1 292.7 L696 293.2 L696.8 293.7 L697.7 294.3 L698.5 294.8 L699.3 295.4 L700.2 296 L701 296.6 L701.3 296.8 L701.6 297.1 L701.9 297.3 L702.3 297.6 L702.6 297.8 L702.9 298.1 L703.2 298.3 L703.5 298.6 L703.8 298.9 L704.1 299.1 L704.4 299.4 L704.8 299.7 L705.1 300 L705.4 300.3 L705.7 300.6 L706 300.9 L706.3 301.2 L706.6 301.5 L707 301.8 L707.3 302.1 L707.6 302.5 L707.9 302.8 L708.2 303.1 L708.5 303.5 L708.8 303.8 L709.2 304.2 L709.5 304.6 L709.8 304.9 L710.1 305.3 L710.4 305.7 L710.7 306.1 L711 306.5 L711.3 306.9 L711.7 307.3 L712 307.8 L712.3 308.2 L712.6 308.7 L712.9 309.1 L713.2 309.6 L713.5 310 L713.9 310.5 L714.2 311 L714.5 311.5 L714.8 312.1 L715.1 312.6 L715.4 313.1 L715.7 313.7 L716 314.3 L716.4 314.8 L716.7 315.4 L717 316 L717.3 316.7 L717.6 317.3 L717.9 318 L718.2 318.6 L718.6 319.3 L718.9 320 L719.2 320.8 L719.5 321.5 L719.8 322.3 L720.1 323.1 L720.4 323.9 L720.8 324.7 L721.1 325.6 L721.4 326.4 L721.7 327.4 L722 328.3 L722.3 329.3 L722.6 330.3 L722.9 331.3 L723.3 332.3 L723.6 333.4 L723.9 334.6 L724.2 335.7 L724.5 336.9 L724.8 338.2 L725.1 339.5 L725.5 340.8 L725.8 342.2 L726.1 343.7 L726.4 345.2 L726.7 346.7 L727 348.3 L727.3 350 L727.6 351.8 L728 353.6 L728.3 355.5 L728.6 357.5 L728.9 359.6 L729.2 361.8 L729.5 364.1 L729.8 366.4 L730.2 369 L730.5 371.6 L730.8 374.4 L731.1 377.3 L731.4 380.4 L731.7 383.6 L732 387.1 L732.3 390.7 L732.7 394.6 L733 396" fill="none" stroke="#9dcfd8" stroke-width="1.0"/>
<path d="M533.8 271.5 L534.6 271.5 L535.5 271.5 L536.3 271.5 L537.1 271.5 L538 271.6 L538.8 271.6 L539.7 271.6 L540.5 271.6 L541.3 271.6 L542.2 271.6 L543 271.6 L543.8 271.6 L544.7 271.7 L545.5 271.7 L546.3 271.7 L547.2 271.7 L548 271.7 L548.8 271.7 L549.7 271.7 L550.5 271.7 L551.4 271.8 L552.2 271.8 L553 271.8 L553.9 271.8 L554.7 271.8 L555.5 271.8 L556.4 271.8 L557.2 271.9 L558 271.9 L558.9 271.9 L559.7 271.9 L560.6 271.9 L561.4 271.9 L562.2 271.9 L563.1 272 L563.9 272 L564.7 272 L565.6 272 L566.4 272 L567.2 272 L568.1 272.1 L568.9 272.1 L569.7 272.1 L570.6 272.1 L571.4 272.1 L572.3 272.1 L573.1 272.2 L573.9 272.2 L574.8 272.2 L575.6 272.2 L576.4 272.2 L577.3 272.2 L578.1 272.3 L578.9 272.3 L579.8 272.3 L580.6 272.3 L581.5 272.3 L582.3 272.4 L583.1 272.4 L584 272.4 L584.8 272.4 L585.6 272.4 L586.5 272.5 L587.3 272.5 L588.1 272.5 L589 272.5 L589.8 272.5 L590.6 272.6 L591.5 272.6 L592.3 272.6 L593.2 272.6 L594 272.7 L594.8 272.7 L595.7 272.7 L596.5 272.7 L597.3 272.7 L598.2 272.8 L599 272.8 L599.8 272.8 L600.7 272.8 L601.5 272.9 L602.4 272.9 L603.2 272.9 L604 272.9 L604.9 273 L605.7 273 L606.5 273 L607.4 273 L608.2 273.1 L609 273.1 L609.9 273.1 L610.7 273.2 L611.5 273.2 L612.4 273.2 L613.2 273.2 L614.1 273.3 L614.9 273.3 L615.7 273.3 L616.6 273.4 L617.4 273.4 L618.2 273.4 L619.1 273.5 L619.9 273.5 L620.7 273.5 L621.6 273.6 L622.4 273.6 L623.3 273.6 L624.1 273.7 L624.9 273.7 L625.8 273.7 L626.6 273.8 L627.4 273.8 L628.3 273.9 L629.1 273.9 L629.9 273.9 L630.8 274 L631.6 274 L632.4 274 L633.3 274.1 L634.1 274.1 L635 274.2 L635.8 274.2 L636.6 274.3 L637.5 274.3 L638.3 274.4 L639.1 274.4 L640 274.4 L640.8 274.5 L641.6 274.5 L642.5 274.6 L643.3 274.6 L644.2 274.7 L645 274.7 L645.8 274.8 L646.7 274.8 L647.5 274.9 L648.3 275 L649.2 275 L650 275.1 L650.8 275.1 L651.7 275.2 L652.5 275.3 L653.3 275.3 L654.2 275.4 L655 275.4 L655.9 275.5 L656.7 275.6 L657.5 275.6 L658.4 275.7 L659.2 275.8 L660 275.9 L660.9 275.9 L661.7 276 L662.5 276.1 L663.4 276.2 L664.2 276.2 L665.1 276.3 L665.9 276.4 L666.7 276.5 L667.6 276.6 L668.4 276.7 L669.2 276.8 L670.1 276.8 L670.9 276.9 L671.7 277 L672.6 277.1 L673.4 277.2 L674.2 277.3 L675.1 277.5 L675.9 277.6 L676.8 277.7 L677.6 277.8 L678.4 277.9 L679.3 278 L680.1 278.2 L680.9 278.3 L681.8 278.4 L682.6 278.6 L683.4 278.7 L684.3 278.8 L685.1 279 L686 279.1 L686.8 279.3 L687.6 279.5 L688.5 279.6 L689.3 279.8 L690.1 280 L691 280.1 L691.8 280.3 L692.6 280.5 L693.5 280.7 L694.3 280.9 L695.1 281.2 L696 281.4 L696.8 281.6 L697.7 281.9 L698.5 282.1 L699.3 282.4 L700.2 282.6 L701 282.9 L701.3 283 L701.6 283.1 L701.9 283.2 L702.3 283.4 L702.6 283.5 L702.9 283.6 L703.2 283.7 L703.5 283.8 L703.8 283.9 L704.1 284.1 L704.4 284.2 L704.8 284.3 L705.1 284.5 L705.4 284.6 L705.7 284.7 L706 284.9 L706.3 285 L706.6 285.1 L707 285.3 L707.3 285.4 L707.6 285.6 L707.9 285.7 L708.2 285.9 L708.5 286 L708.8 286.2 L709.2 286.4 L709.5 286.5 L709.8 286.7 L710.1 286.9 L710.4 287.1 L710.7 287.2 L711 287.4 L711.3 287.6 L711.7 287.8 L712 288 L712.3 288.2 L712.6 288.4 L712.9 288.6 L713.2 288.8 L713.5 289 L713.9 289.2 L714.2 289.5 L714.5 289.7 L714.8 289.9 L715.1 290.2 L715.4 290.4 L715.7 290.7 L716 290.9 L716.4 291.2 L716.7 291.5 L717 291.7 L717.3 292 L717.6 292.3 L717.9 292.6 L718.2 292.9 L718.6 293.2 L718.9 293.6 L719.2 293.9 L719.5 294.2 L719.8 294.6 L720.1 294.9 L720.4 295.3 L720.8 295.7 L721.1 296.1 L721.4 296.5 L721.7 296.9 L722 297.3 L722.3 297.8 L722.6 298.2 L722.9 298.7 L723.3 299.2 L723.6 299.7 L723.9 300.2 L724.2 300.7 L724.5 301.2 L724.8 301.8 L725.1 302.4 L725.5 303 L725.8 303.6 L726.1 304.3 L726.4 305 L726.7 305.7 L727 306.4 L727.3 307.2 L727.6 308 L728 308.8 L728.3 309.7 L728.6 310.6 L728.9 311.5 L729.2 312.5 L729.5 313.6 L729.8 314.7 L730.2 315.8 L730.5 317 L730.8 318.3 L731.1 319.6 L731.4 321 L731.7 322.5 L732 324 L732.3 325.7 L732.7 327.5 L733 329.3 L733.3 331.3 L733.6 333.5 L733.9 335.8 L734.2 338.2 L734.5 340.9 L734.9 343.7 L735.2 346.8 L735.5 350.1 L735.8 353.8 L736.1 357.8 L736.4 362.2 L736.7 367 L737.1 372.4 L737.4 378.4 L737.7 385.1 L738 392.7 L738.3 396" fill="none" stroke="#c8e7ea" stroke-width="0.8"/>
<line x1="533.8" y1="271.5" x2="742.8" y2="271.5" stroke="#eb978e" stroke-width="1.5"/>
<line x1="525.3" y1="271.5" x2="525.3" y2="385.6" stroke="#555" stroke-width="0.7"/>
<line x1="522.4" y1="385.6" x2="525.3" y2="385.6" stroke="#555" stroke-width="0.7"/>
<text x="517.8" y="385.6" font-size="4.6" text-anchor="middle" fill="#333" transform="rotate(-90 517.8 385.6)">0.0</text>
<line x1="522.4" y1="362.8" x2="525.3" y2="362.8" stroke="#555" stroke-width="0.7"/>
<text x="517.8" y="362.8" font-size="4.6" text-anchor="middle" fill="#333" transform="rotate(-90 517.8 362.8)">0.2</text>
<line x1="522.4" y1="340" x2="525.3" y2="340" stroke="#555" stroke-width="0.7"/>
<text x="517.8" y="340" font-size="4.6" text-anchor="middle" fill="#333" transform="rotate(-90 517.8 340)">0.4</text>
<line x1="522.4" y1="317.1" x2="525.3" y2="317.1" stroke="#555" stroke-width="0.7"/>
<text x="517.8" y="317.1" font-size="4.6" text-anchor="middle" fill="#333" transform="rotate(-90 517.8 317.1)">0.6</text>
<line x1="522.4" y1="294.3" x2="525.3" y2="294.3" stroke="#555" stroke-width="0.7"/>
<text x="517.8" y="294.3" font-size="4.6" text-anchor="middle" fill="#333" transform="rotate(-90 517.8 294.3)">0.8</text>
<line x1="522.4" y1="271.5" x2="525.3" y2="271.5" stroke="#555" stroke-width="0.7"/>
<text x="517.8" y="271.5" font-size="4.6" text-anchor="middle" fill="#333" transform="rotate(-90 517.8 271.5)">1.0</text>
<text x="503.6" y="330.7" font-size="5.2" text-anchor="middle" fill="#333" transform="rotate(-90 503.6 330.7)">Net Benefit</text>
<line x1="533.8" y1="396.4" x2="742.8" y2="396.4" stroke="#555" stroke-width="0.7"/>
<line x1="533.8" y1="396.4" x2="533.8" y2="399.3" stroke="#555" stroke-width="0.7"/>
<text x="533.8" y="408.9" font-size="4.8" text-anchor="middle" fill="#333">0.0</text>
<line x1="575.6" y1="396.4" x2="575.6" y2="399.3" stroke="#555" stroke-width="0.7"/>
<text x="575.6" y="408.9" font-size="4.8" text-anchor="middle" fill="#333">0.2</text>
<line x1="617.4" y1="396.4" x2="617.4" y2="399.3" stroke="#555" stroke-width="0.7"/>
<text x="617.4" y="408.9" font-size="4.8" text-anchor="middle" fill="#333">0.4</text>
<line x1="659.2" y1="396.4" x2="659.2" y2="399.3" stroke="#555" stroke-width="0.7"/>
<text x="659.2" y="408.9" font-size="4.8" text-anchor="middle" fill="#333">0.6</text>
<line x1="701" y1="396.4" x2="701" y2="399.3" stroke="#555" stroke-width="0.7"/>
<text x="701" y="408.9" font-size="4.8" text-anchor="middle" fill="#333">0.8</text>
<line x1="742.8" y1="396.4" x2="742.8" y2="399.3" stroke="#555" stroke-width="0.7"/>
<text x="742.8" y="408.9" font-size="4.8" text-anchor="middle" fill="#333">1.0</text>
<text x="638.5" y="416.2" font-size="5.66" text-anchor="middle" fill="#333">Threshold Probability</text>
<line x1="535.9" y1="423.3" x2="740.7" y2="423.3" stroke="#555" stroke-width="0.7"/>
<line x1="535.9" y1="423.3" x2="535.9" y2="425.8" stroke="#555" stroke-width="0.7"/>
<text x="535.9" y="435.1" font-size="4.8" text-anchor="middle" fill="#333">1:100</text>
<line x1="575.6" y1="423.3" x2="575.6" y2="425.8" stroke="#555" stroke-width="0.7"/>
<text x="575.6" y="435.1" font-size="4.8" text-anchor="middle" fill="#333">1:4</text>
<line x1="617.4" y1="423.3" x2="617.4" y2="425.8" stroke="#555" stroke-width="0.7"/>
<text x="617.4" y="435.1" font-size="4.8" text-anchor="middle" fill="#333">2:3</text>
<line x1="659.2" y1="423.3" x2="659.2" y2="425.8" stroke="#555" stroke-width="0.7"/>
<text x="659.2" y="435.1" font-size="4.8" text-anchor="middle" fill="#333">3:2</text>
<line x1="701" y1="423.3" x2="701" y2="425.8" stroke="#555" stroke-width="0.7"/>
<text x="701" y="435.1" font-size="4.8" text-anchor="middle" fill="#333">4:1</text>
<line x1="740.7" y1="423.3" x2="740.7" y2="425.8" stroke="#555" stroke-width="0.7"/>
<text x="740.7" y="435.1" font-size="4.8" text-anchor="middle" fill="#333">100:1</text>
<text x="638.5" y="442.6" font-size="5.4" text-anchor="middle" fill="#333">Cost: Benefit Ratio</text>
<rect x="525.3" y="318.2" width="35.6" height="27.2" fill="#fff" stroke="#555" stroke-width="0.6"/>
<line x1="529.8" y1="325.2" x2="541" y2="325.2" stroke="#eb9389" stroke-width="1.2"/>
<text x="545.2" y="326.9" font-size="5.2" fill="#333">GBM</text>
<line x1="529.8" y1="331.8" x2="541" y2="331.8" stroke="#b7e0e4" stroke-width="1.2"/>
<text x="545.2" y="333.5" font-size="5.2" fill="#333">All</text>
<line x1="529.8" y1="338.5" x2="541" y2="338.5" stroke="#9fd3d3" stroke-width="1.2"/>
<text x="545.2" y="340.2" font-size="5.2" fill="#333">None</text>
<line x1="84.6" y1="666.6" x2="256.1" y2="494.1" stroke="#b5b5b5" stroke-width="0.9"/>
<line x1="84.6" y1="494.1" x2="256.1" y2="666.6" stroke="#bdbdbd" stroke-width="0.9" stroke-dasharray="1.6 1.6"/>
<path d="M90.5 660.5 L90.5 614 L106.5 614 L106.5 581.9 L122.4 581.9 L122.4 514.4 L130.4 514.4 L130.4 513.6 L138.4 513.6 L138.4 512.8 L154.4 512.8 L154.4 512 L162.4 512 L162.4 514.4 L170.3 514.4 L170.3 509.6 L186.3 509.6 L186.3 506.4 L202.3 506.4 L202.3 500 L250.2 500" fill="none" stroke="#e6272b" stroke-width="1.5" stroke-linejoin="miter"/>
<rect x="59.7" y="494.1" width="222.9" height="172.5" fill="none" stroke="#8f8f8f" stroke-width="1.2"/>
<line x1="54.2" y1="660.5" x2="59.7" y2="660.5" stroke="#666" stroke-width="0.9"/>
<text x="45" y="660.5" font-size="8.9" text-anchor="middle" fill="#333" transform="rotate(-90 45 660.5)">0.0</text>
<line x1="90.5" y1="666.6" x2="90.5" y2="672.6" stroke="#666" stroke-width="0.9"/>
<text x="90.5" y="687.7" font-size="8.9" text-anchor="middle" fill="#333">0.0</text>
<line x1="54.2" y1="628.4" x2="59.7" y2="628.4" stroke="#666" stroke-width="0.9"/>
<text x="45" y="628.4" font-size="8.9" text-anchor="middle" fill="#333" transform="rotate(-90 45 628.4)">0.2</text>
<line x1="122.4" y1="666.6" x2="122.4" y2="672.6" stroke="#666" stroke-width="0.9"/>
<text x="122.4" y="687.7" font-size="8.9" text-anchor="middle" fill="#333">0.2</text>
<line x1="54.2" y1="596.3" x2="59.7" y2="596.3" stroke="#666" stroke-width="0.9"/>
<text x="45" y="596.3" font-size="8.9" text-anchor="middle" fill="#333" transform="rotate(-90 45 596.3)">0.4</text>
<line x1="154.4" y1="666.6" x2="154.4" y2="672.6" stroke="#666" stroke-width="0.9"/>
<text x="154.4" y="687.7" font-size="8.9" text-anchor="middle" fill="#333">0.4</text>
<line x1="54.2" y1="564.2" x2="59.7" y2="564.2" stroke="#666" stroke-width="0.9"/>
<text x="45" y="564.2" font-size="8.9" text-anchor="middle" fill="#333" transform="rotate(-90 45 564.2)">0.6</text>
<line x1="186.3" y1="666.6" x2="186.3" y2="672.6" stroke="#666" stroke-width="0.9"/>
<text x="186.3" y="687.7" font-size="8.9" text-anchor="middle" fill="#333">0.6</text>
<line x1="54.2" y1="532.1" x2="59.7" y2="532.1" stroke="#666" stroke-width="0.9"/>
<text x="45" y="532.1" font-size="8.9" text-anchor="middle" fill="#333" transform="rotate(-90 45 532.1)">0.8</text>
<line x1="218.3" y1="666.6" x2="218.3" y2="672.6" stroke="#666" stroke-width="0.9"/>
<text x="218.3" y="687.7" font-size="8.9" text-anchor="middle" fill="#333">0.8</text>
<line x1="54.2" y1="500" x2="59.7" y2="500" stroke="#666" stroke-width="0.9"/>
<text x="45" y="500" font-size="8.9" text-anchor="middle" fill="#333" transform="rotate(-90 45 500)">1.0</text>
<line x1="250.2" y1="666.6" x2="250.2" y2="672.6" stroke="#666" stroke-width="0.9"/>
<text x="250.2" y="687.7" font-size="8.9" text-anchor="middle" fill="#333">1.0</text>
<text x="170.6" y="704.8" font-size="9.5" text-anchor="middle" fill="#222">False Positive Rate</text>
<text x="27.6" y="581.2" font-size="9.2" text-anchor="middle" fill="#222" transform="rotate(-90 27.6 581.2)">True Positive Rate</text>
<text x="170.8" y="485" font-size="11.3" text-anchor="middle" font-weight="bold" fill="#111">ROC Curve of ANPEP</text>
<text x="157.7" y="643.1" font-size="8.8" fill="#333">ANPEP</text>
<text x="157.7" y="653.8" font-size="8.8" fill="#333">Cutoff: 107.350</text>
<text x="157.7" y="663.8" font-size="8.8" fill="#333">AUC: 0.84 (95% CI: 0.69–1.00)</text>
<text x="312.2" y="491.2" font-size="10.2" font-weight="bold" fill="#1a1a1a">Anpep in the livers of MAFLD mice</text>
<path d="M393.5 616V514.7H437.4V523" fill="none" stroke="#444" stroke-width="1.1"/>
<text x="415.6" y="508.7" font-size="11.6" text-anchor="middle" fill="#222">p = 0.005</text>
<line x1="364.6" y1="508.9" x2="364.6" y2="663.6" stroke="#333" stroke-width="1.2"/>
<line x1="364.6" y1="663.6" x2="467.3" y2="663.6" stroke="#333" stroke-width="1.2"/>
<line x1="359" y1="663.6" x2="364.6" y2="663.6" stroke="#333" stroke-width="1.1"/>
<text x="356.5" y="667.4" font-size="10.6" text-anchor="end" fill="#222">10.4</text>
<line x1="359" y1="625.1" x2="364.6" y2="625.1" stroke="#333" stroke-width="1.1"/>
<text x="356.5" y="628.9" font-size="10.6" text-anchor="end" fill="#222">10.6</text>
<line x1="359" y1="586.5" x2="364.6" y2="586.5" stroke="#333" stroke-width="1.1"/>
<text x="356.5" y="590.3" font-size="10.6" text-anchor="end" fill="#222">10.8</text>
<line x1="359" y1="548" x2="364.6" y2="548" stroke="#333" stroke-width="1.1"/>
<text x="356.5" y="551.8" font-size="10.6" text-anchor="end" fill="#222">11.0</text>
<line x1="359" y1="509.4" x2="364.6" y2="509.4" stroke="#333" stroke-width="1.1"/>
<text x="356.5" y="513.2" font-size="10.6" text-anchor="end" fill="#222">11.2</text>
<line x1="393.2" y1="663.6" x2="393.2" y2="669.2" stroke="#333" stroke-width="1.1"/>
<text x="395" y="677.2" font-size="9.2" text-anchor="end" fill="#222" transform="rotate(-45 395 677.2)">Control</text>
<line x1="437.3" y1="663.6" x2="437.3" y2="669.2" stroke="#333" stroke-width="1.1"/>
<text x="439.1" y="677.2" font-size="9.2" text-anchor="end" fill="#222" transform="rotate(-45 439.1 677.2)">Aspartame</text>
<text x="329.2" y="582.4" font-size="10.7" text-anchor="middle" fill="#222" transform="rotate(-90 329.2 582.4)">Normalized mRNA expression</text>
<circle cx="383.9" cy="627.9" r="5.4" fill="#f07fa2"/>
<circle cx="402.8" cy="625.4" r="5.4" fill="#f07fa2"/>
<circle cx="393.2" cy="642.6" r="5.4" fill="#f07fa2"/>
<circle cx="393.2" cy="632.1" r="5" fill="#fff" stroke="#c2161f" stroke-width="2"/>
<circle cx="437.3" cy="533.2" r="5.4" fill="#3cbccb"/>
<circle cx="425.7" cy="560.2" r="5.4" fill="#3cbccb"/>
<circle cx="437.3" cy="574.7" r="5.4" fill="#3cbccb"/>
<circle cx="437.3" cy="556" r="5" fill="#fff" stroke="#1d5ca6" stroke-width="2"/>
</svg>
</body></html>
